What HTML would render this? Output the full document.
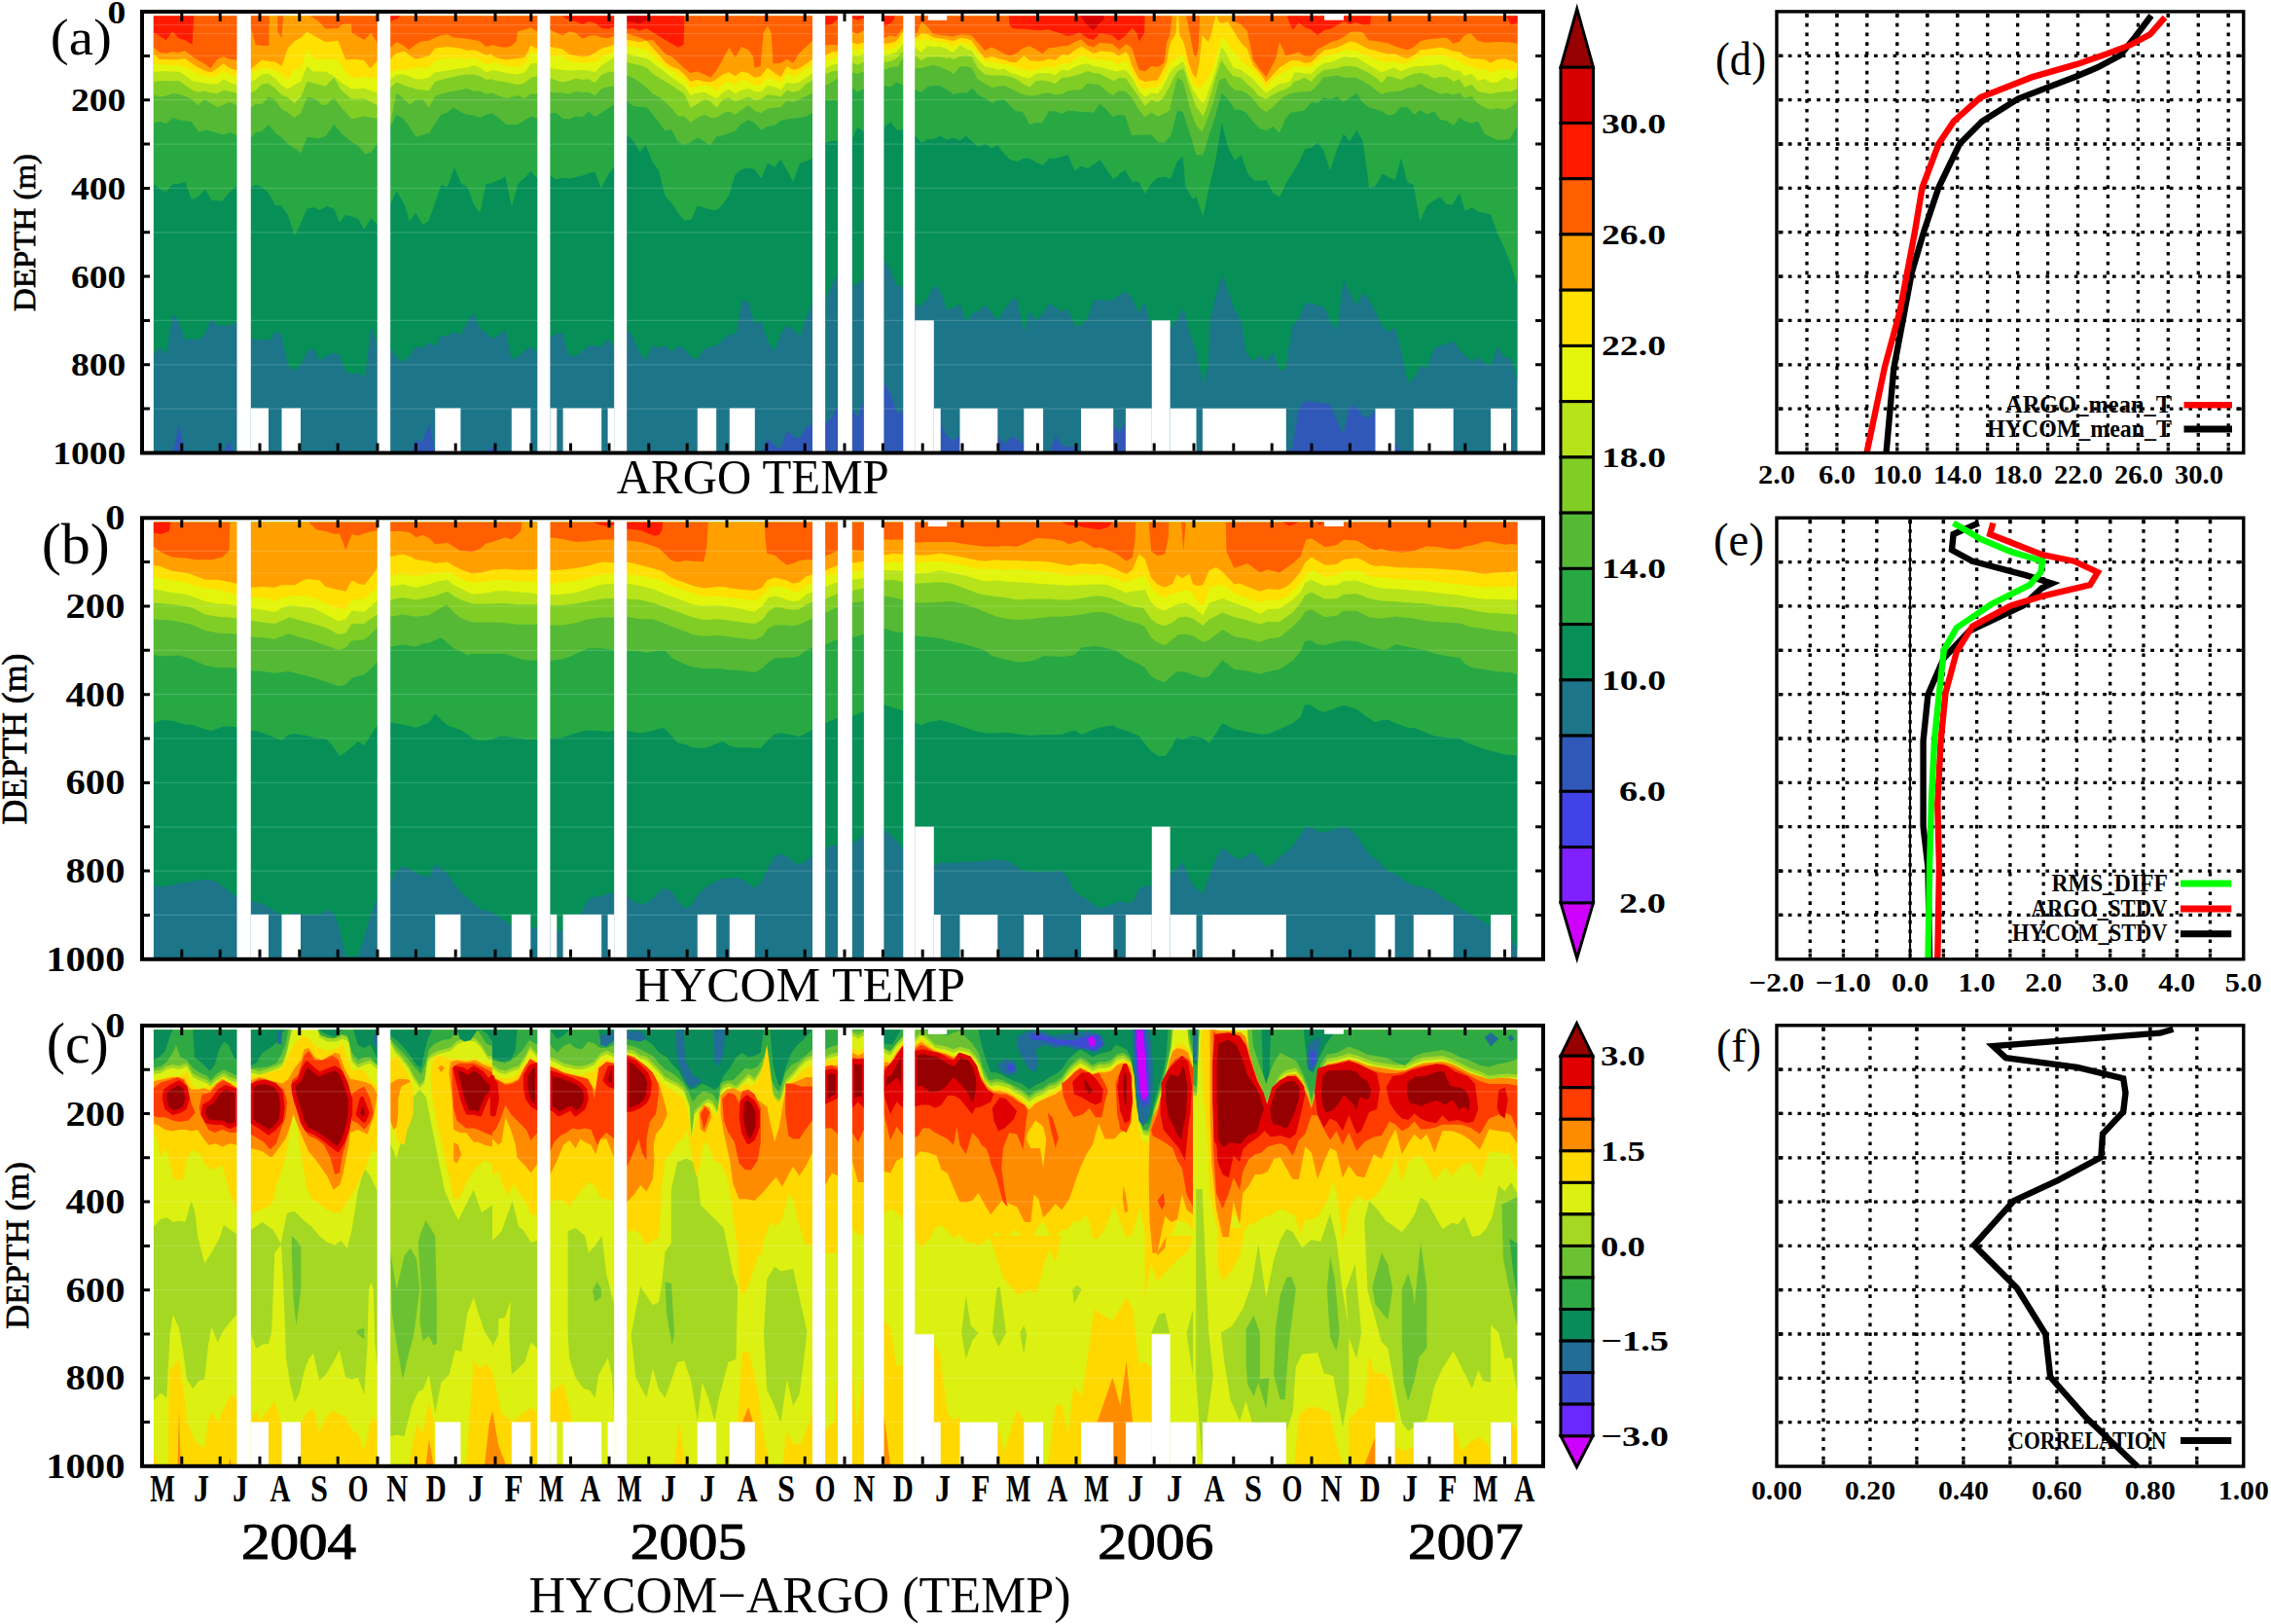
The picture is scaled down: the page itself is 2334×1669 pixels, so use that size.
<!DOCTYPE html>
<html><head><meta charset="utf-8"><style>
html,body{margin:0;padding:0;background:#fff;}
svg{display:block;}
</style></head><body>
<svg xmlns="http://www.w3.org/2000/svg" width="2334" height="1669" viewBox="0 0 2334 1669" font-family='"Liberation Serif", serif'>
<rect width="2334" height="1669" fill="#fff"/>
<clipPath id="clipa"><rect x="157.7" y="16.2" width="1401.8999999999999" height="447.8"/></clipPath><g clip-path="url(#clipa)">
<rect x="157.7" y="16.2" width="1401.8999999999999" height="447.8" fill="#3058B8"/>
<polygon points="157.9,16.2 157.9,466.0 177.7,466.0 184.0,436.9 190.4,466.0 228.4,466.0 236.4,453.5 239.5,466.0 422.6,466.0 427.4,451.9 433.7,455.1 440.9,436.1 447.2,466.0 499.5,466.0 506.0,458.3 506.0,459.9 513.9,466.0 782.6,466.0 789.0,450.4 796.1,458.3 802.4,460.7 808.8,443.2 815.9,448.8 822.3,450.4 828.6,439.3 834.9,436.1 848.1,435.3 854.8,429.7 861.1,417.1 875.8,422.1 881.1,428.4 887.9,411.0 908.5,393.5 915.1,404.6 921.5,424.4 928.3,422.9 934.2,466.0 966.7,466.0 966.7,433.2 973.0,448.2 979.3,452.2 986.5,448.2 1025.3,448.2 1032.5,456.2 1039.6,449.0 1045.9,451.4 1052.3,456.9 1072.1,466.0 1078.4,466.0 1084.8,448.2 1091.1,457.7 1097.5,459.3 1104.6,459.3 1110.9,466.0 1144.2,466.0 1144.2,437.1 1150.6,444.3 1156.9,435.5 1159.3,466.0 1321.8,465.1 1328.6,459.5 1335.0,419.4 1341.4,412.2 1354.2,413.8 1360.6,414.6 1367.0,415.4 1374.3,433.8 1380.7,446.7 1387.1,417.8 1393.5,417.8 1400.7,428.2 1407.1,429.0 1413.5,421.8 1418.3,465.1 1433.6,455.5 1440.8,465.1 1447.2,465.1 1453.6,462.7 1455.2,465.1 1559.4,465.1 1559.4,16.2" fill="#1C7589"/>
<polygon points="157.9,16.2 157.9,364.0 164.2,356.8 170.6,364.7 177.7,321.9 183.3,329.9 190.4,349.7 196.7,348.1 203.9,349.7 210.2,343.3 217.3,328.0 223.7,334.6 230.0,334.6 236.4,334.6 243.5,330.7 257.8,347.3 263.3,349.7 268.9,348.6 276.0,350.0 283.1,341.0 289.5,343.8 295.8,375.1 302.2,381.4 309.3,375.1 315.6,361.6 322.0,358.1 328.3,371.1 335.4,365.5 342.6,362.4 348.9,364.7 355.3,381.4 361.6,384.6 367.9,383.0 375.1,387.7 381.4,334.6 387.8,355.2 401.2,357.6 407.6,367.1 413.9,372.7 421.0,365.5 427.4,356.0 433.7,357.6 440.9,352.1 447.2,356.0 453.5,344.9 459.9,344.9 467.0,341.0 473.4,344.1 479.7,332.3 486.5,321.2 492.4,336.2 499.5,342.6 506.0,348.1 506.0,348.1 513.1,344.1 519.5,338.6 525.8,369.5 532.2,366.3 538.5,361.6 544.8,356.0 552.3,361.6 565.4,346.5 571.8,343.3 578.1,341.8 584.5,364.7 591.6,366.3 597.9,361.6 605.1,355.2 611.4,355.2 617.8,356.8 624.6,348.1 630.9,356.8 644.2,337.8 651.1,347.3 657.4,362.4 663.7,370.3 670.9,355.2 677.2,357.6 683.6,355.2 690.7,361.6 697.0,355.2 703.4,358.4 709.7,366.3 716.8,369.5 724.0,358.4 730.3,356.0 736.7,355.2 743.0,348.9 749.3,344.1 756.5,343.3 762.8,307.7 769.2,310.8 775.5,333.0 782.6,329.9 789.0,350.5 796.1,360.8 802.4,343.3 808.8,333.8 815.9,339.4 822.3,345.7 828.6,326.7 834.9,310.1 848.1,307.7 854.8,292.6 861.1,282.3 875.8,293.6 881.9,291.2 887.9,285.7 908.5,266.6 915.1,276.9 921.5,292.8 928.3,295.2 940.2,313.4 946.8,314.2 953.2,307.1 959.5,293.6 966.7,299.1 973.0,318.2 979.3,316.6 986.5,312.6 992.8,330.8 999.2,322.1 1005.5,319.7 1012.6,313.4 1019.0,321.3 1025.3,329.3 1032.5,318.2 1038.8,308.6 1045.1,307.1 1052.3,340.4 1058.6,319.7 1065.0,329.3 1071.3,322.9 1078.4,311.8 1084.8,315.8 1091.1,320.5 1097.5,317.4 1104.6,334.8 1110.9,334.8 1118.1,326.1 1124.4,307.9 1130.7,308.6 1143.4,308.6 1150.6,303.1 1156.9,299.1 1163.2,306.3 1169.6,321.3 1176.7,311.0 1183.9,338.8 1202.9,336.4 1209.2,329.3 1216.3,316.6 1222.7,341.9 1226.0,351.3 1229.2,360.9 1236.4,394.6 1242.0,373.7 1243.6,328.9 1250.0,302.7 1255.7,281.9 1262.9,301.1 1268.5,317.1 1275.7,330.5 1281.3,364.1 1288.5,371.3 1294.9,364.9 1301.3,371.3 1308.5,361.7 1315.0,380.9 1321.4,378.5 1327.8,336.1 1335.0,327.2 1341.4,311.2 1347.8,312.0 1360.6,315.2 1367.0,330.5 1374.3,339.3 1380.7,288.3 1387.1,301.1 1394.3,313.9 1400.7,300.3 1407.1,308.3 1413.5,320.8 1420.7,335.3 1427.2,341.7 1433.6,335.3 1440.8,364.1 1447.2,393.8 1453.6,387.4 1460.0,376.1 1466.4,378.5 1473.6,358.5 1480.8,354.5 1487.3,353.7 1493.7,350.5 1500.1,359.3 1506.5,366.5 1512.9,371.3 1519.3,366.5 1525.7,372.9 1532.1,376.1 1538.6,356.1 1546.6,367.3 1553.0,368.1 1559.4,391.4 1559.4,16.2" fill="#069058"/>
<polygon points="157.9,16.2 157.9,189.1 165.0,194.7 170.6,197.1 177.7,189.1 184.0,189.1 190.4,186.8 196.7,205.0 203.1,202.6 211.0,194.7 217.3,205.8 228.4,206.6 236.4,197.1 243.5,190.7 257.8,192.3 263.3,189.9 268.9,192.3 276.0,198.6 283.1,211.3 288.7,211.3 295.8,220.8 302.9,242.2 309.3,228.8 315.6,214.5 322.0,212.9 328.3,216.1 336.2,212.1 343.4,214.5 348.9,228.8 355.3,220.8 367.9,224.8 374.3,235.9 381.4,224.0 387.8,230.4 401.2,209.7 407.6,196.3 415.5,209.7 421.0,227.2 427.4,218.5 434.5,231.1 440.9,226.4 447.2,208.2 453.5,189.9 459.9,192.3 467.0,172.5 474.2,189.1 480.5,192.3 486.8,209.7 493.2,219.3 499.5,189.1 506.0,188.3 506.0,187.6 512.3,185.2 519.5,181.2 525.8,212.9 532.2,189.1 539.3,182.8 545.6,175.7 552.3,183.6 565.4,180.4 571.8,184.4 578.1,182.8 585.3,183.6 591.6,182.0 598.7,180.4 605.1,178.0 611.4,176.5 617.8,193.9 624.9,179.6 630.9,171.7 644.2,138.4 651.8,146.3 657.4,156.6 663.7,149.5 670.9,166.9 677.2,175.7 683.6,201.8 690.7,209.0 697.0,219.3 703.4,226.4 710.5,225.6 716.8,211.3 724.0,213.7 729.5,215.3 736.7,216.1 743.0,209.7 749.3,200.2 755.7,179.6 762.0,174.1 769.2,172.5 775.5,174.1 782.6,183.6 789.0,167.7 796.1,171.7 802.4,163.8 808.8,174.9 815.1,186.8 822.3,167.7 828.6,165.4 834.9,163.0 848.1,147.1 854.8,144.7 861.1,144.7 875.9,143.0 881.2,131.0 887.7,135.6 908.2,131.0 915.4,125.5 921.4,133.8 928.5,132.9 940.2,139.0 946.8,146.9 953.2,143.0 959.5,143.0 966.7,139.8 973.0,143.8 979.3,141.4 986.5,144.6 992.8,139.8 999.2,145.4 1005.5,150.9 1012.6,147.7 1019.0,152.5 1025.3,149.3 1032.5,158.8 1038.8,164.4 1045.1,166.0 1052.3,162.8 1057.8,162.8 1065.0,166.8 1071.3,169.9 1078.4,162.8 1084.8,162.8 1091.1,161.2 1097.5,158.8 1104.6,175.5 1110.9,170.7 1118.1,173.1 1124.4,168.4 1130.7,164.4 1137.1,173.9 1144.2,184.2 1149.8,180.2 1150.0,178.7 1156.3,175.1 1163.5,186.6 1170.6,187.0 1176.9,198.9 1183.3,188.6 1190.4,182.2 1196.8,181.8 1203.1,183.8 1209.4,166.4 1215.8,160.8 1218.2,191.0 1226.0,204.9 1229.2,201.7 1236.4,222.6 1242.8,192.1 1249.2,164.9 1255.7,126.4 1262.9,153.7 1269.3,164.9 1275.7,159.3 1282.1,177.7 1289.3,185.7 1294.9,185.7 1301.3,184.9 1308.5,198.5 1315.0,202.5 1322.2,187.3 1328.6,177.7 1335.0,166.5 1341.4,152.9 1347.8,152.1 1354.2,146.4 1360.6,155.3 1367.0,175.3 1373.5,155.3 1380.7,137.6 1387.1,145.6 1394.3,133.6 1400.7,145.6 1403.9,168.1 1407.1,192.9 1413.5,191.3 1420.7,178.5 1426.4,181.7 1433.6,184.9 1440.0,162.5 1446.4,187.3 1452.8,189.7 1459.2,227.4 1466.4,211.4 1472.8,206.6 1480.0,202.5 1486.5,209.8 1492.9,210.6 1500.1,197.7 1505.7,217.0 1512.9,213.0 1519.3,217.8 1532.1,220.2 1538.6,238.6 1546.6,256.2 1553.0,272.3 1559.4,293.1 1559.4,16.2" fill="#27A843"/>
<polygon points="157.9,16.2 157.9,126.5 165.0,124.9 170.6,127.3 177.7,121.0 184.0,123.3 196.7,124.9 203.9,135.2 212.6,133.7 230.0,138.4 236.4,136.0 243.5,139.2 257.8,141.6 263.3,136.0 268.9,135.2 276.0,128.1 283.1,136.8 289.5,141.6 295.8,147.9 302.9,152.7 309.3,157.4 315.6,140.8 328.3,142.4 334.6,140.0 343.4,128.1 350.5,136.8 361.6,146.3 367.9,149.5 375.1,158.2 381.4,156.6 387.8,147.9 401.2,130.5 407.6,117.8 415.5,123.3 421.0,130.5 427.4,140.8 434.5,138.4 440.9,136.8 447.2,127.3 453.5,117.8 459.9,115.4 466.2,110.7 474.2,115.4 480.5,117.8 486.8,118.6 493.2,121.0 499.5,117.8 506.0,116.2 506.0,116.2 512.3,121.0 520.3,128.1 532.2,128.1 539.3,123.3 545.6,119.4 552.3,121.8 565.4,116.2 571.8,116.2 578.1,121.8 585.3,122.6 591.6,119.4 598.7,120.2 605.1,114.6 611.4,120.2 618.6,115.4 624.9,111.5 630.9,107.5 644.2,103.5 650.3,109.1 657.4,109.9 664.5,109.9 670.9,117.8 677.2,125.7 683.6,134.4 689.9,132.9 697.0,146.3 703.4,148.7 709.7,146.3 716.8,141.6 724.0,145.5 729.5,149.5 736.7,140.0 743.0,139.2 749.3,136.8 755.7,134.4 762.0,127.3 769.2,123.3 775.5,126.5 782.6,133.7 789.0,129.7 796.1,128.9 802.4,124.1 808.8,122.6 815.1,121.8 821.5,121.0 828.6,119.4 834.9,116.2 848.1,102.7 861.1,102.7 875.9,90.4 881.2,94.5 887.7,91.3 908.2,88.1 915.4,89.4 921.4,84.4 928.5,88.1 940.2,92.2 946.8,95.0 953.3,89.0 959.8,88.1 966.2,88.1 975.0,93.6 975.0,93.2 979.8,96.8 986.9,95.6 993.2,95.6 999.6,90.8 1005.1,97.6 1012.3,101.1 1019.4,105.9 1025.7,102.7 1032.1,102.3 1038.4,109.1 1044.7,114.6 1051.1,115.0 1058.2,128.1 1064.6,126.1 1071.3,126.5 1078.0,114.2 1084.4,114.2 1091.5,117.0 1097.9,113.8 1104.2,114.2 1111.3,115.0 1117.7,115.0 1124.0,115.8 1130.3,106.7 1137.5,113.0 1143.8,120.2 1149.8,117.8 1150.0,118.0 1156.3,118.8 1163.1,139.4 1170.6,138.7 1183.3,138.3 1190.4,146.6 1196.8,146.6 1203.1,139.4 1210.2,113.7 1215.8,114.9 1219.7,127.6 1224.5,141.8 1229.3,159.3 1236.4,159.3 1241.9,141.8 1249.1,119.6 1255.4,95.9 1262.5,102.2 1268.9,112.5 1275.2,112.9 1280.8,115.7 1287.1,124.4 1295.0,132.3 1301.4,133.9 1308.5,129.9 1314.9,136.7 1321.2,122.0 1326.7,115.7 1330.0,115.4 1334.5,114.6 1340.9,113.4 1348.0,104.7 1354.3,105.9 1359.9,100.4 1367.8,101.9 1374.1,99.2 1380.5,105.1 1387.6,100.4 1394.0,96.0 1400.3,105.1 1407.0,110.7 1413.8,112.2 1420.1,114.6 1426.5,118.2 1432.8,117.4 1439.9,110.3 1446.3,109.9 1453.4,117.8 1459.7,113.0 1466.9,117.8 1474.0,114.2 1480.3,122.9 1486.7,124.1 1493.8,128.9 1500.2,121.0 1505.0,124.1 1506.5,124.8 1512.9,126.4 1519.3,124.8 1525.7,137.6 1538.6,144.0 1551.4,143.2 1559.4,129.6 1559.4,16.2" fill="#55B935"/>
<polygon points="157.9,16.2 157.9,97.2 164.2,99.6 170.6,98.4 177.3,96.0 184.0,96.8 190.0,98.8 197.5,102.3 203.1,108.3 210.2,101.9 216.5,106.3 223.3,109.9 229.6,107.5 236.4,105.1 243.1,107.9 257.4,111.1 262.5,107.1 269.2,106.7 276.0,99.6 282.3,102.3 289.5,112.2 295.8,115.4 302.5,121.0 309.3,116.2 315.6,100.0 322.0,101.1 326.0,103.1 329.9,107.5 334.6,108.3 343.4,100.4 350.5,109.9 361.6,122.6 374.3,119.4 387.8,121.8 401.2,126.5 407.6,95.6 415.5,101.9 421.0,107.5 427.4,102.7 434.5,101.9 440.9,110.7 447.2,98.8 453.5,96.4 459.9,94.8 472.6,92.4 480.5,90.8 486.8,94.0 493.2,93.2 499.5,96.4 506.0,95.6 506.0,95.6 520.3,101.2 532.2,98.0 539.3,101.2 545.6,96.4 552.3,96.4 565.4,94.8 578.1,95.6 585.3,96.4 591.6,94.0 598.7,94.8 605.1,94.8 611.4,98.0 618.6,90.8 624.9,89.3 630.9,88.5 644.2,77.4 650.3,79.8 657.4,84.5 664.5,90.1 670.9,96.4 677.2,99.6 683.6,105.1 690.7,111.5 697.0,119.4 703.4,119.4 709.7,125.7 716.8,121.0 724.0,117.8 730.3,121.0 736.7,121.0 743.0,116.2 749.3,114.6 755.7,117.8 762.0,113.0 769.2,108.3 775.5,113.8 781.8,116.2 789.0,111.5 796.1,110.7 802.4,109.9 808.8,103.5 815.1,105.1 821.5,101.9 828.6,98.8 834.9,95.6 848.1,87.7 854.8,84.5 861.1,80.5 875.9,74.2 881.2,76.1 887.7,73.7 908.2,71.9 915.4,69.1 922.8,68.2 928.5,59.0 940.2,70.5 946.8,70.0 953.3,68.2 958.8,66.8 966.2,68.7 975.0,72.8 975.0,72.2 979.8,76.2 986.9,68.3 993.2,68.3 998.8,69.8 1005.1,81.7 1012.3,86.1 1019.4,90.1 1025.7,88.5 1032.1,88.1 1038.4,90.8 1044.7,94.0 1051.1,96.8 1058.2,98.4 1064.6,98.0 1071.3,96.0 1078.0,95.6 1084.4,97.6 1091.5,96.8 1097.9,93.2 1104.2,92.4 1111.3,92.0 1117.7,85.7 1124.0,86.5 1130.3,87.3 1137.5,94.0 1143.8,98.0 1149.8,93.2 1150.0,93.2 1157.1,94.0 1163.5,101.1 1170.6,113.0 1176.6,120.2 1183.3,115.4 1190.4,119.8 1197.6,116.2 1202.3,113.0 1205.5,97.2 1210.2,79.7 1215.8,83.7 1218.2,91.9 1222.9,111.7 1229.3,129.1 1235.6,135.5 1237.2,131.5 1241.9,119.6 1247.5,103.8 1253.0,82.4 1259.4,80.0 1262.5,86.3 1268.9,92.7 1275.2,93.1 1281.6,95.9 1287.9,101.4 1295.0,110.9 1301.4,114.9 1308.5,110.1 1314.9,103.0 1321.2,98.2 1326.7,95.9 1330.0,95.0 1334.5,94.4 1340.9,94.0 1347.6,93.6 1354.3,87.3 1359.9,79.4 1367.8,78.6 1374.1,77.4 1380.9,79.4 1387.6,79.7 1394.0,79.7 1400.3,83.3 1407.0,86.9 1413.8,92.4 1420.1,96.8 1426.5,94.4 1432.8,94.0 1439.9,93.2 1446.3,90.4 1453.4,89.7 1459.7,86.1 1466.9,90.8 1474.0,93.2 1480.3,96.8 1486.7,95.6 1493.8,97.6 1500.2,95.2 1505.0,100.9 1512.4,98.7 1518.3,106.1 1525.7,110.5 1532.0,112.7 1539.0,110.9 1546.4,112.7 1553.1,110.1 1559.7,103.8 1559.7,16.2" fill="#80CE25"/>
<polygon points="157.9,16.2 157.9,84.1 164.2,83.3 170.6,82.9 177.3,83.3 184.0,82.9 190.0,87.3 197.5,92.4 203.1,94.8 210.2,93.6 216.5,95.2 223.3,96.0 229.6,92.8 236.4,94.0 243.1,95.6 257.4,95.2 262.5,93.2 269.2,86.5 276.0,85.7 282.3,90.4 289.5,97.6 295.8,100.0 302.5,106.3 309.3,99.6 315.6,84.1 322.0,85.3 326.0,86.5 334.6,88.5 343.4,79.8 350.5,92.4 361.6,101.9 374.3,101.2 387.8,108.3 401.2,90.1 407.6,84.5 415.5,87.7 427.4,91.6 434.5,92.4 440.9,93.2 447.2,83.7 453.5,82.1 459.9,80.5 472.6,77.4 480.5,76.6 486.8,76.6 493.2,78.2 499.5,82.1 506.0,81.3 506.0,82.1 520.3,84.5 532.2,86.9 539.3,85.3 545.6,79.8 552.3,78.2 565.4,80.5 578.1,84.5 585.3,82.9 591.6,80.5 598.7,82.1 605.1,81.3 611.4,85.3 618.6,76.6 624.9,74.2 630.9,73.4 644.2,63.9 650.3,65.5 657.4,67.1 664.5,69.4 670.9,75.8 677.2,79.8 683.6,83.7 690.7,87.7 697.0,92.4 703.4,96.4 709.7,110.7 716.8,106.7 724.0,101.9 730.3,104.3 736.7,110.7 743.0,101.9 749.3,100.4 755.7,104.3 762.0,101.9 769.2,99.6 775.5,102.7 781.8,101.9 789.0,97.2 796.1,98.0 802.4,99.6 808.8,92.4 815.1,94.8 821.5,93.2 828.6,86.1 834.9,82.9 848.1,76.6 854.8,73.4 861.1,72.6 875.9,64.5 881.2,66.8 887.7,64.0 908.2,64.0 915.4,62.7 921.0,60.3 928.5,52.5 940.2,56.7 946.8,62.2 953.3,58.5 959.8,58.5 966.2,58.5 975.0,60.3 975.0,58.3 979.8,61.1 986.9,57.6 993.2,57.6 998.8,58.3 1005.1,70.2 1012.3,76.6 1019.4,77.4 1025.7,77.4 1032.1,77.4 1038.4,79.0 1044.7,81.3 1051.1,86.1 1058.2,89.7 1064.6,83.3 1071.3,82.5 1078.0,83.7 1084.4,86.1 1091.5,79.7 1097.9,79.4 1104.2,77.8 1111.3,75.8 1117.7,73.0 1124.0,75.0 1130.3,75.8 1137.5,79.4 1143.8,82.9 1149.8,80.5 1150.0,79.7 1157.1,80.5 1163.5,90.1 1170.6,99.6 1176.6,109.1 1183.3,102.7 1189.6,105.1 1194.4,101.9 1199.1,94.0 1202.3,88.5 1206.3,79.7 1210.2,73.4 1215.8,70.2 1218.2,75.8 1221.3,86.9 1226.1,101.1 1229.3,109.9 1232.4,113.8 1236.4,119.8 1239.6,112.2 1241.9,104.3 1245.1,94.8 1249.1,79.7 1255.4,61.5 1261.0,70.2 1267.3,78.2 1275.2,79.7 1281.6,86.1 1287.9,91.6 1292.7,98.0 1301.4,101.9 1307.7,97.2 1314.9,94.0 1321.2,91.6 1326.7,88.5 1330.0,83.7 1334.5,82.5 1340.9,79.7 1347.6,84.1 1354.3,76.6 1361.1,71.8 1367.8,71.0 1374.1,70.2 1380.9,67.9 1387.6,67.9 1394.0,68.7 1400.3,71.8 1407.0,75.0 1413.8,79.7 1420.1,85.3 1425.7,78.2 1432.8,79.4 1439.9,82.1 1446.3,78.2 1453.4,75.8 1459.7,75.0 1466.9,76.6 1474.0,80.5 1480.3,79.0 1486.7,79.0 1493.8,83.7 1500.2,81.3 1505.0,89.8 1512.4,86.8 1519.1,93.9 1525.7,95.0 1532.0,96.5 1539.0,95.0 1546.4,94.2 1553.1,93.9 1559.7,90.9 1559.7,16.2" fill="#B7E31B"/>
<polygon points="157.9,16.2 157.9,73.8 164.2,73.4 170.6,73.0 177.3,73.8 184.0,73.4 190.0,77.4 197.5,82.9 203.1,84.5 210.2,85.3 216.5,86.5 223.3,86.5 229.6,81.3 236.4,84.9 243.1,86.9 257.4,83.7 262.5,81.7 269.2,76.2 276.0,75.8 282.3,80.1 289.5,87.7 295.8,91.6 302.5,87.3 309.3,83.7 315.6,67.9 322.0,73.4 326.0,73.4 334.6,73.4 344.2,79.0 350.5,84.5 361.6,91.6 374.3,90.8 387.8,95.6 401.2,82.1 407.6,76.6 415.5,76.6 427.4,81.3 434.5,81.3 440.9,79.8 447.2,74.2 453.5,73.4 459.9,72.6 472.6,70.2 480.5,69.4 486.8,67.1 493.2,69.4 499.5,74.2 506.0,72.6 506.0,71.8 520.3,75.0 532.2,76.6 539.3,74.2 545.6,65.5 552.3,64.7 565.4,70.2 578.1,71.8 585.3,72.6 598.7,71.8 605.1,72.6 611.4,74.2 618.6,67.1 624.9,63.1 630.9,59.1 644.2,55.2 650.3,56.8 657.4,58.4 664.5,59.9 670.9,64.7 677.2,69.4 683.6,74.2 690.7,79.8 697.0,84.5 703.4,88.5 709.7,98.0 716.8,95.6 724.0,94.8 730.3,98.0 736.7,101.2 743.0,94.8 749.3,91.6 755.7,96.4 762.0,92.4 769.2,90.8 775.5,94.0 781.8,94.8 789.0,87.7 796.1,89.3 802.4,92.4 808.8,84.5 815.1,86.1 821.5,84.5 828.6,79.8 834.9,75.0 848.1,70.2 854.8,67.1 861.1,65.5 875.9,56.2 881.2,57.6 887.7,55.7 908.2,57.1 915.4,55.7 921.0,53.4 928.5,45.1 940.2,48.3 946.8,53.9 953.3,47.0 959.8,48.3 966.2,47.9 975.0,51.1 975.0,52.8 979.8,53.6 986.9,46.1 993.2,50.4 998.8,52.0 1005.1,61.5 1012.3,68.7 1019.4,69.4 1025.7,71.8 1032.1,70.6 1038.4,75.0 1044.7,76.6 1051.1,79.0 1058.2,80.5 1064.6,75.8 1071.3,75.0 1078.0,75.0 1084.4,77.0 1091.5,71.4 1097.9,72.6 1104.2,69.0 1111.3,66.3 1117.7,65.5 1124.0,68.3 1130.3,68.7 1143.0,72.6 1149.8,73.4 1150.0,72.6 1157.1,71.8 1163.5,79.7 1170.6,93.2 1176.6,99.6 1183.3,95.6 1189.6,96.4 1194.4,90.8 1199.1,81.3 1202.3,75.0 1205.5,70.2 1210.2,67.1 1215.8,63.1 1218.2,68.7 1221.3,79.7 1226.1,92.4 1229.3,97.2 1232.4,101.9 1236.4,106.3 1239.6,101.1 1241.9,94.0 1245.1,85.3 1249.1,73.4 1255.4,48.0 1261.0,56.0 1267.3,69.4 1275.2,71.8 1281.6,76.6 1287.9,81.3 1292.7,86.9 1301.4,95.6 1307.7,90.8 1314.9,86.1 1321.2,85.3 1326.7,82.9 1330.0,74.4 1334.5,74.6 1340.9,75.4 1347.6,75.8 1354.3,69.0 1361.1,64.7 1367.8,63.9 1374.1,61.5 1380.9,58.3 1387.6,59.1 1394.0,59.1 1400.3,63.1 1407.0,67.1 1413.8,71.0 1420.1,74.6 1426.5,71.4 1432.8,69.4 1439.9,73.4 1446.3,70.2 1453.4,68.3 1459.7,67.9 1466.9,67.5 1474.0,67.1 1480.3,65.9 1486.7,67.9 1493.8,72.6 1500.2,72.6 1505.0,78.0 1512.4,75.8 1519.1,82.8 1525.7,81.3 1532.0,85.0 1539.0,84.6 1546.4,79.1 1553.1,82.0 1559.7,79.1 1559.7,16.2" fill="#E3F50A"/>
<polygon points="157.9,16.2 157.9,64.7 164.2,66.3 170.6,66.3 177.3,67.1 184.0,66.7 190.0,68.7 197.5,72.6 203.1,75.4 210.2,77.4 216.5,79.0 223.3,77.4 229.6,73.0 236.4,76.6 243.1,78.2 257.4,75.8 262.5,72.6 269.2,69.8 276.0,70.2 282.3,71.8 289.5,76.6 295.8,82.5 302.5,71.0 309.3,70.2 315.6,51.2 322.0,59.9 326.0,60.7 334.6,60.7 347.3,60.7 355.3,75.0 364.8,80.5 374.3,78.2 380.6,79.8 387.8,81.3 401.2,73.4 407.6,71.8 415.5,71.8 421.8,71.0 427.4,68.7 434.5,70.2 440.9,68.7 447.2,62.3 453.5,60.7 459.9,59.9 466.2,59.1 472.6,59.9 480.5,60.7 486.8,59.1 493.2,62.3 499.5,66.3 506.0,65.5 506.0,63.1 520.3,67.9 532.2,68.7 539.3,65.5 545.6,54.4 552.3,55.2 565.4,57.6 578.1,57.6 585.3,62.3 591.6,63.9 598.7,64.7 605.1,63.9 611.4,64.7 618.6,57.6 624.9,56.0 630.9,52.8 644.2,47.3 650.3,48.0 657.4,49.6 664.5,50.4 670.9,56.8 677.2,63.1 683.6,68.7 690.7,72.6 697.0,76.6 703.4,81.3 709.7,90.8 716.8,88.5 724.0,87.7 730.3,88.5 736.7,93.2 743.0,86.1 749.3,82.9 755.7,86.9 762.0,82.1 769.2,83.7 775.5,87.7 781.8,86.9 789.0,79.8 796.1,82.1 802.4,84.5 808.8,75.0 815.1,78.2 821.5,75.8 828.6,71.0 834.9,66.3 848.1,62.3 854.8,59.9 861.1,58.4 875.9,49.7 881.2,51.6 887.7,49.7 908.2,51.1 915.4,50.6 921.0,48.3 928.5,37.7 940.2,42.3 946.8,40.9 953.3,40.0 959.8,42.3 966.2,43.3 975.0,45.1 975.0,47.3 979.8,48.0 986.9,43.3 993.2,45.3 998.8,47.3 1005.1,55.2 1012.3,63.1 1019.4,63.9 1025.7,64.7 1032.1,66.3 1038.4,67.1 1044.7,69.4 1051.1,71.0 1058.2,73.0 1064.6,71.4 1071.3,69.4 1078.0,68.3 1084.4,69.4 1091.5,64.7 1097.9,65.5 1104.2,61.5 1111.3,57.2 1117.7,58.7 1124.0,61.5 1130.3,60.7 1143.0,62.3 1149.8,67.1 1150.0,65.5 1157.1,62.3 1160.3,67.1 1163.5,75.0 1170.6,89.3 1176.6,91.6 1183.3,90.1 1189.6,89.3 1194.4,83.7 1199.1,73.4 1202.3,65.5 1205.5,62.3 1210.2,59.1 1215.8,57.6 1218.2,62.3 1221.3,75.0 1226.1,86.1 1229.3,89.3 1235.6,89.3 1238.8,84.5 1241.9,79.0 1245.1,73.4 1249.1,61.5 1255.4,36.9 1262.5,44.9 1268.9,54.4 1275.2,61.5 1281.6,67.9 1286.3,70.2 1292.7,77.4 1301.4,90.1 1307.7,81.3 1314.9,76.6 1321.2,73.4 1326.7,70.2 1330.0,67.6 1334.5,68.3 1340.9,69.0 1347.6,68.7 1354.3,62.7 1361.1,57.2 1367.8,56.8 1374.1,54.4 1380.9,51.2 1387.6,51.2 1394.0,52.0 1400.3,56.0 1407.0,58.3 1413.8,60.7 1420.1,63.1 1426.5,63.9 1433.6,62.3 1439.9,65.5 1446.3,64.7 1453.4,60.7 1459.7,58.3 1466.9,58.0 1474.0,57.2 1480.3,56.0 1486.7,58.0 1493.8,60.7 1500.2,62.3 1505.0,66.5 1512.4,68.4 1518.7,71.7 1525.7,69.9 1532.0,75.0 1539.0,71.7 1546.4,70.2 1553.1,72.4 1559.7,72.8 1559.7,16.2" fill="#FFE000"/>
<polygon points="157.9,16.2 157.9,55.6 164.2,61.1 170.6,61.1 177.3,61.5 184.0,61.1 190.0,59.9 197.5,65.5 203.1,69.0 210.2,72.6 216.5,74.6 223.3,70.2 229.6,65.5 236.4,70.2 243.1,72.2 257.4,71.4 262.5,67.1 269.2,61.5 276.0,63.1 282.3,63.5 289.5,67.9 295.8,49.6 302.5,42.5 309.3,38.5 315.6,32.6 326.0,38.5 334.6,43.3 347.3,41.7 355.3,61.5 364.8,60.7 374.3,62.3 380.6,70.2 387.8,62.3 401.2,60.7 407.6,54.4 415.5,52.8 421.8,57.6 427.4,60.7 434.5,59.1 440.9,57.6 447.2,49.6 453.5,48.8 459.9,48.0 466.2,48.8 472.6,49.6 480.5,52.0 486.8,51.2 493.2,53.6 499.5,56.8 506.0,55.2 506.0,57.6 512.3,59.9 520.3,61.5 532.2,59.9 539.3,59.1 545.6,46.5 552.3,50.4 565.4,48.0 578.1,50.4 585.3,56.0 598.7,58.4 605.1,57.6 611.4,54.4 618.6,49.6 624.9,48.0 630.9,45.7 644.2,40.9 650.3,41.7 657.4,43.3 664.5,41.7 670.9,49.6 677.2,56.0 683.6,63.9 690.7,68.7 697.0,71.0 703.4,76.6 709.7,83.7 716.8,82.1 724.0,83.7 730.3,84.5 736.7,81.3 743.0,76.6 749.3,74.2 755.7,78.2 762.0,73.4 769.2,75.0 775.5,79.8 781.8,78.2 789.0,69.4 796.1,75.0 802.4,79.0 808.8,67.9 815.1,71.8 821.5,70.2 828.6,65.5 834.9,60.7 848.1,56.8 854.8,53.6 861.1,52.8 875.9,43.7 881.2,45.6 887.7,43.7 908.2,45.1 915.4,44.2 921.0,42.3 928.5,32.6 940.2,39.6 946.8,34.5 953.3,34.9 959.8,38.6 966.2,39.6 975.0,40.9 975.0,41.3 979.8,42.1 986.9,38.9 993.2,39.7 998.8,41.7 1005.1,51.2 1012.3,59.9 1019.4,58.0 1025.7,59.9 1032.1,61.5 1038.4,63.9 1044.7,63.9 1052.3,57.2 1058.2,61.9 1064.6,62.7 1071.3,62.7 1078.0,60.3 1084.4,61.9 1091.5,56.0 1097.9,56.8 1104.2,52.0 1111.3,47.6 1117.7,51.2 1124.0,55.2 1130.3,52.4 1143.0,53.6 1149.8,57.6 1150.0,57.6 1157.1,53.2 1160.3,57.6 1163.5,67.9 1170.6,81.3 1176.6,84.1 1183.3,82.9 1189.6,82.5 1194.4,73.4 1199.1,63.9 1201.5,49.6 1203.1,43.3 1205.5,39.3 1208.7,34.6 1209.6,16.2 1211.2,16.2 1212.2,36.2 1215.8,41.7 1218.2,49.6 1221.3,63.9 1225.3,75.0 1229.3,80.5 1232.4,65.5 1235.6,36.2 1241.9,43.3 1245.1,33.8 1249.1,16.2 1250.3,16.2 1253.0,22.7 1256.2,23.9 1261.8,22.3 1266.5,29.8 1271.3,37.7 1276.8,45.7 1281.6,49.6 1284.7,59.1 1288.7,67.9 1295.0,75.0 1301.4,84.5 1307.7,77.4 1314.9,69.4 1321.2,65.5 1326.7,62.3 1330.0,62.1 1334.5,62.3 1340.9,64.7 1347.6,63.9 1354.3,57.6 1361.1,51.6 1367.8,50.4 1374.1,48.8 1380.9,45.7 1387.6,42.5 1394.0,43.7 1400.3,47.3 1407.0,50.4 1413.8,52.0 1420.1,54.0 1426.5,55.6 1433.6,55.2 1439.9,58.3 1446.3,59.9 1453.4,56.8 1459.7,51.2 1466.9,50.4 1474.0,49.6 1480.3,48.8 1486.7,50.0 1493.8,52.8 1500.2,53.6 1505.0,57.3 1512.4,60.2 1518.3,60.2 1525.7,61.0 1532.0,64.7 1539.0,61.0 1546.4,60.2 1553.1,62.5 1559.7,65.1 1559.7,16.2" fill="#FFA000"/>
<polygon points="157.9,16.2 157.9,48.4 164.2,54.0 170.6,54.8 177.3,53.2 184.0,54.0 190.0,52.0 197.5,58.0 203.1,61.5 210.2,65.5 216.5,70.2 223.3,61.1 229.6,58.3 236.4,60.7 243.1,61.9 257.4,25.9 262.5,45.7 269.2,46.9 276.4,46.9 276.8,16.2 285.1,16.2 285.5,33.0 289.5,39.3 291.0,16.2 318.8,16.2 326.0,21.1 328.3,22.7 334.6,29.8 347.3,29.0 352.1,25.1 360.8,24.3 361.6,33.8 374.3,40.9 381.4,33.8 387.8,44.1 401.2,48.8 407.6,43.3 415.5,47.3 420.3,51.2 427.4,45.7 432.9,42.5 440.9,41.7 447.2,38.5 453.5,36.2 459.9,35.4 466.2,38.5 474.2,39.3 480.5,40.1 486.8,40.9 493.2,42.5 499.5,48.0 506.0,46.5 506.0,45.7 512.3,48.0 520.3,48.8 525.8,47.3 530.6,42.5 532.2,32.2 539.3,30.6 545.6,28.2 552.3,32.2 565.4,30.6 571.8,33.8 578.1,36.2 585.3,32.2 591.6,33.8 598.7,40.1 605.1,36.9 611.4,36.2 618.6,38.5 624.9,39.3 630.9,36.9 644.2,34.6 650.3,36.2 657.4,38.5 664.5,41.7 670.9,40.9 677.2,48.0 683.6,55.2 690.7,58.4 697.0,63.9 703.4,70.2 709.7,75.0 716.8,73.4 724.0,76.6 730.3,79.8 736.7,71.8 743.0,60.7 749.3,48.8 755.7,59.1 762.0,48.0 769.2,51.2 773.9,57.6 775.5,69.4 781.8,67.9 784.5,33.8 789.0,26.6 792.6,33.8 794.5,65.5 802.4,64.7 808.8,60.7 815.1,64.7 821.5,54.4 828.6,48.0 834.9,41.7 848.1,46.5 854.8,45.7 861.1,46.5 875.9,32.2 881.2,34.9 887.7,31.2 908.2,39.1 915.4,36.3 921.0,37.7 928.5,28.5 940.2,35.9 943.1,33.1 946.8,22.5 953.3,27.6 958.8,34.9 966.2,35.9 975.0,36.8 975.0,36.9 979.8,37.3 986.9,35.4 993.2,35.8 998.8,36.6 1005.1,44.1 1012.3,52.0 1019.4,48.4 1025.7,51.6 1032.1,55.2 1038.4,57.6 1044.7,54.4 1051.1,49.6 1058.2,47.3 1064.6,50.8 1071.3,55.2 1078.0,49.2 1084.4,48.8 1090.7,47.6 1097.1,47.3 1104.2,43.3 1111.3,40.5 1117.7,46.5 1124.0,48.8 1130.3,43.7 1143.0,44.9 1149.8,50.8 1150.0,51.2 1157.5,45.3 1163.5,49.6 1165.9,57.6 1170.6,71.8 1176.6,73.4 1183.3,67.9 1190.4,68.7 1196.0,64.7 1197.6,57.6 1199.1,43.3 1202.3,36.2 1204.7,16.2 1219.0,16.2 1221.3,25.9 1224.5,43.3 1226.9,56.0 1229.3,59.1 1231.6,49.6 1233.2,16.2 1267.3,16.2 1268.1,21.9 1275.2,25.1 1281.6,31.4 1284.7,45.7 1287.9,61.5 1295.0,71.8 1301.4,79.0 1307.7,67.1 1311.7,59.1 1314.9,43.3 1318.8,51.2 1321.2,57.6 1326.0,56.0 1330.0,54.8 1334.5,53.6 1340.9,57.6 1347.6,58.0 1354.3,50.4 1361.1,46.9 1367.8,43.3 1374.1,41.7 1380.9,38.1 1387.6,33.0 1394.0,32.6 1400.3,33.0 1407.0,41.7 1413.8,42.1 1420.1,43.3 1426.5,44.5 1433.6,47.6 1439.9,49.6 1446.3,51.6 1453.4,48.0 1459.7,42.5 1466.9,40.5 1474.0,39.7 1480.3,39.3 1486.7,38.5 1493.8,44.9 1500.2,42.5 1505.0,36.6 1511.3,34.0 1518.3,41.8 1525.7,43.6 1532.4,43.6 1539.0,42.9 1546.4,43.3 1553.1,43.6 1559.7,44.7 1559.7,16.2" fill="#FF5F00"/>
<polygon points="157.9,16.2 157.9,33.8 164.2,36.9 170.6,41.3 177.3,32.2 184.0,39.7 190.0,40.9 197.5,45.7 199.3,16.2 243.1,16.2 325.9,16.2 401.2,16.2 401.2,21.9 409.2,18.7 411.1,16.2 506.0,16.2 506.0,16.2 565.4,16.2 577.3,16.3 583.7,20.3 591.6,21.9 598.7,25.1 605.1,21.9 611.4,23.5 618.6,29.0 624.9,29.8 630.9,27.4 644.2,29.8 650.3,29.0 657.4,31.4 664.5,29.0 670.9,33.0 677.2,36.9 683.6,40.9 690.7,44.9 697.0,48.8 702.6,45.7 703.4,16.2 848.1,16.2 848.1,26.6 854.8,25.1 861.1,19.5 875.9,18.8 881.2,20.6 887.7,18.8 908.2,27.1 911.7,25.7 915.4,23.9 919.1,19.2 919.6,16.2 975.0,16.2 1036.8,16.2 1037.6,25.9 1040.8,29.0 1046.3,29.8 1051.1,29.4 1058.2,30.2 1064.6,31.0 1070.9,31.0 1077.2,30.2 1083.6,32.2 1090.7,34.6 1097.1,36.9 1104.2,35.4 1109.7,33.4 1117.7,39.3 1124.0,40.9 1130.3,34.2 1143.0,36.2 1149.4,41.7 1150.0,41.7 1157.9,35.4 1163.5,28.2 1168.6,34.6 1170.6,42.5 1176.2,33.8 1176.6,16.2 1322.8,16.2 1324.4,21.1 1328.3,30.6 1330.0,29.0 1334.9,23.5 1341.6,28.2 1347.2,30.2 1354.3,36.2 1361.1,31.0 1367.8,29.4 1374.1,25.9 1380.9,21.9 1387.6,25.1 1394.0,23.1 1400.3,25.5 1408.2,25.5 1409.0,16.2 1505.0,16.2 1505.0,16.2 1547.5,16.2 1553.1,25.5 1559.7,23.7 1559.7,16.2" fill="#FF1A00"/>
<polygon points="644.2,16.2 644.2,16.2 644.2,21.9 651.8,22.7 657.4,24.3 664.5,21.1 666.1,16.2 1109.7,16.2 1109.7,16.3 1114.5,21.9 1119.2,27.4 1124.0,31.4 1128.8,25.1 1134.3,20.3 1134.7,16.2 1134.7,16.2" fill="#D60000"/>
<path d="M157.7,25.6 H1559.6 M157.7,34.7 H1559.6 M157.7,57.4 H1559.6 M157.7,102.7 H1559.6 M157.7,148.1 H1559.6 M157.7,193.4 H1559.6 M157.7,238.8 H1559.6 M157.7,329.4 H1559.6 M157.7,374.8 H1559.6 M157.7,420.1 H1559.6" stroke="#fff" stroke-opacity="0.16" stroke-width="1.2" fill="none"/>
</g>
<rect x="243.5" y="15.2" width="14.300000000000011" height="449.3" fill="#fff"/>
<rect x="387.8" y="15.2" width="13.399999999999977" height="449.3" fill="#fff"/>
<rect x="257.8" y="419.5" width="18.19999999999999" height="45.0" fill="#fff"/>
<rect x="289.5" y="419.5" width="19.5" height="45.0" fill="#fff"/>
<rect x="447.2" y="419.5" width="26.19999999999999" height="45.0" fill="#fff"/>
<rect x="525.8" y="419.5" width="19.5" height="45.0" fill="#fff"/>
<rect x="552.3" y="15.2" width="13.100000000000023" height="449.3" fill="#fff"/>
<rect x="565.4" y="419.5" width="6.899999999999977" height="45.0" fill="#fff"/>
<rect x="578.6" y="419.5" width="39.60000000000002" height="45.0" fill="#fff"/>
<rect x="624.6" y="419.5" width="6.600000000000023" height="45.0" fill="#fff"/>
<rect x="631.2" y="15.2" width="13.0" height="449.3" fill="#fff"/>
<rect x="716.8" y="419.5" width="19.40000000000009" height="45.0" fill="#fff"/>
<rect x="749.8" y="419.5" width="26.0" height="45.0" fill="#fff"/>
<rect x="835" y="15.2" width="13.100000000000023" height="449.3" fill="#fff"/>
<rect x="861.1" y="15.2" width="14.699999999999932" height="449.3" fill="#fff"/>
<rect x="887.9" y="15.2" width="20.5" height="449.3" fill="#fff"/>
<rect x="928.3" y="15.2" width="11.900000000000091" height="449.3" fill="#fff"/>
<rect x="953.8" y="15.2" width="19.40000000000009" height="5.600000000000001" fill="#fff"/>
<rect x="1361.1" y="15.2" width="19.800000000000182" height="5.5" fill="#fff"/>
<rect x="940.2" y="329.3" width="19.59999999999991" height="135.2" fill="#fff"/>
<rect x="959.8" y="419.7" width="6.900000000000091" height="44.80000000000001" fill="#fff"/>
<rect x="986.5" y="419.7" width="38.799999999999955" height="44.80000000000001" fill="#fff"/>
<rect x="1052.3" y="419.7" width="19.799999999999955" height="44.80000000000001" fill="#fff"/>
<rect x="1111" y="419.7" width="33.200000000000045" height="44.80000000000001" fill="#fff"/>
<rect x="1156.9" y="419.7" width="26.899999999999864" height="44.80000000000001" fill="#fff"/>
<rect x="1183.8" y="329.3" width="18.799999999999955" height="135.2" fill="#fff"/>
<rect x="1202.6" y="419.7" width="26.90000000000009" height="44.80000000000001" fill="#fff"/>
<rect x="1235.9" y="419.8" width="85.89999999999986" height="44.69999999999999" fill="#fff"/>
<rect x="1413.5" y="419.8" width="20.09999999999991" height="44.69999999999999" fill="#fff"/>
<rect x="1452.8" y="419.8" width="40.90000000000009" height="44.69999999999999" fill="#fff"/>
<rect x="1532.1" y="419.8" width="20.90000000000009" height="44.69999999999999" fill="#fff"/>
<clipPath id="clipb"><rect x="157.7" y="536.5" width="1401.8999999999999" height="447.79999999999995"/></clipPath><g clip-path="url(#clipb)">
<rect x="157.7" y="536.5" width="1401.8999999999999" height="447.79999999999995" fill="#1C7589"/>
<polygon points="157.9,536.5 157.9,910.1 165.0,910.9 171.4,910.9 184.0,907.7 196.7,906.2 204.7,904.6 211.0,903.8 217.3,904.6 223.7,906.9 236.4,916.5 243.5,922.0 257.8,926.0 263.3,927.6 269.7,929.1 276.0,932.3 282.3,937.1 289.5,941.0 295.8,940.2 302.9,937.9 309.3,939.4 315.6,940.2 322.0,940.2 328.3,940.2 335.4,935.5 342.6,937.1 348.9,954.5 355.3,983.0 367.9,983.0 374.3,964.0 380.6,940.2 387.8,923.6 401.2,906.9 407.6,894.3 414.7,890.3 421.0,892.7 427.4,897.4 434.5,899.8 440.9,901.4 447.2,887.9 453.5,892.7 459.9,898.2 467.8,910.1 474.2,917.2 480.5,922.8 486.8,928.3 493.2,933.9 499.5,936.3 506.0,937.1 506.0,937.9 513.1,942.6 519.5,946.6 525.8,952.1 545.6,952.9 552.3,953.7 565.4,956.1 572.3,956.9 578.9,956.1 596.4,940.2 604.3,925.2 611.4,921.2 617.8,921.2 624.9,918.8 631.2,916.5 644.2,920.4 651.1,926.0 658.2,929.1 664.5,928.3 670.9,923.6 677.2,916.5 683.6,912.5 690.7,916.5 697.0,926.0 704.2,933.9 710.5,929.9 717.6,918.8 724.0,913.3 730.3,908.5 737.5,905.4 743.8,902.2 750.1,903.0 756.5,902.2 762.8,903.8 769.2,908.5 775.5,912.5 782.6,906.9 789.8,891.1 796.1,880.0 802.4,877.6 808.8,880.0 815.9,886.3 822.3,888.7 828.6,884.0 834.9,880.0 848.1,872.1 854.8,868.9 861.1,868.1 875.8,867.3 887.9,857.8 908.5,851.5 915.1,857.8 921.5,864.1 928.3,872.1 940.5,889.5 959.8,889.5 966.7,886.3 978.6,887.1 992.8,885.5 1005.5,885.5 1018.2,884.0 1025.3,883.2 1032.5,884.0 1038.8,886.3 1045.1,891.1 1051.5,895.1 1058.6,895.8 1065.0,896.6 1072.1,895.8 1078.4,896.6 1084.8,895.1 1091.1,895.1 1097.5,902.2 1103.8,915.7 1110.9,920.4 1118.1,925.2 1124.4,929.9 1130.7,933.9 1137.1,931.5 1144.2,929.1 1150.6,926.0 1157.7,927.6 1164.0,927.6 1170.4,914.1 1176.7,910.1 1183.9,910.9 1202.9,899.0 1209.2,892.7 1215.6,886.3 1222.7,903.8 1226.0,909.5 1236.4,919.1 1242.8,900.7 1250.0,881.4 1256.5,871.0 1262.9,876.6 1269.3,881.4 1275.7,883.0 1282.1,878.2 1288.5,875.8 1294.9,883.8 1302.1,891.0 1308.5,887.8 1315.8,879.8 1322.2,875.8 1328.6,869.4 1335.0,860.6 1341.4,850.2 1347.8,850.2 1354.2,854.2 1361.4,855.8 1367.8,853.4 1374.3,851.8 1380.7,849.4 1387.1,851.8 1394.3,859.0 1400.7,868.6 1407.1,877.4 1413.5,882.2 1419.9,888.6 1426.4,895.9 1432.8,897.5 1439.2,901.5 1446.4,907.1 1453.6,910.3 1460.0,911.1 1466.4,912.7 1473.6,915.1 1480.8,920.7 1487.3,926.3 1493.7,927.9 1500.1,932.7 1506.5,937.5 1512.9,939.9 1519.3,943.9 1525.7,947.9 1532.1,952.0 1553.0,963.2 1559.4,976.0 1559.4,536.5" fill="#069058"/>
<polygon points="157.9,536.5 157.9,744.0 165.0,740.1 177.7,740.8 190.4,744.8 196.7,744.8 211.0,749.6 217.3,751.1 230.0,746.4 243.5,747.2 257.8,750.8 264.1,751.6 276.0,755.5 289.5,761.1 295.8,755.5 302.9,754.0 315.6,756.3 322.0,757.9 335.4,759.5 342.6,767.4 348.9,776.9 355.3,773.0 361.6,767.4 367.9,761.9 374.3,765.9 380.6,756.3 387.8,745.2 401.2,742.4 413.9,744.8 427.4,748.0 440.9,742.4 447.2,733.7 459.9,745.6 469.4,748.8 473.4,750.0 486.8,759.5 493.2,761.1 506.0,760.3 506.0,759.5 513.1,757.1 519.5,757.1 532.2,758.7 542.5,760.3 552.3,759.5 565.4,759.1 577.3,758.3 591.6,753.5 602.7,750.4 613.8,751.1 624.9,751.9 631.2,751.1 644.2,751.1 658.2,753.5 670.9,751.1 677.2,748.8 682.0,748.0 690.7,756.7 696.2,763.5 704.2,765.1 712.1,768.2 723.2,769.0 731.1,766.6 742.2,761.9 750.1,766.6 756.5,768.2 769.2,768.2 781.8,769.0 789.8,760.3 796.1,754.8 802.4,753.2 815.1,755.5 821.5,757.1 828.6,753.2 834.9,750.0 848.1,743.2 861.1,737.7 875.8,736.1 887.9,731.3 908.5,724.2 918.3,727.4 928.3,730.5 940.2,742.4 946.8,745.6 953.2,742.4 965.9,740.1 978.6,743.2 992.8,748.0 1005.5,751.9 1012.6,753.5 1024.5,753.5 1032.5,752.7 1045.1,754.3 1058.6,755.9 1072.1,755.1 1091.1,755.1 1099.0,751.9 1103.8,750.4 1111.7,755.1 1124.4,749.6 1135.5,746.4 1143.4,745.6 1149.8,748.8 1157.7,751.1 1170.4,756.3 1176.7,764.3 1183.1,772.2 1191.0,776.9 1197.3,776.9 1203.7,769.0 1209.2,757.9 1216.3,759.5 1226.0,756.3 1236.4,758.4 1242.8,764.0 1256.5,743.2 1268.5,749.6 1282.1,752.0 1294.9,754.4 1302.9,754.4 1315.0,749.6 1328.6,743.2 1336.6,736.8 1341.4,723.9 1347.8,724.7 1354.2,729.6 1361.4,732.0 1374.3,727.1 1380.7,724.7 1394.3,728.7 1407.1,738.4 1413.5,742.4 1419.9,740.0 1427.2,740.0 1434.4,743.2 1447.2,748.0 1453.6,748.0 1466.4,753.2 1474.4,756.4 1487.3,758.0 1500.1,758.8 1506.5,762.8 1519.3,767.6 1525.7,770.0 1538.6,773.2 1546.6,775.6 1559.4,776.4 1559.4,536.5" fill="#27A843"/>
<polygon points="157.9,536.5 157.9,672.7 165.0,674.3 177.7,674.3 184.0,673.5 196.7,677.4 211.0,683.8 223.7,686.2 236.4,686.2 243.5,686.9 257.8,689.3 269.7,690.1 282.3,691.7 296.6,690.1 309.3,693.3 322.0,696.5 334.6,700.4 348.1,705.2 355.3,703.6 361.6,696.5 374.3,693.3 380.6,687.7 387.8,680.6 401.2,664.7 413.9,662.4 427.4,664.7 434.5,661.6 440.9,660.8 453.5,655.2 466.2,666.3 474.2,669.5 480.5,673.5 485.3,671.9 493.2,671.9 506.0,671.9 506.0,671.9 519.5,671.9 532.2,676.6 539.3,678.2 552.3,679.0 565.4,679.0 577.3,677.4 585.3,675.1 591.6,671.9 604.3,666.3 617.0,666.3 631.2,667.9 644.2,668.7 658.2,669.5 664.5,671.1 670.9,669.5 677.2,668.7 683.6,668.7 690.7,676.6 704.2,683.0 712.1,685.4 723.2,686.9 737.5,686.9 750.1,688.5 762.8,689.3 775.5,690.9 783.4,686.9 789.8,680.6 796.1,676.6 808.8,675.8 815.1,675.8 821.5,674.3 828.6,667.9 834.9,665.5 848.1,662.4 861.1,656.8 875.8,655.2 887.9,652.1 908.5,645.7 918.3,648.9 928.3,650.5 940.2,653.7 953.2,654.4 965.9,656.0 978.6,659.2 992.8,662.4 1005.5,666.3 1012.6,668.7 1019.8,674.3 1032.5,677.4 1045.1,680.6 1058.6,679.8 1065.7,677.4 1072.1,674.3 1078.4,674.3 1091.1,675.1 1103.8,673.5 1111.7,665.5 1124.4,664.0 1135.5,665.5 1146.6,668.7 1157.7,676.6 1170.4,682.2 1176.7,686.2 1183.1,694.9 1189.4,698.8 1196.5,701.2 1203.7,694.9 1210.0,690.1 1219.5,690.9 1226.0,693.5 1236.4,696.7 1242.8,695.1 1256.5,678.3 1268.5,687.9 1282.1,689.5 1294.9,692.7 1302.9,690.3 1315.0,687.9 1328.6,679.1 1336.6,669.4 1341.4,659.0 1347.8,658.2 1354.2,662.2 1361.4,663.0 1374.3,659.8 1380.7,658.2 1394.3,659.0 1407.1,663.8 1419.9,667.8 1426.4,667.0 1434.4,662.2 1453.6,666.2 1466.4,668.6 1474.4,671.8 1487.3,674.3 1500.1,675.9 1506.5,683.1 1512.9,686.3 1525.7,687.9 1538.6,690.3 1553.0,691.1 1559.4,693.5 1559.4,536.5" fill="#55B935"/>
<polygon points="157.9,536.5 157.9,636.2 177.7,637.8 190.4,640.2 196.7,641.8 211.0,648.1 223.7,650.5 236.4,651.3 243.5,652.1 257.8,654.4 269.7,655.2 282.3,656.8 296.6,651.3 309.3,655.2 322.0,658.4 334.6,663.2 348.1,667.9 355.3,665.5 361.6,658.4 374.3,657.6 380.6,652.1 387.8,644.9 401.2,633.8 413.9,631.5 427.4,633.8 440.9,632.3 447.2,628.3 459.1,621.2 467.0,629.9 474.2,635.4 485.3,639.4 493.2,639.4 506.0,639.4 506.0,639.4 519.5,640.2 532.2,641.8 545.6,641.8 552.3,641.8 565.4,642.6 577.3,642.6 591.6,640.2 604.3,636.2 618.6,634.6 631.2,634.6 644.2,633.8 658.2,636.2 670.9,636.2 680.4,639.4 690.7,644.1 704.2,648.9 712.1,652.1 723.2,653.7 737.5,652.9 750.1,654.4 762.8,656.0 775.5,657.6 783.4,653.7 789.8,645.7 796.1,642.6 808.8,642.6 815.1,643.3 821.5,641.8 828.6,638.6 834.9,635.4 848.1,629.9 861.1,623.5 875.8,619.6 887.9,618.0 908.5,612.4 918.3,614.0 928.3,616.4 940.2,619.6 953.2,619.6 965.9,618.8 978.6,618.0 992.8,621.2 1005.5,625.9 1012.6,629.1 1024.5,633.8 1032.5,635.4 1045.1,637.0 1058.6,636.2 1065.7,635.4 1078.4,633.8 1091.1,633.8 1099.0,633.0 1111.7,631.5 1124.4,629.1 1130.7,629.1 1138.7,629.9 1146.6,633.0 1157.7,637.8 1170.4,641.0 1176.7,644.1 1183.1,655.2 1189.4,660.0 1197.3,663.2 1205.3,656.8 1211.6,652.1 1219.5,652.1 1226.0,653.4 1236.4,659.8 1242.8,657.4 1256.5,647.0 1268.5,654.2 1282.1,656.6 1294.9,659.8 1302.9,656.6 1315.0,655.0 1328.6,643.8 1336.6,635.8 1341.4,628.6 1347.8,626.2 1354.2,630.2 1361.4,634.2 1374.3,632.6 1380.7,627.8 1394.3,627.8 1407.1,634.2 1419.9,635.8 1434.4,633.4 1453.6,635.8 1466.4,638.2 1476.0,639.0 1500.1,640.6 1512.9,644.6 1525.7,646.2 1538.6,648.6 1553.0,649.4 1559.4,652.6 1559.4,536.5" fill="#80CE25"/>
<polygon points="157.9,536.5 157.9,619.6 177.7,621.2 190.4,622.7 196.7,624.3 211.0,631.5 223.7,633.8 236.4,634.6 243.5,635.4 257.8,637.8 269.7,639.4 282.3,641.0 297.4,634.6 309.3,637.8 322.0,641.0 334.6,644.9 348.1,652.1 355.3,650.5 361.6,641.0 374.3,641.0 380.6,636.2 387.8,631.5 401.2,616.4 413.9,614.0 427.4,616.4 440.9,614.0 447.2,612.4 459.9,607.7 466.2,612.4 474.2,616.4 485.3,620.4 493.2,620.4 506.0,620.4 506.0,620.4 519.5,620.0 532.2,621.2 545.6,621.2 552.3,621.2 565.4,621.9 577.3,621.9 591.6,620.4 604.3,618.0 618.6,615.6 631.2,614.8 644.2,615.6 658.2,616.4 670.9,619.6 680.4,622.7 690.7,626.7 704.2,631.5 712.1,634.6 723.2,637.0 737.5,636.2 750.1,637.8 762.8,639.4 775.5,641.0 783.4,637.0 789.8,628.3 796.1,624.3 802.4,624.3 808.8,625.9 815.1,626.7 821.5,625.9 828.6,621.2 834.9,618.8 848.1,615.6 861.1,610.1 875.8,606.9 887.9,604.5 908.5,596.6 918.3,595.8 928.3,598.2 940.2,599.8 953.2,599.0 965.9,598.2 978.6,599.8 992.8,605.3 1005.5,610.1 1012.6,611.6 1024.5,613.2 1032.5,614.0 1045.1,616.4 1058.6,615.6 1065.7,615.6 1078.4,615.6 1091.1,616.4 1099.0,616.4 1111.7,614.8 1124.4,612.4 1130.7,612.4 1138.7,614.0 1146.6,616.4 1157.7,621.2 1164.0,623.5 1175.1,625.1 1183.1,636.2 1189.4,641.0 1197.3,643.3 1205.3,639.4 1211.6,634.6 1219.5,633.8 1226.0,635.8 1236.4,643.0 1242.8,636.6 1256.5,629.4 1268.5,634.2 1282.1,637.4 1294.9,641.4 1302.9,639.0 1315.0,639.0 1328.6,629.4 1336.6,619.8 1341.4,611.7 1347.8,608.5 1354.2,611.7 1361.4,615.8 1374.3,614.9 1380.7,610.9 1394.3,610.1 1407.1,614.9 1419.9,617.4 1434.4,618.2 1453.6,619.8 1466.4,620.6 1476.0,622.2 1500.1,624.6 1512.9,627.0 1525.7,629.4 1538.6,630.2 1559.4,631.8 1559.4,536.5" fill="#B7E31B"/>
<polygon points="157.9,536.5 157.9,605.3 177.7,609.3 190.4,610.8 196.7,612.4 211.0,618.0 223.7,620.4 236.4,621.2 243.5,622.7 257.8,625.1 269.7,626.7 282.3,629.1 289.5,625.1 297.4,621.9 309.3,623.5 322.0,625.1 334.6,631.5 348.1,638.6 355.3,636.2 361.6,627.5 374.3,629.1 380.6,623.5 387.8,617.2 401.2,602.9 413.9,600.5 427.4,603.7 440.9,600.5 447.2,598.2 459.9,595.8 466.2,601.3 474.2,605.3 485.3,610.8 493.2,610.1 506.0,608.5 506.0,607.7 519.5,606.9 532.2,608.5 545.6,609.3 552.3,610.8 565.4,611.6 577.3,610.8 591.6,609.3 604.3,605.3 618.6,600.5 631.2,599.8 644.2,599.8 658.2,602.1 670.9,605.3 680.4,609.3 690.7,613.2 704.2,618.0 712.1,621.2 723.2,622.7 737.5,621.9 750.1,623.5 762.8,625.9 775.5,629.1 783.4,622.7 789.8,614.0 796.1,612.4 802.4,614.0 808.8,616.4 815.1,618.0 821.5,617.2 828.6,610.8 834.9,608.5 848.1,602.9 861.1,598.2 875.8,595.8 887.9,594.2 908.5,586.3 918.3,586.3 928.3,587.1 940.2,589.4 953.2,588.7 965.9,586.3 978.6,588.7 992.8,591.8 1005.5,595.8 1012.6,597.4 1024.5,596.6 1032.5,597.4 1045.1,598.2 1058.6,599.0 1065.7,599.8 1078.4,600.5 1091.1,601.3 1099.0,602.1 1111.7,601.3 1124.4,600.5 1130.7,600.5 1138.7,601.3 1146.6,604.5 1157.7,609.3 1164.0,607.7 1176.7,606.1 1183.1,618.8 1189.4,625.1 1197.3,627.5 1205.3,623.5 1211.6,620.4 1219.5,619.6 1226.0,623.8 1236.4,632.6 1242.8,619.8 1256.5,614.9 1268.5,619.8 1282.1,624.6 1294.9,631.0 1302.9,626.2 1315.0,625.4 1328.6,616.6 1336.6,608.5 1341.4,598.9 1347.8,595.7 1354.2,598.9 1361.4,602.1 1374.3,601.3 1380.7,597.3 1394.3,596.5 1407.1,601.3 1419.9,604.5 1434.4,605.3 1453.6,606.9 1466.4,607.7 1476.0,609.3 1500.1,611.7 1512.9,614.1 1525.7,615.8 1538.6,615.8 1559.4,616.6 1559.4,536.5" fill="#E3F50A"/>
<polygon points="157.9,536.5 157.9,592.6 177.7,596.6 190.4,598.2 196.7,600.5 211.0,604.5 223.7,605.3 236.4,609.3 243.5,610.8 257.8,614.0 269.7,614.0 282.3,617.2 289.5,614.0 302.9,612.4 315.6,612.4 328.3,616.4 334.6,620.4 347.3,625.1 355.3,625.9 361.6,616.4 367.9,615.6 374.3,615.6 380.6,609.3 387.8,605.3 401.2,591.0 413.9,590.2 427.4,591.8 440.9,590.2 447.2,589.4 459.9,587.1 466.2,591.0 474.2,595.0 485.3,599.0 493.2,598.2 506.0,596.6 506.0,596.6 519.5,595.8 532.2,597.4 545.6,597.4 552.3,598.2 565.4,599.8 577.3,599.0 591.6,596.6 604.3,593.4 618.6,590.2 631.2,590.2 644.2,590.2 658.2,591.8 670.9,594.2 680.4,596.6 690.7,602.1 704.2,606.9 712.1,609.3 723.2,613.2 737.5,612.4 750.1,614.0 762.8,615.6 775.5,617.2 783.4,612.4 789.8,604.5 796.1,602.1 802.4,602.9 808.8,604.5 815.1,607.7 821.5,607.7 828.6,601.3 834.9,599.0 848.1,591.0 861.1,590.2 875.8,587.1 887.9,585.5 908.5,578.4 918.3,577.6 928.3,578.4 940.2,578.4 953.2,577.6 965.9,576.8 978.6,578.4 992.8,581.5 1005.5,584.7 1012.6,584.7 1024.5,584.7 1032.5,585.5 1045.1,584.7 1058.6,585.5 1065.7,586.3 1078.4,587.9 1091.1,590.2 1099.0,591.8 1111.7,590.2 1124.4,591.0 1130.7,591.0 1138.7,592.6 1146.6,594.2 1157.7,599.0 1164.0,595.0 1176.7,591.8 1183.1,603.7 1189.4,610.8 1197.3,614.0 1205.3,610.1 1211.6,608.5 1219.5,606.1 1226.0,610.1 1230.8,618.2 1236.4,623.0 1242.8,603.7 1250.0,602.1 1256.5,600.5 1268.5,610.1 1274.1,611.7 1282.1,614.9 1294.9,619.0 1302.9,616.6 1315.0,616.6 1322.2,613.3 1328.6,606.9 1336.6,598.9 1341.4,591.7 1347.8,585.3 1354.2,589.3 1361.4,592.5 1368.7,591.7 1374.3,590.9 1380.7,586.9 1394.3,586.1 1400.7,588.5 1407.1,592.5 1419.9,593.3 1434.4,594.9 1453.6,595.7 1466.4,596.5 1476.0,598.1 1500.1,600.5 1512.9,602.1 1525.7,603.7 1538.6,602.9 1559.4,602.9 1559.4,536.5" fill="#FFE000"/>
<polygon points="157.9,536.5 157.9,580.7 165.0,582.3 177.7,587.1 190.4,588.7 196.7,590.2 211.0,595.8 223.7,595.8 236.4,598.2 243.5,599.8 257.8,603.7 269.7,602.9 282.3,603.7 289.5,601.3 302.9,601.3 309.3,597.4 315.6,595.0 328.3,596.6 334.6,602.9 347.3,606.1 355.3,607.7 361.6,596.6 367.9,599.8 374.3,601.3 380.6,593.4 387.8,583.9 401.2,572.0 413.9,569.6 421.8,572.0 427.4,575.2 440.9,576.8 447.2,579.1 459.9,577.6 466.2,581.5 474.2,585.5 485.3,589.4 493.2,588.7 506.0,585.5 506.0,585.5 519.5,584.7 532.2,585.8 545.6,585.5 552.3,584.7 565.4,586.3 577.3,585.5 591.6,583.9 604.3,581.5 618.6,577.6 631.2,578.4 644.2,577.6 658.2,580.7 670.9,583.9 680.4,587.1 690.7,594.2 704.2,599.0 712.1,602.1 723.2,604.5 737.5,602.9 743.8,602.9 750.1,604.5 762.8,606.1 775.5,606.9 783.4,603.7 788.2,596.6 796.1,593.4 802.4,595.0 808.8,596.6 815.1,599.8 821.5,598.2 828.6,592.6 834.9,590.2 848.1,586.3 861.1,580.7 875.8,578.4 887.9,576.8 908.5,570.4 918.3,568.8 928.3,569.6 940.2,570.4 953.2,570.4 965.9,568.8 978.6,570.4 992.8,573.6 1005.5,576.0 1012.6,576.8 1024.5,575.2 1032.5,576.0 1045.1,576.0 1058.6,576.8 1065.7,576.8 1078.4,577.6 1091.1,579.9 1099.0,581.5 1111.7,579.1 1124.4,579.9 1130.7,579.1 1138.7,581.5 1146.6,584.7 1157.7,590.2 1164.0,585.5 1170.4,569.6 1176.7,574.4 1183.1,593.4 1189.4,600.5 1197.3,603.7 1205.3,599.8 1209.2,590.2 1214.8,594.2 1222.7,589.4 1226.0,600.5 1230.8,602.1 1236.4,601.3 1242.8,586.1 1250.0,582.9 1256.5,587.7 1268.5,600.5 1274.1,599.7 1282.1,602.9 1294.9,607.7 1302.9,605.3 1315.0,606.1 1322.2,602.9 1328.6,597.3 1336.6,587.7 1341.4,578.1 1347.8,572.5 1354.2,576.5 1361.4,580.5 1368.7,580.5 1374.3,579.7 1380.7,574.9 1394.3,573.3 1400.7,575.7 1407.1,579.7 1413.5,582.1 1419.9,581.3 1434.4,582.9 1453.6,583.7 1466.4,583.7 1476.0,584.5 1500.1,586.1 1512.9,587.7 1525.7,590.1 1538.6,588.5 1553.0,587.7 1559.4,586.9 1559.4,536.5" fill="#FFA000"/>
<polygon points="157.9,536.5 157.9,561.7 165.0,567.3 177.7,572.8 190.4,573.6 203.1,575.2 217.3,575.2 228.4,572.8 235.6,565.7 236.4,536.5 317.2,536.5 325.1,544.3 334.6,545.9 344.2,549.0 348.9,548.2 355.3,564.9 361.6,549.0 367.9,550.6 374.3,548.2 380.6,546.6 387.8,545.1 401.2,545.9 413.9,545.9 421.8,547.4 427.4,552.2 434.5,549.8 440.9,553.0 447.2,559.3 459.9,557.7 466.2,561.7 472.6,565.7 485.3,567.3 493.2,564.1 499.5,558.5 506.0,556.9 506.0,556.9 519.5,552.2 525.8,554.6 535.3,545.9 536.4,536.5 565.4,536.5 565.4,552.2 577.3,553.8 591.6,556.9 604.3,556.2 617.0,554.6 631.2,554.6 644.2,555.4 658.2,556.9 670.9,560.9 677.2,563.3 682.0,568.0 689.9,576.0 696.2,577.6 704.2,576.0 712.1,576.8 718.4,576.8 723.2,577.6 726.4,561.7 727.9,536.5 785.8,536.5 786.6,553.8 788.2,568.8 796.1,570.4 802.4,576.0 808.8,580.7 815.1,579.1 821.5,576.0 828.6,575.2 834.9,575.2 848.1,571.2 854.8,568.8 861.1,565.7 875.8,564.9 887.9,565.7 908.5,554.6 928.3,554.6 940.2,557.7 953.2,556.9 965.9,556.9 978.6,556.9 992.8,559.3 1005.5,560.9 1012.6,561.7 1024.5,561.7 1032.5,560.9 1045.1,561.7 1051.5,559.3 1058.6,556.2 1065.7,553.0 1078.4,553.8 1091.1,555.4 1099.0,559.3 1103.8,557.7 1111.7,555.4 1118.1,559.3 1124.4,563.3 1130.7,562.5 1138.7,565.7 1146.6,568.8 1157.7,576.8 1164.0,572.8 1166.4,556.9 1167.2,536.5 1180.7,536.5 1183.1,566.5 1189.4,571.2 1197.3,569.6 1200.5,553.8 1201.3,536.5 1214.0,536.5 1216.3,566.5 1218.7,536.5 1226.0,536.5 1226.0,536.5 1259.7,536.5 1260.5,566.9 1268.5,583.7 1282.1,578.9 1294.9,588.5 1302.9,585.3 1315.0,588.5 1328.6,578.9 1336.6,571.7 1342.2,554.8 1347.8,553.2 1354.2,557.2 1361.4,562.1 1368.7,561.3 1374.3,559.7 1380.7,554.8 1394.3,555.6 1400.7,558.9 1407.1,562.9 1413.5,565.3 1419.9,563.7 1426.4,566.1 1434.4,566.9 1440.8,567.7 1453.6,566.1 1466.4,561.3 1476.0,562.1 1487.3,563.7 1493.7,564.5 1500.1,563.7 1506.5,561.3 1512.9,560.5 1525.7,556.4 1530.5,556.4 1538.6,558.0 1546.6,559.7 1553.0,558.9 1559.4,559.7 1559.4,536.5" fill="#FF5F00"/>
<polygon points="157.9,536.5 157.9,547.4 165.0,549.0 173.7,545.9 175.3,536.5 506.0,536.5 506.0,536.5 609.0,536.5 617.0,539.5 624.9,541.1 631.2,539.5 644.2,543.5 658.2,545.1 666.1,548.2 672.5,550.6 677.2,549.8 680.4,545.1 681.2,536.5 866.0,536.5 866.0,536.5 1091.1,536.5 1097.5,539.5 1107.0,540.3 1119.6,542.7 1129.2,544.3 1138.7,541.9 1143.4,536.5 1226.0,536.5 1226.0,536.5 1318.2,536.5 1325.4,540.4 1335.0,536.5 1352.6,536.5 1356.6,539.6 1360.6,536.5 1559.4,536.5 1559.4,536.5" fill="#FF1A00"/>
<path d="M157.7,566.3 H1559.6 M157.7,589.0 H1559.6 M157.7,623.0 H1559.6 M157.7,668.3 H1559.6 M157.7,713.7 H1559.6 M157.7,759.0 H1559.6 M157.7,804.4 H1559.6 M157.7,849.8 H1559.6 M157.7,895.1 H1559.6 M157.7,940.4 H1559.6" stroke="#fff" stroke-opacity="0.16" stroke-width="1.2" fill="none"/>
</g>
<rect x="243.5" y="535.5" width="14.300000000000011" height="449.29999999999995" fill="#fff"/>
<rect x="387.8" y="535.5" width="13.399999999999977" height="449.29999999999995" fill="#fff"/>
<rect x="257.8" y="939.8" width="18.19999999999999" height="45.0" fill="#fff"/>
<rect x="289.5" y="939.8" width="19.5" height="45.0" fill="#fff"/>
<rect x="447.2" y="939.8" width="26.19999999999999" height="45.0" fill="#fff"/>
<rect x="525.8" y="939.8" width="19.5" height="45.0" fill="#fff"/>
<rect x="552.3" y="535.5" width="13.100000000000023" height="449.29999999999995" fill="#fff"/>
<rect x="565.4" y="939.8" width="6.899999999999977" height="45.0" fill="#fff"/>
<rect x="578.6" y="939.8" width="39.60000000000002" height="45.0" fill="#fff"/>
<rect x="624.6" y="939.8" width="6.600000000000023" height="45.0" fill="#fff"/>
<rect x="631.2" y="535.5" width="13.0" height="449.29999999999995" fill="#fff"/>
<rect x="716.8" y="939.8" width="19.40000000000009" height="45.0" fill="#fff"/>
<rect x="749.8" y="939.8" width="26.0" height="45.0" fill="#fff"/>
<rect x="835" y="535.5" width="13.100000000000023" height="449.29999999999995" fill="#fff"/>
<rect x="861.1" y="535.5" width="14.699999999999932" height="449.29999999999995" fill="#fff"/>
<rect x="887.9" y="535.5" width="20.5" height="449.29999999999995" fill="#fff"/>
<rect x="928.3" y="535.5" width="11.900000000000091" height="449.29999999999995" fill="#fff"/>
<rect x="953.8" y="535.5" width="19.40000000000009" height="5.599999999999909" fill="#fff"/>
<rect x="1361.1" y="535.5" width="19.800000000000182" height="5.5" fill="#fff"/>
<rect x="940.2" y="849.5999999999999" width="19.59999999999991" height="135.20000000000005" fill="#fff"/>
<rect x="959.8" y="940.0" width="6.900000000000091" height="44.799999999999955" fill="#fff"/>
<rect x="986.5" y="940.0" width="38.799999999999955" height="44.799999999999955" fill="#fff"/>
<rect x="1052.3" y="940.0" width="19.799999999999955" height="44.799999999999955" fill="#fff"/>
<rect x="1111" y="940.0" width="33.200000000000045" height="44.799999999999955" fill="#fff"/>
<rect x="1156.9" y="940.0" width="26.899999999999864" height="44.799999999999955" fill="#fff"/>
<rect x="1183.8" y="849.5999999999999" width="18.799999999999955" height="135.20000000000005" fill="#fff"/>
<rect x="1202.6" y="940.0" width="26.90000000000009" height="44.799999999999955" fill="#fff"/>
<rect x="1235.9" y="940.0999999999999" width="85.89999999999986" height="44.700000000000045" fill="#fff"/>
<rect x="1413.5" y="940.0999999999999" width="20.09999999999991" height="44.700000000000045" fill="#fff"/>
<rect x="1452.8" y="940.0999999999999" width="40.90000000000009" height="44.700000000000045" fill="#fff"/>
<rect x="1532.1" y="940.0999999999999" width="20.90000000000009" height="44.700000000000045" fill="#fff"/>
<clipPath id="clipc"><rect x="157.7" y="1058.2" width="1401.8999999999999" height="447.0999999999999"/></clipPath><g clip-path="url(#clipc)">
<rect x="157.7" y="1058.2" width="1401.8999999999999" height="447.0999999999999" fill="#DCF011"/>
<polygon points="157.9,1260.8 165.0,1252.9 171.4,1251.3 177.7,1256.0 184.0,1254.5 190.4,1256.0 196.7,1233.9 200.7,1247.8 203.1,1270.0 210.2,1298.5 217.3,1287.4 225.3,1273.2 230.0,1258.9 234.8,1262.4 243.5,1268.4 243.5,1350.8 236.4,1358.8 230.0,1366.7 223.7,1379.4 217.3,1363.5 214.2,1381.0 210.2,1417.4 204.7,1419.0 198.3,1426.9 192.0,1417.4 188.0,1387.3 184.0,1365.1 177.7,1350.8 174.5,1371.5 171.4,1436.5 165.0,1431.7 157.9,1439.6" fill="#A4D822"/>
<polygon points="257.8,1264.0 269.7,1256.0 280.7,1264.0 288.7,1278.2 295.0,1246.5 302.9,1245.0 312.5,1254.5 320.4,1260.8 328.3,1270.3 336.2,1276.7 344.2,1279.8 350.5,1275.1 356.8,1283.0 361.6,1264.0 367.9,1224.3 374.3,1200.6 380.6,1208.5 387.8,1224.3 387.8,1404.7 385.4,1381.0 383.8,1325.5 381.4,1317.6 379.0,1325.5 377.5,1384.1 374.3,1433.3 367.9,1415.8 361.6,1417.4 355.3,1415.8 348.9,1387.3 342.6,1400.0 334.6,1412.7 328.3,1419.0 322.0,1390.5 317.2,1396.8 312.5,1409.5 307.7,1431.7 302.9,1441.2 298.2,1422.2 294.2,1396.8 291.8,1333.4 289.5,1285.9 288.7,1279.5 282.3,1287.4 279.2,1368.3 276.0,1381.0 269.7,1381.8 263.3,1385.7 257.8,1369.9" fill="#A4D822"/>
<polygon points="401.2,1174.9 407.6,1190.7 415.5,1159.0 425.0,1127.3 431.4,1119.4 437.7,1127.3 444.0,1159.0 447.2,1174.9 456.7,1222.4 463.1,1238.3 471.0,1254.1 478.9,1238.3 486.8,1222.4 494.8,1246.2 506.0,1238.3 506.0,1381.0 497.9,1368.3 491.6,1349.3 486.8,1333.4 480.5,1349.3 474.2,1388.9 467.8,1387.3 461.5,1412.7 453.5,1420.6 447.2,1452.3 440.9,1412.7 434.5,1428.5 429.8,1430.1 423.4,1444.4 415.5,1476.1 407.6,1474.5 401.2,1476.1" fill="#A4D822"/>
<polygon points="506.0,1275.1 515.5,1265.6 526.6,1233.9 532.9,1260.8 537.7,1264.0 545.6,1276.7 552.3,1275.1 552.3,1385.7 545.6,1379.4 539.3,1400.0 525.8,1412.7 523.4,1371.5 525.0,1336.6 518.7,1354.0 512.3,1355.6 512.3,1371.5 506.0,1384.1" fill="#A4D822"/>
<polygon points="583.7,1265.2 591.6,1262.1 601.1,1270.0 605.1,1287.4 612.2,1279.5 618.6,1270.0 623.3,1309.6 631.2,1341.3 631.2,1452.3 628.9,1412.7 624.9,1395.2 615.4,1412.7 611.4,1436.5 605.9,1428.5 599.5,1426.9 591.6,1415.8 585.3,1396.8 583.7,1371.5" fill="#A4D822"/>
<polygon points="648.7,1371.5 658.2,1322.3 670.9,1341.3 677.2,1338.2 680.4,1317.6 683.6,1285.9 689.9,1277.9 689.9,1222.4 696.2,1193.9 705.7,1190.7 712.1,1193.9 716.8,1209.8 720.0,1238.3 727.9,1246.2 735.9,1254.1 743.8,1262.1 747.0,1277.9 753.3,1309.6 758.1,1322.3 756.5,1396.8 748.5,1400.0 739.0,1436.5 734.3,1460.2 727.9,1436.5 721.6,1420.6 716.8,1460.2 710.5,1420.6 703.4,1398.4 696.2,1400.0 689.9,1419.0 683.6,1436.5 677.2,1428.5 670.9,1406.3 664.5,1436.5 653.4,1415.8" fill="#A4D822"/>
<polygon points="785.0,1369.9 788.2,1314.4 796.1,1301.7 802.4,1306.5 815.1,1304.1 821.5,1333.4 829.4,1368.3 826.2,1396.8 821.5,1433.3 815.1,1444.4 808.8,1417.4 802.4,1461.8 794.5,1441.2 788.2,1428.5" fill="#A4D822"/>
<polygon points="988.1,1369.9 992.8,1331.8 997.6,1361.9 1005.5,1369.9 999.2,1377.8 992.8,1396.8" fill="#A4D822"/>
<polygon points="1019.8,1369.9 1024.5,1323.9 1027.7,1322.3 1034.0,1369.9 1026.1,1384.1" fill="#A4D822"/>
<polygon points="1048.3,1369.9 1052.3,1361.9 1055.4,1371.5 1052.3,1392.1" fill="#A4D822"/>
<polygon points="1102.2,1325.5 1107.0,1320.7 1111.7,1325.5 1103.8,1339.8" fill="#A4D822"/>
<polygon points="1183.1,1369.9 1191.0,1350.8 1197.3,1349.3 1202.1,1369.9" fill="#A4D822"/>
<polygon points="1219.5,1369.9 1226.0,1346.1 1226.0,1412.7" fill="#A4D822"/>
<polygon points="1254.9,1369.4 1266.1,1363.0 1277.3,1345.3 1286.9,1318.1 1293.3,1278.0 1301.3,1334.1 1309.3,1294.0 1315.8,1274.3 1322.2,1263.1 1328.6,1266.3 1338.2,1282.3 1347.8,1274.3 1357.4,1275.9 1367.0,1247.1 1373.5,1274.3 1379.9,1327.7 1386.3,1366.2 1386.3,1430.3 1379.9,1467.1 1370.3,1414.3 1360.6,1411.0 1354.2,1390.2 1338.2,1391.8 1331.8,1404.6 1328.6,1451.1 1322.2,1470.4 1322.2,1462.3 1286.9,1462.3 1280.5,1439.9 1274.1,1460.7 1264.5,1438.3 1258.1,1398.2" fill="#A4D822"/>
<polygon points="1402.3,1254.0 1407.1,1234.3 1415.1,1242.3 1424.7,1255.1 1434.4,1261.5 1440.8,1266.3 1447.2,1258.3 1453.6,1248.7 1460.0,1231.1 1466.4,1234.3 1476.0,1251.9 1482.5,1263.1 1492.1,1256.7 1498.5,1258.3 1504.9,1250.3 1512.9,1271.1 1520.9,1269.5 1527.3,1263.1 1533.7,1250.3 1540.2,1218.2 1546.6,1224.6 1553.0,1215.0 1559.4,1226.2 1559.4,1430.3 1553.0,1395.0 1546.6,1396.6 1540.2,1369.4 1532.1,1361.4 1532.1,1420.7 1524.1,1419.1 1519.3,1407.8 1512.9,1427.1 1501.7,1404.6 1493.7,1388.6 1482.5,1406.2 1474.4,1423.9 1466.4,1459.1 1460.0,1462.3 1447.2,1470.4 1440.8,1462.3 1434.4,1430.3 1426.4,1385.4 1419.9,1379.0 1411.9,1350.1 1405.5,1326.1" fill="#A4D822"/>
<polygon points="1229.2,1221.9 1235.6,1221.9 1242.0,1366.2 1246.8,1414.3 1240.4,1460.7 1235.6,1504.0 1232.4,1460.7 1229.2,1414.3" fill="#A4D822"/>
<polygon points="1383.1,1326.1 1392.7,1298.9 1399.1,1369.4 1394.3,1396.6 1386.3,1374.2" fill="#A4D822"/>
<polygon points="401.2,1285.9 407.6,1325.5 415.5,1290.6 421.8,1282.7 428.2,1293.8 431.4,1325.5 425.0,1373.0 418.7,1396.8 413.9,1417.4 407.6,1381.0 402.8,1349.3" fill="#6BC132"/>
<polygon points="431.4,1270.0 437.7,1254.1 447.2,1270.0 448.8,1333.4 448.8,1381.0 445.6,1382.6 440.9,1373.0 434.5,1377.8 431.4,1357.2 432.9,1325.5 429.8,1277.9" fill="#6BC132"/>
<polygon points="299.8,1270.0 304.5,1274.8 309.3,1281.1 309.3,1325.5 304.5,1361.9 301.4,1333.4 299.8,1285.9" fill="#6BC132"/>
<polygon points="367.9,1366.7 374.3,1365.1 374.3,1376.2 366.4,1369.9" fill="#6BC132"/>
<polygon points="683.6,1317.6 689.9,1319.1 693.1,1369.9 690.7,1382.6 685.1,1349.3" fill="#6BC132"/>
<polygon points="609.0,1325.5 613.8,1317.6 617.8,1323.9 617.8,1333.4 611.4,1337.4" fill="#6BC132"/>
<polygon points="1280.5,1366.2 1288.5,1351.7 1294.9,1369.4 1294.9,1417.5 1304.5,1415.9 1301.3,1447.9 1293.3,1420.7 1288.5,1435.1 1282.1,1422.3 1280.5,1398.2" fill="#6BC132"/>
<polygon points="1310.9,1366.2 1315.8,1330.9 1322.2,1313.3 1327.0,1311.7 1331.8,1324.5 1325.4,1374.2 1322.2,1414.3 1320.6,1438.3 1315.8,1438.3 1309.3,1414.3" fill="#6BC132"/>
<polygon points="1363.8,1326.1 1367.0,1290.8 1371.9,1314.9 1376.7,1369.4 1373.5,1388.6 1367.0,1374.2" fill="#6BC132"/>
<polygon points="1410.3,1322.9 1419.9,1287.6 1426.4,1298.9 1431.2,1324.5 1426.4,1356.6 1413.5,1340.5" fill="#6BC132"/>
<polygon points="1440.8,1324.5 1447.2,1308.5 1452.0,1326.1 1453.6,1342.1 1460.0,1276.4 1466.4,1322.9 1466.4,1385.4 1458.4,1395.0 1453.6,1419.1 1447.2,1439.9 1442.4,1420.7 1440.8,1372.6" fill="#6BC132"/>
<polygon points="1543.4,1237.9 1559.4,1229.9 1559.4,1363.0 1551.4,1326.1 1545.0,1294.0" fill="#6BC132"/>
<polygon points="1551.4,1273.2 1559.4,1278.0 1559.4,1334.1 1554.6,1302.1" fill="#2FA944"/>
<polygon points="157.9,1491.9 163.4,1506.2 157.9,1506.2" fill="#FFD800"/>
<polygon points="172.9,1506.2 173.7,1409.5 184.0,1396.8 188.8,1428.5 192.0,1460.2 199.9,1480.8 210.2,1488.8 214.2,1460.2 217.3,1450.7 223.7,1461.8 231.6,1444.4 237.2,1433.3 243.5,1438.0 243.5,1506.2" fill="#FFD800"/>
<polygon points="257.8,1461.8 263.3,1449.1 266.5,1460.2 274.4,1450.7 282.3,1439.6 285.5,1450.7 288.7,1461.8 309.3,1461.8 315.6,1452.3 322.0,1447.6 328.3,1472.9 334.6,1457.1 342.6,1449.1 348.9,1453.9 355.3,1457.1 361.6,1469.7 367.9,1474.5 374.3,1490.4 382.2,1455.5 387.8,1461.8 387.8,1506.2 257.8,1506.2" fill="#FFD800"/>
<polygon points="420.3,1506.2 428.2,1463.4 434.5,1472.9 440.9,1441.2 445.6,1460.2 447.2,1506.2" fill="#FFD800"/>
<polygon points="478.9,1506.2 483.7,1444.4 486.8,1398.4 493.2,1406.3 499.5,1401.6 506.0,1409.5 506.0,1506.2" fill="#FFD800"/>
<polygon points="506.0,1409.5 515.5,1452.3 526.6,1461.8 545.6,1446.0 552.3,1452.3 552.3,1506.2 506.0,1506.2" fill="#FFD800"/>
<polygon points="565.4,1431.7 578.9,1422.2 588.4,1461.8 565.4,1461.8" fill="#FFD800"/>
<polygon points="758.1,1270.0 785.0,1270.0 775.5,1301.7 766.0,1330.2 759.6,1325.5" fill="#FFD800"/>
<polygon points="758.1,1461.8 762.8,1390.5 769.2,1388.9 778.7,1428.5 785.0,1476.1 791.4,1506.2 758.1,1506.2" fill="#FFD800"/>
<polygon points="693.1,1506.2 697.8,1460.2 704.2,1506.2" fill="#FFD800"/>
<polygon points="804.0,1506.2 808.8,1471.3 815.1,1484.0 823.1,1484.0 829.4,1468.2 834.9,1449.1 834.9,1506.2" fill="#FFD800"/>
<polygon points="848.1,1270.0 861.1,1270.0 861.1,1274.8 851.6,1279.5 848.1,1279.5" fill="#FFD800"/>
<polygon points="848.1,1469.7 857.9,1460.2 861.1,1396.8 861.1,1506.2 848.1,1506.2" fill="#FFD800"/>
<polygon points="875.8,1393.7 880.3,1466.6 887.9,1407.9 887.9,1506.2 875.8,1506.2" fill="#FFD800"/>
<polygon points="908.5,1355.6 915.1,1365.1 921.5,1404.7 928.3,1401.6 928.3,1506.2 908.5,1506.2" fill="#FFD800"/>
<polygon points="1016.6,1270.0 1030.9,1312.8 1045.1,1330.2 1059.4,1325.5 1065.7,1328.7 1072.1,1301.7 1078.4,1282.7 1084.8,1296.9 1091.1,1270.0" fill="#FFD800"/>
<polygon points="959.5,1381.0 965.9,1390.5 970.6,1428.5 973.8,1452.3 980.1,1460.2 986.5,1455.5 988.1,1506.2 959.5,1506.2" fill="#FFD800"/>
<polygon points="1024.5,1461.8 1032.5,1491.9 1045.1,1447.6 1053.1,1461.8 1053.1,1506.2 1024.5,1506.2" fill="#FFD800"/>
<polygon points="1076.8,1506.2 1084.8,1444.4 1091.1,1442.8 1097.5,1472.9 1103.8,1423.8 1111.7,1434.9 1116.5,1404.7 1124.4,1346.1 1143.4,1357.2 1157.7,1333.4 1164.0,1344.5 1170.4,1401.6 1176.7,1400.0 1183.9,1406.3 1183.9,1461.8 1157.7,1461.8 1157.7,1506.2" fill="#FFD800"/>
<polygon points="1176.7,1270.0 1226.0,1270.0 1221.1,1285.9 1214.8,1290.6 1198.9,1306.5 1189.4,1317.6 1183.1,1298.5 1176.7,1333.4" fill="#FFD800"/>
<polygon points="1335.0,1454.3 1344.6,1446.3 1354.2,1446.3 1367.0,1452.7 1373.5,1483.2 1379.9,1505.6 1330.2,1505.6" fill="#FFD800"/>
<polygon points="1386.3,1459.1 1395.9,1447.9 1402.3,1446.3 1407.1,1391.8 1411.9,1411.0 1421.5,1411.0 1428.0,1417.5 1434.4,1454.3 1434.4,1505.6 1386.3,1505.6" fill="#FFD800"/>
<polygon points="1434.4,1486.4 1442.4,1491.2 1453.6,1486.4 1453.6,1505.6 1434.4,1505.6" fill="#FFD800"/>
<polygon points="1493.7,1462.3 1501.7,1491.2 1511.3,1481.6 1520.9,1476.8 1530.5,1486.4 1532.1,1505.6 1493.7,1505.6" fill="#FFD800"/>
<polygon points="1553.0,1462.3 1559.4,1470.4 1559.4,1505.6 1553.0,1505.6" fill="#FFD800"/>
<polygon points="1251.6,1262.0 1278.9,1262.0 1274.1,1290.8 1266.1,1305.3 1256.5,1316.5 1251.6,1302.1" fill="#FFD800"/>
<polygon points="182.5,1506.2 184.0,1447.6 185.6,1506.2" fill="#FF8C00"/>
<polygon points="234.8,1506.2 236.4,1498.3 237.9,1506.2" fill="#FF8C00"/>
<polygon points="437.7,1506.2 440.9,1479.3 445.6,1506.2" fill="#FF8C00"/>
<polygon points="497.9,1506.2 502.7,1463.4 506.0,1450.7 506.0,1506.2" fill="#FF8C00"/>
<polygon points="506.0,1449.1 512.3,1485.6 520.3,1506.2 506.0,1506.2" fill="#FF8C00"/>
<polygon points="762.8,1461.8 769.2,1446.0 773.9,1461.8" fill="#FF8C00"/>
<polygon points="908.5,1453.9 915.1,1506.2 908.5,1506.2" fill="#FF8C00"/>
<polygon points="1187.8,1270.0 1198.9,1270.0 1197.3,1282.7 1189.4,1290.6" fill="#FF8C00"/>
<polygon points="1127.6,1461.8 1143.4,1415.8 1151.4,1444.4 1157.7,1398.4 1164.0,1461.8 1157.7,1461.8 1157.7,1506.2 1144.2,1506.2 1144.2,1461.8" fill="#FF8C00"/>
<polygon points="1402.3,1505.6 1413.5,1476.8 1413.5,1505.6" fill="#FF8C00"/>
<polygon points="157.9,1058.2 157.9,1103.9 165.0,1103.1 171.4,1099.1 177.7,1097.6 184.0,1099.1 192.0,1096.0 198.3,1107.1 204.7,1110.2 212.6,1113.4 216.5,1116.6 222.1,1111.0 230.0,1106.3 236.4,1110.2 243.5,1112.6 257.8,1102.3 266.5,1104.7 276.0,1101.5 283.9,1099.1 290.3,1095.2 294.2,1084.9 297.4,1070.6 299.8,1058.2 326.7,1058.2 328.3,1065.9 336.2,1070.6 345.7,1070.6 352.1,1067.4 358.4,1070.6 361.6,1091.2 367.9,1097.6 374.3,1094.4 380.6,1092.8 387.8,1099.1 401.2,1072.2 406.0,1081.7 410.7,1086.5 415.5,1092.8 420.3,1099.1 425.0,1108.7 431.4,1118.2 436.1,1113.4 439.3,1091.2 444.0,1086.5 450.4,1083.3 456.7,1081.7 463.1,1080.1 469.4,1073.8 478.9,1069.0 488.4,1070.6 494.8,1076.9 501.1,1088.0 506.0,1089.6 506.0,1097.6 512.3,1102.3 519.5,1103.9 526.6,1100.7 532.9,1099.1 539.3,1089.6 544.8,1078.5 552.3,1086.5 565.4,1089.6 572.6,1092.8 578.9,1096.0 585.3,1097.6 591.6,1099.1 597.9,1099.1 604.3,1097.6 610.6,1094.4 617.0,1086.5 623.3,1083.3 631.2,1086.5 644.2,1081.7 651.8,1083.3 658.2,1088.0 664.5,1089.6 670.9,1096.0 677.2,1102.3 683.6,1110.2 689.9,1113.4 696.2,1116.6 702.6,1121.3 708.9,1138.8 710.5,1170.5 713.7,1145.1 718.4,1140.4 723.2,1135.6 727.9,1132.4 732.7,1135.6 737.5,1145.1 740.6,1122.9 743.8,1118.2 750.1,1116.6 756.5,1119.8 762.8,1113.4 769.2,1107.1 775.5,1111.8 781.8,1102.3 786.6,1089.6 788.2,1070.6 789.8,1089.6 791.4,1116.6 796.1,1129.3 800.9,1134.0 804.0,1126.1 807.2,1113.4 810.4,1110.2 815.1,1105.5 821.5,1097.6 827.8,1091.2 834.9,1088.0 848.1,1089.6 854.8,1086.5 861.1,1084.9 875.8,1064.3 881.9,1067.4 887.9,1064.3 908.5,1081.7 915.1,1084.9 921.5,1075.4 928.3,1069.0 940.2,1070.6 946.8,1064.3 953.2,1069.0 961.1,1076.9 970.6,1078.5 980.1,1081.7 986.5,1079.3 996.0,1081.7 1002.3,1088.0 1007.1,1096.0 1011.8,1110.2 1018.2,1116.6 1024.5,1115.0 1030.9,1116.6 1037.2,1118.2 1043.6,1122.9 1049.9,1126.1 1057.8,1132.4 1064.2,1127.7 1072.1,1124.5 1078.4,1119.8 1084.8,1118.2 1091.1,1113.4 1097.5,1103.9 1103.8,1097.6 1110.1,1092.8 1116.5,1096.0 1122.8,1100.7 1129.2,1097.6 1135.5,1097.6 1141.8,1096.0 1148.2,1089.6 1154.5,1088.0 1159.3,1091.2 1164.0,1097.6 1167.2,1121.3 1170.4,1153.0 1175.1,1165.7 1179.9,1167.3 1183.1,1159.4 1186.2,1145.1 1191.0,1129.3 1195.7,1113.4 1200.5,1092.8 1203.7,1078.5 1205.3,1058.2 1220.3,1058.2 1221.9,1073.8 1226.0,1089.6 1226.0,1125.3 1230.0,1126.9 1232.4,1058.2 1282.1,1058.2 1283.7,1082.1 1286.9,1104.5 1293.3,1117.3 1301.3,1136.6 1309.3,1118.9 1315.8,1107.7 1322.2,1102.9 1331.8,1101.3 1338.2,1109.3 1344.6,1125.3 1347.8,1138.2 1352.6,1120.5 1357.4,1102.9 1363.8,1091.7 1373.5,1090.1 1386.3,1086.1 1395.9,1088.5 1405.5,1092.5 1415.1,1094.9 1424.7,1096.5 1434.4,1098.1 1444.0,1098.1 1453.6,1093.3 1463.2,1090.1 1472.8,1089.3 1482.5,1088.5 1492.1,1091.7 1501.7,1096.5 1511.3,1101.3 1520.9,1104.5 1530.5,1109.3 1540.2,1107.7 1549.8,1106.9 1559.4,1107.7 1559.4,1058.2" fill="#A4D822"/>
<polygon points="157.9,1058.2 157.9,1100.4 165.0,1099.6 171.4,1095.6 177.7,1094.1 184.0,1095.6 192.0,1092.5 198.3,1103.6 204.7,1106.7 212.6,1109.9 216.5,1113.1 222.1,1107.5 230.0,1102.8 236.4,1106.7 243.5,1109.1 257.8,1098.8 266.5,1101.2 276.0,1098.0 283.9,1095.6 290.3,1091.7 294.2,1081.4 297.4,1067.1 299.8,1058.2 326.7,1058.2 328.3,1062.4 336.2,1067.1 345.7,1067.1 352.1,1063.9 358.4,1067.1 361.6,1087.7 367.9,1094.1 374.3,1090.9 380.6,1089.3 387.8,1095.6 401.2,1068.7 406.0,1078.2 410.7,1083.0 415.5,1089.3 420.3,1095.6 425.0,1105.2 431.4,1114.7 436.1,1109.9 439.3,1087.7 444.0,1083.0 450.4,1079.8 456.7,1078.2 463.1,1076.6 469.4,1070.3 478.9,1065.5 488.4,1067.1 494.8,1073.4 501.1,1084.5 506.0,1086.1 506.0,1094.1 512.3,1098.8 519.5,1100.4 526.6,1097.2 532.9,1095.6 539.3,1086.1 544.8,1075.0 552.3,1083.0 565.4,1086.1 572.6,1089.3 578.9,1092.5 585.3,1094.1 591.6,1095.6 597.9,1095.6 604.3,1094.1 610.6,1090.9 617.0,1083.0 623.3,1079.8 631.2,1083.0 644.2,1078.2 651.8,1079.8 658.2,1084.5 664.5,1086.1 670.9,1092.5 677.2,1098.8 683.6,1106.7 689.9,1109.9 696.2,1113.1 702.6,1117.8 708.9,1135.3 710.5,1167.0 713.7,1141.6 718.4,1136.9 723.2,1132.1 727.9,1128.9 732.7,1132.1 737.5,1141.6 740.6,1119.4 743.8,1114.7 750.1,1113.1 756.5,1116.3 762.8,1109.9 769.2,1103.6 775.5,1108.3 781.8,1098.8 786.6,1086.1 788.2,1067.1 789.8,1086.1 791.4,1113.1 796.1,1125.8 800.9,1130.5 804.0,1122.6 807.2,1109.9 810.4,1106.7 815.1,1102.0 821.5,1094.1 827.8,1087.7 834.9,1084.5 848.1,1086.1 854.8,1083.0 861.1,1081.4 875.8,1060.8 881.9,1063.9 887.9,1060.8 908.5,1078.2 915.1,1081.4 921.5,1071.9 928.3,1065.5 940.2,1067.1 946.8,1060.8 953.2,1065.5 961.1,1073.4 970.6,1075.0 980.1,1078.2 986.5,1075.8 996.0,1078.2 1002.3,1084.5 1007.1,1092.5 1011.8,1106.7 1018.2,1113.1 1024.5,1111.5 1030.9,1113.1 1037.2,1114.7 1043.6,1119.4 1049.9,1122.6 1057.8,1128.9 1064.2,1124.2 1072.1,1121.0 1078.4,1116.3 1084.8,1114.7 1091.1,1109.9 1097.5,1100.4 1103.8,1094.1 1110.1,1089.3 1116.5,1092.5 1122.8,1097.2 1129.2,1094.1 1135.5,1094.1 1141.8,1092.5 1148.2,1086.1 1154.5,1084.5 1159.3,1087.7 1164.0,1094.1 1167.2,1117.8 1170.4,1149.5 1175.1,1162.2 1179.9,1163.8 1183.1,1155.9 1186.2,1141.6 1191.0,1125.8 1195.7,1109.9 1200.5,1089.3 1203.7,1075.0 1205.3,1058.2 1220.3,1058.2 1221.9,1070.3 1226.0,1086.1 1226.0,1121.8 1230.0,1123.4 1232.4,1058.2 1282.1,1058.2 1283.7,1078.6 1286.9,1101.0 1293.3,1113.8 1301.3,1133.1 1309.3,1115.4 1315.8,1104.2 1322.2,1099.4 1331.8,1097.8 1338.2,1105.8 1344.6,1121.8 1347.8,1134.7 1352.6,1117.0 1357.4,1099.4 1363.8,1088.2 1373.5,1086.6 1386.3,1082.6 1395.9,1085.0 1405.5,1089.0 1415.1,1091.4 1424.7,1093.0 1434.4,1094.6 1444.0,1094.6 1453.6,1089.8 1463.2,1086.6 1472.8,1085.8 1482.5,1085.0 1492.1,1088.2 1501.7,1093.0 1511.3,1097.8 1520.9,1101.0 1530.5,1105.8 1540.2,1104.2 1549.8,1103.4 1559.4,1104.2 1559.4,1058.2" fill="#6BC132"/>
<polygon points="157.9,1058.2 157.9,1097.6 165.0,1096.0 171.4,1091.2 177.7,1081.7 180.9,1073.8 185.6,1086.5 192.0,1089.6 198.3,1097.6 204.7,1102.3 212.6,1105.5 216.5,1110.2 222.1,1103.9 230.0,1099.1 236.4,1102.3 243.5,1105.5 257.8,1097.6 266.5,1097.6 276.0,1096.0 283.9,1092.8 288.7,1084.9 293.4,1073.8 296.6,1058.2 326.7,1058.2 329.9,1064.3 342.6,1067.4 350.5,1062.7 356.8,1064.3 361.6,1081.7 367.9,1089.6 374.3,1086.5 380.6,1086.5 387.8,1094.4 401.2,1067.4 407.6,1075.4 415.5,1083.3 421.8,1091.2 428.2,1099.1 432.9,1103.9 437.7,1091.2 440.9,1078.5 447.2,1072.2 455.1,1069.0 463.1,1067.4 469.4,1059.5 491.6,1059.5 499.5,1072.2 506.0,1075.4 506.0,1089.6 519.5,1092.8 529.8,1086.5 537.7,1078.5 544.0,1069.0 552.3,1073.8 565.4,1073.8 572.6,1081.7 578.9,1075.4 585.3,1072.2 591.6,1076.9 597.9,1078.5 604.3,1070.6 610.6,1072.2 617.0,1076.9 623.3,1076.9 631.2,1073.8 644.2,1073.8 651.8,1075.4 658.2,1078.5 664.5,1081.7 670.9,1084.9 677.2,1092.8 683.6,1099.1 689.9,1102.3 696.2,1107.1 702.6,1113.4 708.9,1124.5 712.1,1132.4 716.8,1126.1 723.2,1121.3 727.9,1122.9 732.7,1124.5 737.5,1132.4 740.6,1113.4 747.0,1110.2 753.3,1110.2 759.6,1103.9 766.0,1097.6 772.3,1099.1 778.7,1096.0 785.0,1086.5 791.4,1105.5 796.1,1116.6 800.9,1122.9 807.2,1102.3 813.5,1094.4 819.9,1091.2 827.8,1084.9 834.9,1078.5 848.1,1078.5 854.8,1075.4 861.1,1073.8 875.8,1059.5 887.9,1059.5 908.5,1076.9 915.1,1080.1 921.5,1072.2 928.3,1064.3 940.2,1058.2 948.4,1058.2 954.8,1059.5 961.1,1059.5 967.5,1062.7 973.8,1064.3 980.1,1061.1 986.5,1059.5 992.8,1065.9 999.2,1072.2 1005.5,1081.7 1010.3,1097.6 1016.6,1110.2 1024.5,1108.7 1030.9,1110.2 1037.2,1113.4 1043.6,1116.6 1049.9,1119.8 1057.8,1126.1 1064.2,1121.3 1072.1,1118.2 1078.4,1113.4 1084.8,1111.8 1091.1,1107.1 1097.5,1097.6 1103.8,1091.2 1110.1,1086.5 1116.5,1089.6 1122.8,1094.4 1129.2,1091.2 1135.5,1091.2 1141.8,1089.6 1148.2,1083.3 1154.5,1081.7 1159.3,1084.9 1164.0,1092.8 1167.2,1116.6 1170.4,1148.3 1175.1,1161.0 1179.9,1161.0 1183.1,1153.0 1186.2,1138.8 1191.0,1122.9 1195.7,1107.1 1200.5,1088.0 1202.9,1073.8 1203.7,1058.2 1221.9,1058.2 1223.5,1069.0 1226.0,1081.7 1226.0,1114.1 1230.0,1117.3 1232.4,1058.2 1286.9,1058.2 1287.7,1074.0 1293.3,1091.7 1301.3,1112.5 1309.3,1091.7 1315.8,1082.1 1322.2,1085.3 1331.8,1090.1 1338.2,1101.3 1344.6,1117.3 1347.8,1130.1 1352.6,1110.9 1357.4,1093.3 1363.8,1083.7 1373.5,1082.1 1386.3,1075.6 1395.9,1078.9 1405.5,1083.7 1415.1,1085.3 1424.7,1086.9 1434.4,1091.7 1444.0,1094.9 1453.6,1085.3 1463.2,1082.1 1472.8,1080.5 1482.5,1078.9 1492.1,1082.1 1501.7,1086.9 1511.3,1090.1 1520.9,1094.9 1530.5,1096.5 1540.2,1093.3 1549.8,1091.7 1559.4,1088.5 1559.4,1058.2" fill="#2FA944"/>
<polygon points="157.9,1058.2 157.9,1089.6 163.4,1086.5 169.8,1080.1 173.7,1067.4 177.7,1058.2 198.3,1058.2 199.9,1086.5 206.2,1091.2 215.8,1100.7 220.5,1094.4 225.3,1078.5 230.0,1070.6 234.8,1073.8 241.1,1088.0 243.5,1089.6 257.8,1094.4 263.3,1092.8 269.7,1081.7 277.6,1076.9 285.5,1070.6 290.3,1061.1 293.4,1058.2 328.3,1058.2 331.5,1061.1 344.2,1065.9 350.5,1059.5 352.1,1058.2 363.2,1058.2 367.9,1073.8 374.3,1076.9 380.6,1073.8 387.8,1088.0 401.2,1064.3 409.2,1070.6 415.5,1076.9 421.8,1084.9 428.2,1094.4 432.9,1097.6 436.1,1081.7 439.3,1069.0 444.0,1058.2 469.4,1058.2 472.6,1067.4 477.3,1070.6 483.7,1069.0 490.0,1059.5 494.8,1058.2 501.1,1062.7 506.0,1070.6 506.0,1088.0 515.5,1090.4 525.0,1089.6 529.8,1078.5 531.4,1058.2 552.3,1058.2 565.4,1058.2 572.6,1067.4 578.9,1064.3 585.3,1058.2 615.4,1058.2 617.0,1070.6 623.3,1069.0 631.2,1065.9 644.2,1064.3 651.8,1067.4 658.2,1065.9 664.5,1069.0 670.9,1073.8 677.2,1081.7 685.1,1086.5 691.5,1094.4 697.8,1100.7 702.6,1110.2 708.9,1119.8 715.3,1118.2 721.6,1113.4 727.9,1116.6 734.3,1119.8 739.0,1116.6 743.8,1105.5 750.1,1097.6 756.5,1086.5 762.8,1081.7 769.2,1086.5 775.5,1084.9 781.8,1081.7 785.0,1058.2 791.4,1058.2 794.5,1094.4 799.3,1113.4 802.4,1116.6 807.2,1097.6 813.5,1081.7 819.9,1073.8 827.8,1065.9 834.9,1058.2 848.1,1058.2 861.1,1058.2 875.8,1058.2 887.9,1058.2 908.5,1072.2 916.7,1073.8 921.5,1065.9 926.2,1058.2 928.3,1058.2 940.2,1058.2 1005.5,1058.2 1008.7,1073.8 1013.4,1089.6 1018.2,1102.3 1024.5,1102.3 1030.9,1105.5 1037.2,1108.7 1043.6,1111.8 1049.9,1113.4 1057.8,1119.8 1064.2,1115.0 1072.1,1111.8 1078.4,1107.1 1084.8,1103.9 1091.1,1099.1 1097.5,1089.6 1103.8,1083.3 1110.1,1078.5 1116.5,1081.7 1122.8,1086.5 1129.2,1083.3 1135.5,1081.7 1141.8,1080.1 1146.6,1073.8 1151.4,1075.4 1157.7,1078.5 1162.4,1086.5 1165.6,1113.4 1168.8,1141.9 1175.1,1154.6 1179.9,1154.6 1183.1,1148.3 1186.2,1134.0 1191.0,1116.6 1195.7,1100.7 1198.9,1081.7 1200.5,1058.2 1226.0,1058.2 1226.0,1091.7 1230.0,1094.9 1230.8,1058.2 1296.5,1058.2 1298.1,1102.9 1301.3,1114.1 1304.5,1102.9 1306.1,1058.2 1339.8,1058.2 1341.4,1074.0 1344.6,1098.1 1349.4,1102.9 1354.2,1090.1 1362.2,1074.0 1370.3,1062.8 1371.9,1058.2 1559.4,1058.2 1559.4,1058.2" fill="#098B5A"/>
<polygon points="285.5,1059.5 289.5,1059.5 289.5,1073.8 285.5,1072.2" fill="#216D98"/>
<polygon points="383.8,1064.3 387.8,1062.7 387.8,1075.4 384.6,1073.8" fill="#216D98"/>
<polygon points="617.0,1064.3 631.2,1061.1 631.2,1069.0 623.3,1075.4 617.0,1073.8" fill="#216D98"/>
<polygon points="644.2,1059.5 658.2,1059.5 664.5,1067.4 658.2,1070.6 648.7,1069.0 644.2,1067.4" fill="#216D98"/>
<polygon points="696.2,1057.9 702.6,1057.9 704.2,1089.6 712.1,1105.5 721.6,1110.2 712.1,1118.2 705.7,1113.4 701.0,1102.3 696.2,1089.6 694.6,1065.9" fill="#216D98"/>
<polygon points="734.3,1057.9 745.4,1057.9 743.8,1081.7 739.0,1096.0 734.3,1089.6 732.7,1065.9" fill="#216D98"/>
<polygon points="1045.1,1065.9 1056.2,1059.5 1070.5,1059.5 1081.6,1064.3 1094.3,1062.7 1107.0,1061.1 1119.6,1059.5 1132.3,1064.3 1135.5,1073.8 1126.0,1081.7 1116.5,1078.5 1103.8,1078.5 1094.3,1075.4 1084.8,1076.9 1072.1,1073.8 1064.2,1078.5 1067.3,1091.2 1064.2,1102.3 1056.2,1097.6 1049.9,1084.9 1045.1,1075.4" fill="#216D98"/>
<polygon points="1024.5,1094.4 1034.0,1088.0 1043.6,1091.2 1045.1,1102.3 1037.2,1105.5 1029.3,1102.3" fill="#216D98"/>
<polygon points="1164.0,1057.9 1181.5,1057.9 1184.6,1089.6 1184.6,1121.3 1181.5,1145.1 1175.1,1157.8 1170.4,1151.5 1167.2,1121.3 1164.8,1089.6" fill="#216D98"/>
<polygon points="1226.0,1058.0 1230.8,1058.0 1230.0,1090.1 1226.0,1091.7" fill="#216D98"/>
<polygon points="1344.6,1074.0 1354.2,1066.0 1357.4,1067.6 1354.2,1090.1 1349.4,1101.3 1344.6,1099.7 1343.0,1090.1" fill="#216D98"/>
<polygon points="1525.7,1066.0 1532.1,1061.2 1540.2,1067.6 1532.1,1075.6" fill="#216D98"/>
<polygon points="1549.8,1066.0 1553.0,1063.6 1556.2,1067.6 1553.0,1070.8" fill="#216D98"/>
<polygon points="1057.8,1064.3 1065.7,1061.1 1076.8,1065.9 1091.1,1069.0 1103.8,1069.0 1113.3,1065.9 1121.2,1064.3 1127.6,1070.6 1122.8,1078.5 1111.7,1076.9 1100.6,1073.8 1087.9,1073.8 1072.1,1069.0 1061.0,1069.0" fill="#3B4CD2"/>
<polygon points="1034.0,1094.4 1040.4,1092.8 1043.6,1099.1 1037.2,1102.3" fill="#3B4CD2"/>
<polygon points="1166.4,1057.9 1176.7,1057.9 1179.9,1081.7 1181.5,1113.4 1180.7,1132.4 1175.1,1138.8 1170.4,1126.1 1167.2,1097.6 1166.4,1073.8" fill="#3B4CD2"/>
<polygon points="1113.3,1065.9 1129.2,1062.7 1133.9,1073.8 1126.0,1080.1 1116.5,1078.5" fill="#3B4CD2"/>
<polygon points="1346.2,1082.1 1351.0,1078.9 1352.6,1090.1 1347.8,1098.1" fill="#3B4CD2"/>
<polygon points="1168.0,1057.9 1174.3,1057.9 1176.7,1081.7 1178.3,1105.5 1179.1,1126.1 1175.1,1132.4 1172.0,1121.3 1169.6,1097.6 1168.0,1073.8" fill="#CC00FF"/>
<polygon points="1118.1,1067.4 1122.8,1064.3 1126.0,1070.6 1124.4,1075.4 1119.6,1075.4" fill="#CC00FF"/>
<polygon points="157.9,1110.2 165.0,1108.7 177.7,1105.5 184.0,1106.3 192.0,1102.3 198.3,1116.6 204.7,1119.8 212.6,1116.6 218.9,1115.8 225.3,1111.8 230.0,1107.9 236.4,1112.6 243.5,1115.8 243.5,1242.6 236.4,1227.6 231.6,1208.5 228.4,1197.4 218.9,1202.2 211.0,1197.4 206.2,1186.3 196.7,1181.6 190.4,1195.8 188.8,1211.7 182.5,1213.3 177.7,1210.1 173.7,1189.5 169.8,1180.0 165.0,1189.5 161.9,1170.5 157.9,1162.6" fill="#FFD800"/>
<polygon points="257.8,1107.1 266.5,1105.5 276.0,1102.3 283.9,1100.7 290.3,1097.6 296.6,1084.9 302.9,1072.2 310.9,1064.3 317.2,1067.4 325.1,1075.4 334.6,1080.1 344.2,1078.5 352.1,1073.8 356.8,1086.5 361.6,1100.7 367.9,1099.1 374.3,1100.7 382.2,1111.8 387.8,1116.6 387.8,1186.3 382.2,1181.6 375.1,1202.2 367.9,1216.5 361.6,1227.6 355.3,1237.1 350.5,1245.0 344.2,1246.6 336.2,1243.4 328.3,1237.1 320.4,1232.3 315.6,1221.2 310.9,1195.8 306.1,1161.0 302.9,1141.9 300.6,1148.3 296.6,1170.5 293.4,1189.5 288.7,1205.4 283.9,1218.0 280.7,1233.9 276.0,1240.2 269.7,1242.6 263.3,1245.0 257.8,1246.6" fill="#FFD800"/>
<polygon points="401.2,1089.6 407.6,1084.9 415.5,1097.6 421.8,1110.2 425.0,1121.3 425.0,1145.1 418.7,1161.0 415.5,1176.8 409.2,1173.7 406.0,1161.0 401.2,1145.1" fill="#FFD800"/>
<polygon points="445.6,1086.5 452.0,1084.9 461.5,1088.0 469.4,1088.0 478.9,1089.6 488.4,1088.0 494.8,1091.2 501.1,1092.8 506.0,1092.8 506.0,1195.8 497.9,1192.7 488.4,1200.6 478.9,1216.5 472.6,1230.7 466.2,1232.3 461.5,1208.5 456.7,1187.9 452.0,1167.3 447.2,1145.1 444.0,1126.1 442.4,1105.5" fill="#FFD800"/>
<polygon points="506.0,1102.3 512.3,1107.1 519.5,1108.7 526.6,1107.1 532.9,1102.3 539.3,1094.4 544.8,1086.5 552.3,1091.2 552.3,1248.2 545.6,1248.2 540.9,1237.1 534.5,1227.6 528.2,1216.5 521.9,1229.1 515.5,1214.9 512.3,1203.8 506.0,1206.9" fill="#FFD800"/>
<polygon points="565.4,1094.4 572.6,1097.6 578.9,1100.7 585.3,1102.3 591.6,1103.9 597.9,1105.5 604.3,1102.3 610.6,1100.7 617.0,1091.2 623.3,1088.0 631.2,1091.2 631.2,1233.9 623.3,1232.3 617.0,1230.7 610.6,1218.0 604.3,1214.9 597.9,1222.8 591.6,1230.7 585.3,1240.2 578.9,1233.9 572.6,1232.3 565.4,1235.5" fill="#FFD800"/>
<polygon points="644.2,1084.9 651.8,1086.5 658.2,1091.2 664.5,1096.0 670.9,1102.3 677.2,1110.2 683.6,1116.6 689.9,1119.8 696.2,1124.5 702.6,1127.7 707.3,1145.1 710.5,1173.7 715.3,1151.5 720.0,1143.5 724.8,1138.8 731.1,1140.4 735.9,1148.3 740.6,1126.1 747.0,1121.3 753.3,1121.3 759.6,1118.2 766.0,1113.4 772.3,1116.6 778.7,1110.2 783.4,1097.6 788.2,1073.8 791.4,1097.6 794.5,1126.1 799.3,1132.4 804.0,1129.3 807.2,1115.0 813.5,1111.8 821.5,1103.9 827.8,1097.6 834.9,1094.4 834.9,1278.3 827.8,1279.9 821.5,1259.3 815.1,1232.3 810.4,1227.6 804.0,1252.9 797.7,1260.8 791.4,1256.1 785.0,1275.1 781.8,1290.0 759.6,1290.0 756.5,1271.9 751.7,1232.3 747.0,1208.5 740.6,1195.8 734.3,1192.7 727.9,1176.8 723.2,1173.7 718.4,1202.2 715.3,1208.5 712.1,1192.7 708.9,1175.2 705.7,1161.0 702.6,1170.5 696.2,1173.7 689.9,1184.7 683.6,1192.7 680.4,1216.5 677.2,1271.9 670.9,1275.1 664.5,1279.9 658.2,1268.8 651.8,1264.0 644.2,1265.6" fill="#FFD800"/>
<polygon points="848.1,1091.2 854.8,1089.6 861.1,1088.0 861.1,1287.8 848.1,1287.8" fill="#FFD800"/>
<polygon points="875.8,1076.9 881.9,1080.1 887.9,1076.9 887.9,1268.8 881.9,1268.8 875.8,1262.4" fill="#FFD800"/>
<polygon points="908.5,1086.5 915.1,1089.6 921.5,1080.1 928.3,1072.2 928.3,1252.9 921.5,1246.6 915.1,1241.8 908.5,1248.2" fill="#FFD800"/>
<polygon points="940.2,1073.8 946.8,1067.4 953.2,1072.2 961.1,1078.5 970.6,1080.9 980.1,1084.9 986.5,1081.7 996.0,1084.9 1002.3,1091.2 1007.1,1100.7 1011.8,1115.0 1018.2,1119.8 1024.5,1118.2 1030.9,1119.8 1037.2,1121.3 1043.6,1126.1 1049.9,1129.3 1057.8,1137.2 1064.2,1132.4 1072.1,1129.3 1078.4,1124.5 1084.8,1121.3 1091.1,1116.6 1097.5,1107.1 1103.8,1100.7 1110.1,1096.0 1116.5,1099.1 1122.8,1103.9 1129.2,1100.7 1135.5,1100.7 1141.8,1099.1 1148.2,1092.8 1152.9,1091.2 1157.7,1089.6 1162.4,1092.8 1165.6,1105.5 1167.2,1129.3 1170.4,1161.0 1175.1,1173.7 1179.9,1173.7 1183.1,1165.7 1187.8,1148.3 1192.6,1129.3 1197.3,1111.8 1202.1,1092.8 1205.3,1081.7 1208.4,1075.4 1214.8,1072.2 1221.1,1078.5 1226.0,1097.6 1226.0,1264.0 1219.5,1256.1 1210.0,1254.5 1203.7,1268.8 1198.9,1270.4 1189.4,1287.8 1183.1,1287.8 1176.7,1267.2 1172.0,1240.2 1167.2,1254.5 1164.0,1268.8 1157.7,1271.9 1151.4,1256.1 1145.0,1237.1 1138.7,1256.1 1135.5,1262.4 1129.2,1271.9 1122.8,1273.5 1119.6,1256.1 1116.5,1248.2 1110.1,1256.1 1103.8,1254.5 1097.5,1264.0 1091.1,1264.0 1084.8,1270.4 1078.4,1268.8 1072.1,1254.5 1065.7,1262.4 1059.4,1276.7 1053.1,1275.1 1045.1,1264.0 1040.4,1265.6 1032.5,1275.1 1024.5,1265.6 1018.2,1270.4 1013.4,1275.1 1005.5,1279.9 999.2,1276.7 992.8,1276.7 986.5,1268.8 980.1,1271.9 973.8,1265.6 967.5,1259.3 961.1,1262.4 954.8,1275.1 946.8,1281.5 942.1,1275.1 940.2,1265.6" fill="#FFD800"/>
<polygon points="1242.0,1050.0 1248.4,1058.0 1251.6,1062.8 1262.9,1059.6 1274.1,1061.2 1280.5,1066.0 1283.7,1082.1 1286.9,1104.5 1294.9,1122.1 1301.3,1139.8 1309.3,1122.1 1315.8,1110.9 1322.2,1106.1 1331.8,1104.5 1338.2,1112.5 1344.6,1128.5 1347.8,1141.4 1352.6,1123.7 1357.4,1106.1 1363.8,1094.9 1373.5,1093.3 1386.3,1089.3 1395.9,1091.7 1405.5,1095.7 1415.1,1098.1 1424.7,1099.7 1434.4,1101.3 1444.0,1101.3 1453.6,1096.5 1463.2,1093.3 1472.8,1092.5 1482.5,1091.7 1492.1,1094.9 1501.7,1099.7 1511.3,1104.5 1520.9,1107.7 1530.5,1112.5 1540.2,1110.9 1549.8,1110.1 1559.4,1110.9 1559.4,1203.9 1551.4,1186.2 1540.2,1184.6 1530.5,1183.0 1520.9,1211.9 1511.3,1194.3 1501.7,1197.5 1492.1,1208.7 1485.7,1199.1 1474.4,1213.5 1466.4,1197.5 1460.0,1187.8 1453.6,1189.4 1447.2,1194.3 1440.8,1215.1 1434.4,1186.2 1428.0,1207.1 1419.9,1221.5 1411.9,1231.1 1402.3,1234.3 1395.9,1227.9 1386.3,1242.3 1379.9,1277.6 1375.1,1234.3 1370.3,1211.9 1363.8,1234.3 1354.2,1250.4 1347.8,1253.6 1341.4,1253.6 1336.6,1268.0 1330.2,1248.7 1322.2,1245.5 1315.8,1242.3 1306.1,1248.7 1296.5,1252.0 1290.1,1256.8 1283.7,1258.4 1278.9,1264.8 1274.1,1256.8 1267.7,1247.1 1262.9,1266.4 1256.5,1272.8 1250.0,1258.4 1243.6,1226.3 1240.4,1162.2 1237.2,1130.1 1235.6,1098.1 1234.0,1082.1 1235.6,1050.0" fill="#FFD800"/>
<polygon points="157.9,1111.8 161.9,1110.2 169.8,1108.7 177.7,1107.1 184.0,1107.1 189.6,1108.7 193.6,1116.6 196.7,1119.8 203.1,1119.8 209.4,1118.2 215.8,1120.5 222.1,1113.4 228.4,1108.7 236.4,1115.0 243.5,1118.2 243.5,1176.8 236.4,1175.2 228.4,1178.4 222.1,1175.2 214.2,1176.8 209.4,1170.5 203.1,1161.0 196.7,1162.6 190.4,1161.0 184.0,1161.0 177.7,1162.6 169.8,1161.0 161.9,1156.2 157.9,1154.6" fill="#FF8C00"/>
<polygon points="257.8,1110.2 266.5,1107.1 272.8,1108.7 282.3,1111.8 290.3,1113.4 296.6,1108.7 302.9,1097.6 309.3,1089.6 312.5,1078.5 317.2,1076.9 323.6,1086.5 329.9,1089.6 336.2,1086.5 344.2,1081.7 348.9,1083.3 353.7,1097.6 360.0,1108.7 367.9,1110.2 374.3,1111.8 382.2,1115.0 387.8,1124.5 383.8,1148.3 377.5,1165.7 367.9,1161.0 360.0,1164.1 358.4,1176.8 355.3,1192.7 352.1,1208.5 348.9,1218.0 342.6,1222.8 336.2,1208.5 325.1,1192.7 317.2,1183.2 310.9,1168.9 304.5,1153.0 301.4,1145.1 298.2,1157.8 293.4,1170.5 285.5,1181.6 279.2,1189.5 276.0,1187.9 269.7,1183.2 263.3,1181.6 257.8,1180.0" fill="#FF8C00"/>
<polygon points="401.2,1113.4 409.2,1108.7 420.3,1109.4 421.8,1111.8 412.3,1116.6 409.2,1129.3 409.2,1145.1 407.6,1157.8 404.4,1161.0 401.2,1151.5" fill="#FF8C00"/>
<polygon points="463.1,1091.2 469.4,1089.6 478.9,1091.2 488.4,1089.6 497.9,1094.4 506.0,1097.6 506.0,1178.4 497.9,1176.8 491.6,1173.7 486.8,1173.7 478.9,1164.1 472.6,1164.1 466.2,1161.0 464.6,1129.3 461.5,1102.3" fill="#FF8C00"/>
<polygon points="466.2,1173.7 471.0,1176.8 474.2,1186.3 469.4,1195.8 466.2,1192.7" fill="#FF8C00"/>
<polygon points="450.4,1097.6 453.5,1094.4 456.7,1097.6 453.5,1102.3" fill="#FF8C00"/>
<polygon points="506.0,1107.1 512.3,1110.2 519.5,1113.4 526.6,1111.8 532.9,1108.7 539.3,1096.0 544.8,1089.6 552.3,1094.4 552.3,1195.8 545.6,1205.4 539.3,1197.4 531.4,1189.5 529.8,1176.8 525.0,1161.0 519.5,1148.3 515.5,1173.7 512.3,1176.8 506.0,1170.5" fill="#FF8C00"/>
<polygon points="565.4,1096.0 572.6,1099.1 578.9,1103.9 585.3,1105.5 591.6,1107.1 597.9,1108.7 604.3,1110.2 609.0,1116.6 612.2,1121.3 615.4,1097.6 623.3,1091.2 631.2,1094.4 631.2,1189.5 623.3,1170.5 617.0,1170.5 612.2,1186.3 607.5,1176.8 601.1,1173.7 596.4,1170.5 591.6,1180.0 585.3,1172.1 578.9,1176.8 572.6,1192.7 565.4,1206.9" fill="#FF8C00"/>
<polygon points="644.2,1084.1 651.8,1086.5 658.2,1092.8 664.5,1097.6 670.9,1103.9 677.2,1113.4 682.0,1129.3 685.9,1145.1 680.4,1157.8 674.0,1165.7 671.7,1176.8 672.5,1192.7 670.9,1211.7 664.5,1224.4 658.2,1218.0 651.8,1227.6 644.2,1235.5" fill="#FF8C00"/>
<polygon points="740.6,1126.1 747.0,1119.8 753.3,1118.2 759.6,1121.3 767.6,1126.1 775.5,1129.3 781.8,1132.4 788.2,1137.2 791.4,1153.0 796.1,1173.7 800.9,1157.8 804.0,1138.8 807.2,1121.3 813.5,1113.4 821.5,1110.2 827.8,1107.1 834.9,1107.1 834.9,1184.7 827.8,1199.0 821.5,1208.5 815.1,1199.0 810.4,1206.9 804.0,1219.6 797.7,1210.1 791.4,1216.5 785.0,1224.4 775.5,1233.9 767.6,1232.3 759.6,1232.3 753.3,1216.5 750.1,1192.7 743.8,1164.1 740.6,1145.1" fill="#FF8C00"/>
<polygon points="718.4,1143.5 723.2,1135.6 729.5,1138.8 731.1,1148.3 724.8,1164.1 720.0,1161.0" fill="#FF8C00"/>
<polygon points="848.1,1097.6 861.1,1094.4 861.1,1208.5 854.8,1205.4 848.1,1218.0" fill="#FF8C00"/>
<polygon points="875.8,1081.7 881.9,1084.9 887.9,1081.7 887.9,1214.9 881.9,1214.9 875.8,1192.7" fill="#FF8C00"/>
<polygon points="908.5,1091.2 915.1,1092.8 921.5,1081.7 928.3,1073.8 928.3,1189.5 921.5,1192.7 915.1,1205.4 908.5,1203.8" fill="#FF8C00"/>
<polygon points="940.2,1075.4 946.8,1070.6 953.2,1075.4 961.1,1080.1 970.6,1082.5 980.1,1086.5 986.5,1083.3 996.0,1086.5 1002.3,1092.8 1008.7,1107.1 1015.0,1116.6 1021.4,1121.3 1027.7,1121.3 1034.0,1122.9 1040.4,1126.1 1046.7,1130.8 1053.1,1135.6 1057.8,1140.4 1064.2,1134.0 1070.5,1130.8 1076.8,1127.7 1084.8,1124.5 1091.1,1119.8 1097.5,1110.2 1103.8,1103.9 1110.1,1099.1 1116.5,1102.3 1122.8,1105.5 1129.2,1102.3 1135.5,1102.3 1141.8,1100.7 1148.2,1094.4 1152.9,1092.8 1157.7,1092.8 1162.4,1097.6 1164.0,1110.2 1160.9,1138.8 1157.7,1161.0 1151.4,1164.1 1145.0,1170.5 1135.5,1170.5 1129.2,1154.6 1122.8,1176.8 1116.5,1186.3 1110.1,1200.6 1103.8,1218.0 1099.0,1232.3 1091.1,1243.4 1084.8,1237.1 1078.4,1245.0 1072.1,1251.3 1067.3,1232.3 1062.6,1227.6 1059.4,1256.1 1053.1,1256.1 1045.1,1240.2 1037.2,1237.1 1030.9,1232.3 1024.5,1240.2 1018.2,1248.2 1013.4,1240.2 1005.5,1226.0 999.2,1233.9 992.8,1235.5 986.5,1235.5 980.1,1221.2 973.8,1205.4 967.5,1202.2 962.7,1187.9 954.8,1184.7 945.3,1183.2 940.2,1189.5" fill="#FF8C00"/>
<polygon points="1181.5,1161.0 1184.6,1148.3 1189.4,1138.8 1194.2,1122.9 1198.9,1103.9 1202.1,1089.6 1205.3,1080.1 1210.0,1076.9 1216.3,1078.5 1221.1,1081.7 1226.0,1097.6 1226.0,1248.2 1219.5,1243.4 1214.8,1227.6 1210.0,1252.9 1203.7,1256.1 1197.3,1249.7 1192.6,1271.9 1189.4,1287.8 1184.6,1287.8 1181.5,1256.1 1180.7,1208.5" fill="#FF8C00"/>
<polygon points="1154.5,1218.0 1156.9,1227.6 1159.3,1245.0 1156.1,1246.6 1153.7,1232.3" fill="#FF8C00"/>
<polygon points="1243.6,1058.0 1248.4,1058.0 1253.2,1059.6 1262.9,1059.6 1275.7,1061.2 1280.5,1066.0 1285.3,1085.3 1290.1,1102.9 1296.5,1117.3 1302.9,1136.6 1309.3,1117.3 1315.8,1109.3 1323.8,1104.5 1331.8,1103.7 1338.2,1110.9 1344.6,1126.9 1347.8,1138.2 1352.6,1118.9 1357.4,1102.9 1363.8,1093.3 1373.5,1091.7 1386.3,1088.5 1395.9,1090.9 1405.5,1094.9 1415.1,1096.5 1424.7,1098.1 1434.4,1099.7 1444.0,1099.7 1453.6,1095.7 1463.2,1092.5 1472.8,1091.7 1482.5,1090.9 1492.1,1093.3 1501.7,1098.1 1511.3,1102.9 1520.9,1106.1 1530.5,1109.3 1540.2,1107.7 1549.8,1107.7 1559.4,1109.3 1559.4,1175.0 1551.4,1163.8 1540.2,1162.2 1530.5,1160.6 1520.9,1181.4 1511.3,1171.8 1501.7,1165.4 1492.1,1162.2 1482.5,1162.2 1474.4,1184.6 1466.4,1165.4 1460.0,1171.8 1453.6,1165.4 1447.2,1175.0 1440.8,1186.2 1434.4,1160.6 1428.0,1171.8 1419.9,1191.0 1411.9,1186.2 1402.3,1210.3 1394.3,1208.7 1386.3,1197.5 1379.9,1210.3 1373.5,1183.0 1367.0,1179.8 1360.6,1194.3 1354.2,1211.9 1347.8,1184.6 1341.4,1178.2 1335.0,1211.9 1328.6,1211.9 1322.2,1200.7 1315.8,1189.4 1309.3,1191.0 1302.9,1203.9 1296.5,1207.1 1290.1,1207.1 1283.7,1218.3 1277.3,1226.3 1274.1,1258.4 1267.7,1234.3 1262.9,1271.2 1256.5,1271.2 1250.0,1242.3 1245.2,1194.3 1243.6,1146.2" fill="#FF8C00"/>
<polygon points="1056.2,1164.1 1064.2,1151.5 1072.1,1157.8 1075.3,1170.5 1072.1,1200.6 1068.9,1180.0 1059.4,1180.0 1054.6,1170.5" fill="#FFD800"/>
<polygon points="157.9,1118.2 165.0,1112.6 172.9,1110.2 182.5,1107.1 188.8,1110.2 193.6,1121.3 196.7,1134.0 200.7,1143.5 193.6,1151.5 184.0,1153.0 177.7,1151.5 169.8,1148.3 161.9,1148.3 157.9,1146.7" fill="#FF3C00"/>
<polygon points="204.7,1138.8 207.8,1124.5 215.8,1122.9 223.7,1113.4 230.0,1110.2 236.4,1113.4 243.5,1118.2 243.5,1164.1 236.4,1164.1 228.4,1161.0 220.5,1164.1 214.2,1161.0 209.4,1151.5 206.2,1145.1" fill="#FF3C00"/>
<polygon points="257.8,1113.4 266.5,1108.7 276.0,1110.2 285.5,1115.0 291.8,1119.8 295.0,1132.4 293.4,1148.3 288.7,1161.0 283.9,1175.2 277.6,1181.6 271.2,1173.7 263.3,1168.9 257.8,1165.7" fill="#FF3C00"/>
<polygon points="299.8,1110.2 306.1,1105.5 312.5,1084.9 317.2,1080.1 323.6,1089.6 331.5,1089.6 341.0,1084.9 347.3,1088.0 352.1,1102.3 358.4,1115.0 361.6,1132.4 360.0,1157.8 356.8,1170.5 352.1,1186.3 348.9,1205.4 344.2,1206.9 339.4,1189.5 333.1,1176.8 325.1,1170.5 317.2,1167.3 310.9,1157.8 304.5,1138.8 301.4,1124.5" fill="#FF3C00"/>
<polygon points="361.6,1124.5 367.9,1119.8 374.3,1116.6 380.6,1129.3 383.8,1143.5 380.6,1153.0 374.3,1161.0 367.9,1154.6 361.6,1151.5 360.8,1138.8" fill="#FF3C00"/>
<polygon points="464.6,1097.6 471.0,1092.8 478.9,1092.8 486.8,1092.8 494.8,1096.0 506.0,1102.3 506.0,1167.3 497.9,1164.1 491.6,1161.0 486.8,1159.4 478.9,1159.4 469.4,1151.5 466.2,1138.8 464.6,1116.6" fill="#FF3C00"/>
<polygon points="506.0,1107.1 512.3,1110.2 519.5,1115.0 526.6,1113.4 532.9,1110.2 539.3,1097.6 544.8,1088.0 552.3,1092.8 552.3,1164.1 545.6,1172.1 540.9,1161.0 532.9,1153.0 525.0,1145.1 519.5,1135.6 513.9,1151.5 509.2,1161.0 506.0,1164.1" fill="#FF3C00"/>
<polygon points="565.4,1096.0 572.6,1099.1 578.9,1102.3 585.3,1103.9 591.6,1105.5 597.9,1107.1 604.3,1108.7 609.0,1118.2 610.6,1129.3 615.4,1097.6 623.3,1091.2 631.2,1092.8 631.2,1170.5 623.3,1164.1 617.0,1170.5 613.8,1176.8 607.5,1161.0 601.1,1159.4 594.8,1161.0 588.4,1159.4 582.1,1164.1 575.8,1167.3 569.4,1173.7 565.4,1183.2" fill="#FF3C00"/>
<polygon points="644.2,1084.1 651.8,1086.5 658.2,1091.2 664.5,1096.0 670.9,1102.3 676.4,1113.4 677.2,1122.9 674.0,1145.1 667.7,1153.0 664.5,1170.5 664.5,1192.7 659.8,1184.7 656.6,1170.5 648.7,1189.5 644.2,1199.0" fill="#FF3C00"/>
<polygon points="742.2,1129.3 748.5,1122.9 754.9,1124.5 759.6,1134.0 762.8,1121.3 769.2,1119.8 775.5,1124.5 781.8,1138.8 781.8,1173.7 778.7,1192.7 772.3,1202.2 766.0,1202.2 759.6,1195.8 754.9,1173.7 748.5,1164.1 743.8,1151.5" fill="#FF3C00"/>
<polygon points="807.2,1113.4 813.5,1113.4 823.1,1116.6 831.0,1116.6 834.9,1116.6 834.9,1151.5 827.8,1161.0 821.5,1170.5 815.1,1170.5 810.4,1167.3 807.2,1145.1" fill="#FF3C00"/>
<polygon points="848.1,1096.0 854.8,1094.4 861.1,1097.6 861.1,1165.7 854.8,1159.4 848.1,1159.4" fill="#FF3C00"/>
<polygon points="720.0,1145.1 724.8,1137.2 729.5,1143.5 726.4,1153.0 723.2,1161.0" fill="#FF3C00"/>
<polygon points="875.8,1086.5 881.9,1088.0 887.9,1086.5 887.9,1161.0 881.9,1173.7 875.8,1164.1" fill="#FF3C00"/>
<polygon points="908.5,1096.0 915.1,1094.4 921.5,1083.3 928.3,1075.4 928.3,1167.3 921.5,1157.8 915.1,1172.1 908.5,1145.1" fill="#FF3C00"/>
<polygon points="940.2,1078.5 946.8,1073.8 953.2,1076.9 961.1,1081.7 970.6,1083.3 980.1,1088.0 986.5,1084.9 996.0,1088.0 1002.3,1096.0 1008.7,1110.2 1015.0,1119.8 1021.4,1122.9 1027.7,1124.5 1034.0,1124.5 1040.4,1127.7 1046.7,1132.4 1053.1,1135.6 1056.2,1141.9 1054.6,1151.5 1052.3,1173.7 1051.5,1181.6 1045.1,1165.7 1037.2,1164.1 1030.9,1180.0 1029.3,1200.6 1032.5,1224.4 1035.6,1240.2 1030.9,1235.5 1024.5,1211.7 1018.2,1195.8 1016.6,1187.9 1013.4,1180.0 1008.7,1176.8 1005.5,1170.5 999.2,1164.1 992.8,1186.3 986.5,1176.8 983.3,1157.8 980.1,1176.8 973.8,1170.5 967.5,1167.3 961.1,1164.1 954.8,1159.4 948.4,1159.4 943.7,1167.3 940.2,1168.9" fill="#FF3C00"/>
<polygon points="1091.1,1113.4 1097.5,1108.7 1103.8,1102.3 1110.1,1097.6 1116.5,1100.7 1122.8,1103.9 1129.2,1102.3 1135.5,1113.4 1138.7,1121.3 1135.5,1132.4 1132.3,1148.3 1126.0,1148.3 1119.6,1138.8 1113.3,1145.1 1103.8,1148.3 1097.5,1138.8 1092.7,1126.1" fill="#FF3C00"/>
<polygon points="1076.8,1143.5 1081.6,1148.3 1087.9,1168.9 1084.8,1180.0 1080.0,1161.0" fill="#FF3C00"/>
<polygon points="1146.6,1113.4 1151.4,1100.7 1157.7,1094.4 1162.4,1105.5 1164.0,1129.3 1162.4,1153.0 1157.7,1164.1 1151.4,1161.0 1148.2,1145.1" fill="#FF3C00"/>
<polygon points="1183.1,1161.0 1189.4,1145.1 1194.2,1126.1 1198.9,1107.1 1202.1,1096.0 1208.4,1088.0 1214.8,1084.9 1221.1,1088.0 1226.0,1097.6 1226.0,1240.2 1219.5,1227.6 1214.8,1200.6 1210.0,1192.7 1205.3,1180.0 1198.9,1175.2 1191.0,1170.5 1184.6,1167.3" fill="#FF3C00"/>
<polygon points="1189.4,1233.9 1195.7,1226.0 1197.3,1237.1 1194.2,1243.4" fill="#FF3C00"/>
<polygon points="1246.8,1059.6 1251.6,1066.0 1262.9,1062.8 1274.1,1066.0 1280.5,1074.0 1285.3,1091.7 1291.7,1110.9 1298.1,1125.3 1302.9,1139.8 1309.3,1120.5 1315.8,1112.5 1323.8,1107.7 1331.8,1106.9 1338.2,1114.1 1343.0,1125.3 1347.8,1139.8 1352.6,1122.1 1357.4,1104.5 1363.8,1096.5 1373.5,1094.9 1386.3,1091.7 1395.9,1094.1 1405.5,1098.1 1415.1,1101.3 1424.7,1102.9 1434.4,1102.9 1444.0,1101.3 1453.6,1097.3 1463.2,1094.9 1472.8,1094.1 1482.5,1093.3 1492.1,1096.5 1501.7,1101.3 1511.3,1106.1 1520.9,1110.9 1530.5,1114.1 1540.2,1114.1 1549.8,1114.1 1559.4,1115.7 1559.4,1162.2 1553.0,1146.2 1545.0,1143.0 1538.6,1146.2 1530.5,1149.4 1520.9,1165.4 1511.3,1159.0 1501.7,1155.8 1492.1,1155.8 1482.5,1155.8 1474.4,1159.0 1466.4,1160.6 1460.0,1160.6 1453.6,1152.6 1447.2,1159.0 1440.8,1162.2 1434.4,1155.8 1428.0,1152.6 1419.9,1167.0 1411.9,1168.6 1402.3,1173.4 1394.3,1183.0 1386.3,1163.8 1379.9,1176.6 1373.5,1162.2 1367.0,1171.8 1360.6,1160.6 1354.2,1146.2 1347.8,1146.2 1341.4,1165.4 1335.0,1171.8 1328.6,1187.8 1322.2,1178.2 1315.8,1175.0 1309.3,1176.6 1302.9,1178.2 1296.5,1184.6 1290.1,1186.2 1283.7,1191.0 1277.3,1203.9 1274.1,1223.1 1267.7,1210.3 1262.9,1226.3 1256.5,1242.3 1250.0,1226.3 1246.8,1178.2" fill="#FF3C00"/>
<polygon points="875.8,1088.0 887.9,1088.0 887.9,1138.8 881.9,1132.4 875.8,1138.8" fill="#E10000"/>
<polygon points="908.5,1100.7 921.5,1084.9 928.3,1076.2 928.3,1138.8 921.5,1132.4 915.1,1145.1 908.5,1126.1" fill="#E10000"/>
<polygon points="940.2,1080.1 948.4,1078.5 954.8,1080.1 964.3,1081.7 973.8,1087.3 980.1,1089.6 986.5,1082.5 996.0,1085.7 1002.3,1094.4 1008.7,1110.2 1015.0,1119.8 1021.4,1124.5 1018.2,1132.4 1008.7,1137.2 1002.3,1138.8 999.2,1145.1 992.8,1137.2 986.5,1129.3 980.1,1126.1 973.8,1126.1 967.5,1135.6 961.1,1138.8 954.8,1135.6 946.8,1135.6 940.2,1137.2" fill="#E10000"/>
<polygon points="1019.8,1138.8 1027.7,1127.7 1034.0,1129.3 1045.1,1141.9 1042.0,1149.9 1032.5,1159.4 1026.1,1162.6 1021.4,1151.5" fill="#E10000"/>
<polygon points="1102.2,1111.8 1111.7,1102.3 1119.6,1102.3 1127.6,1110.2 1133.9,1119.8 1132.3,1132.4 1126.0,1135.6 1119.6,1132.4 1111.7,1127.7 1103.8,1124.5" fill="#E10000"/>
<polygon points="1148.2,1116.6 1152.9,1100.7 1157.7,1092.8 1162.4,1105.5 1164.0,1132.4 1160.9,1151.5 1156.1,1154.6 1151.4,1141.9" fill="#E10000"/>
<polygon points="1192.6,1129.3 1197.3,1110.2 1202.1,1097.6 1208.4,1091.2 1214.8,1084.9 1221.1,1091.2 1224.3,1113.4 1221.1,1161.0 1217.9,1192.7 1211.6,1180.0 1203.7,1170.5 1195.7,1161.0 1192.6,1145.1" fill="#E10000"/>
<polygon points="1248.4,1062.8 1262.9,1061.2 1274.1,1064.4 1280.5,1074.0 1285.3,1090.1 1291.7,1109.3 1298.1,1123.7 1302.9,1139.8 1309.3,1118.9 1315.8,1110.9 1323.8,1106.1 1331.8,1106.1 1338.2,1114.1 1341.4,1123.7 1338.2,1139.8 1331.8,1165.4 1325.4,1170.2 1315.8,1167.0 1306.1,1168.6 1299.7,1162.2 1293.3,1168.6 1283.7,1175.0 1277.3,1181.4 1274.1,1194.3 1267.7,1187.8 1262.9,1210.3 1256.5,1207.1 1251.6,1194.3 1248.4,1146.2" fill="#E10000"/>
<polygon points="1354.2,1098.1 1363.8,1094.9 1373.5,1093.3 1386.3,1090.1 1395.9,1093.3 1405.5,1098.1 1415.1,1102.9 1418.3,1118.9 1415.1,1139.8 1407.1,1143.0 1399.1,1162.2 1394.3,1165.4 1386.3,1146.2 1379.9,1162.2 1373.5,1152.6 1367.0,1149.4 1360.6,1159.0 1354.2,1146.2 1351.0,1122.1" fill="#E10000"/>
<polygon points="1424.7,1117.3 1431.2,1106.1 1440.8,1104.5 1450.4,1099.7 1463.2,1096.5 1476.0,1093.3 1485.7,1094.9 1495.3,1101.3 1508.1,1106.1 1516.1,1114.1 1519.3,1139.8 1514.5,1152.6 1508.1,1154.2 1498.5,1151.0 1488.9,1152.6 1482.5,1146.2 1476.0,1154.2 1466.4,1152.6 1460.0,1149.4 1453.6,1144.6 1447.2,1151.0 1440.8,1149.4 1434.4,1143.0 1428.0,1133.3" fill="#E10000"/>
<polygon points="1540.2,1120.5 1546.6,1117.3 1549.8,1130.1 1546.6,1149.4 1541.8,1146.2 1538.6,1138.2" fill="#E10000"/>
<polygon points="169.8,1121.3 176.1,1116.6 184.0,1112.6 190.4,1117.4 192.8,1129.3 189.6,1138.8 184.0,1141.9 177.7,1143.5 171.4,1138.8 169.0,1129.3" fill="#960000" stroke="#E10000" stroke-width="4.5" stroke-linejoin="round"/>
<polygon points="225.3,1121.3 231.6,1117.4 239.5,1119.8 243.5,1121.3 243.5,1154.6 236.4,1157.8 228.4,1153.8 220.5,1153.8 212.6,1152.3 208.6,1145.1 210.2,1136.4 217.3,1132.4 222.1,1126.1" fill="#960000" stroke="#E10000" stroke-width="4.5" stroke-linejoin="round"/>
<polygon points="257.8,1116.6 263.3,1113.4 272.8,1111.8 282.3,1115.0 288.7,1122.9 290.3,1138.8 288.7,1151.5 282.3,1159.4 276.0,1164.1 269.7,1159.4 261.7,1154.6 257.8,1151.5" fill="#960000" stroke="#E10000" stroke-width="4.5" stroke-linejoin="round"/>
<polygon points="301.4,1115.0 307.7,1110.2 312.5,1097.6 315.6,1092.8 322.0,1099.1 328.3,1103.9 336.2,1100.7 344.2,1097.6 350.5,1102.3 355.3,1113.4 360.0,1129.3 360.0,1145.1 356.8,1161.0 352.1,1173.7 347.3,1181.6 341.0,1176.8 333.1,1170.5 323.6,1164.1 315.6,1161.0 310.9,1153.0 307.7,1141.9 304.5,1132.4 302.2,1122.9" fill="#960000" stroke="#E10000" stroke-width="4.5" stroke-linejoin="round"/>
<polygon points="371.9,1129.3 377.5,1143.5 374.3,1151.5 367.9,1145.1" fill="#960000" stroke="#E10000" stroke-width="4.5" stroke-linejoin="round"/>
<polygon points="467.8,1097.6 475.7,1099.1 480.5,1102.3 486.8,1097.6 494.8,1102.3 502.7,1111.8 506.0,1107.1 506.0,1122.9 501.1,1126.1 496.3,1137.2 493.2,1145.1 486.8,1143.5 480.5,1143.5 475.7,1130.8 472.6,1118.2 469.4,1105.5" fill="#960000" stroke="#E10000" stroke-width="4.5" stroke-linejoin="round"/>
<polygon points="506.0,1110.2 509.2,1113.4 510.8,1129.3 507.6,1145.1 506.0,1145.1" fill="#960000" stroke="#E10000" stroke-width="4.5" stroke-linejoin="round"/>
<polygon points="540.1,1105.5 545.6,1096.0 552.3,1094.4 552.3,1138.8 547.2,1135.6 542.5,1129.3 540.1,1118.2" fill="#960000" stroke="#E10000" stroke-width="4.5" stroke-linejoin="round"/>
<polygon points="565.4,1102.3 575.8,1105.5 583.7,1108.7 588.4,1110.2 594.8,1113.4 601.1,1119.8 602.7,1129.3 599.5,1138.8 591.6,1145.1 586.8,1138.8 580.5,1141.9 574.2,1145.1 569.4,1140.4 565.4,1138.8" fill="#960000" stroke="#E10000" stroke-width="4.5" stroke-linejoin="round"/>
<polygon points="621.7,1110.2 626.5,1097.6 631.2,1097.6 631.2,1116.6 626.5,1115.0" fill="#960000" stroke="#E10000" stroke-width="4.5" stroke-linejoin="round"/>
<polygon points="644.2,1088.0 651.8,1091.2 658.2,1097.6 664.5,1103.9 667.7,1113.4 666.1,1126.1 662.9,1132.4 656.6,1137.2 648.7,1140.4 644.2,1140.4" fill="#960000" stroke="#E10000" stroke-width="4.5" stroke-linejoin="round"/>
<polygon points="762.8,1132.4 767.6,1127.7 773.9,1132.4 778.7,1141.9 778.7,1157.8 773.9,1170.5 769.2,1173.7 764.4,1164.1 762.0,1148.3" fill="#960000" stroke="#E10000" stroke-width="4.5" stroke-linejoin="round"/>
<polygon points="848.1,1102.3 854.8,1100.7 861.1,1102.3 861.1,1126.1 854.8,1129.3 848.1,1132.4" fill="#960000" stroke="#E10000" stroke-width="4.5" stroke-linejoin="round"/>
<polygon points="875.8,1090.4 881.9,1092.0 887.9,1091.5 887.9,1130.1 881.9,1129.3 875.8,1131.6" fill="#960000" stroke="#E10000" stroke-width="4.5" stroke-linejoin="round"/>
<polygon points="908.5,1107.1 915.1,1102.3 921.5,1089.6 928.3,1077.7 928.3,1128.5 924.7,1119.8 921.5,1110.2 915.1,1116.6 908.5,1119.8" fill="#960000" stroke="#E10000" stroke-width="4.5" stroke-linejoin="round"/>
<polygon points="940.2,1082.5 948.4,1080.9 954.8,1082.5 964.3,1084.1 973.8,1090.4 980.1,1093.6 986.5,1084.1 996.0,1087.3 1002.3,1096.8 1005.5,1110.2 1005.5,1119.8 1002.3,1132.4 999.2,1138.0 992.8,1124.5 986.5,1116.6 980.1,1110.2 973.8,1118.2 967.5,1122.9 961.1,1124.5 954.8,1124.5 946.8,1118.2 940.2,1119.8" fill="#960000" stroke="#E10000" stroke-width="4.5" stroke-linejoin="round"/>
<polygon points="1029.3,1143.5 1032.5,1140.4 1037.2,1143.5 1032.5,1148.3" fill="#960000" stroke="#E10000" stroke-width="4.5" stroke-linejoin="round"/>
<polygon points="1111.7,1110.2 1116.5,1107.1 1126.0,1121.3 1119.6,1127.7 1113.3,1119.8" fill="#960000" stroke="#E10000" stroke-width="4.5" stroke-linejoin="round"/>
<polygon points="1152.1,1107.1 1156.1,1095.2 1160.1,1105.5 1160.1,1132.4 1157.7,1144.3 1154.5,1138.8 1152.1,1121.3" fill="#960000" stroke="#E10000" stroke-width="4.5" stroke-linejoin="round"/>
<polygon points="1195.7,1113.4 1202.1,1100.7 1210.0,1103.9 1214.8,1092.0 1219.5,1097.6 1222.7,1116.6 1221.1,1145.1 1217.9,1161.0 1216.3,1175.2 1210.0,1170.5 1203.7,1157.8 1198.9,1148.3 1195.7,1129.3" fill="#960000" stroke="#E10000" stroke-width="4.5" stroke-linejoin="round"/>
<polygon points="1250.0,1070.8 1262.9,1066.0 1272.5,1072.4 1278.9,1086.9 1283.7,1102.9 1290.1,1112.5 1296.5,1123.7 1301.3,1139.8 1298.1,1149.4 1293.3,1165.4 1283.7,1168.6 1275.7,1178.2 1264.5,1176.6 1256.5,1183.0 1250.0,1171.8 1248.4,1130.1 1248.4,1090.1" fill="#960000" stroke="#E10000" stroke-width="4.5" stroke-linejoin="round"/>
<polygon points="1302.9,1139.8 1309.3,1118.9 1315.8,1112.5 1323.8,1108.5 1331.8,1109.3 1338.2,1117.3 1336.6,1131.7 1331.8,1146.2 1325.4,1159.0 1322.2,1162.2 1314.2,1159.0 1307.7,1157.4 1304.5,1152.6" fill="#960000" stroke="#E10000" stroke-width="4.5" stroke-linejoin="round"/>
<polygon points="1357.4,1104.5 1363.8,1098.1 1373.5,1098.1 1386.3,1097.3 1395.9,1099.7 1400.7,1106.1 1407.1,1109.3 1411.9,1120.5 1408.7,1130.1 1405.5,1133.3 1399.1,1130.1 1394.3,1147.8 1389.5,1136.6 1381.5,1128.5 1376.7,1136.6 1370.3,1143.0 1362.2,1146.2 1357.4,1138.2 1355.8,1122.1" fill="#960000" stroke="#E10000" stroke-width="4.5" stroke-linejoin="round"/>
<polygon points="1444.0,1110.9 1453.6,1104.5 1466.4,1102.9 1479.2,1098.1 1485.7,1099.7 1492.1,1114.1 1501.7,1115.7 1508.1,1118.9 1512.9,1130.1 1511.3,1146.2 1504.9,1139.8 1498.5,1143.0 1492.1,1133.3 1485.7,1138.2 1476.0,1133.3 1466.4,1136.6 1460.0,1139.8 1453.6,1136.6 1447.2,1136.6 1444.0,1125.3" fill="#960000" stroke="#E10000" stroke-width="4.5" stroke-linejoin="round"/>
<path d="M157.7,1088.0 H1559.6 M157.7,1121.9 H1559.6 M157.7,1189.8 H1559.6 M157.7,1235.1 H1559.6 M157.7,1280.4 H1559.6 M157.7,1325.7 H1559.6 M157.7,1371.0 H1559.6 M157.7,1416.2 H1559.6 M157.7,1461.5 H1559.6" stroke="#fff" stroke-opacity="0.16" stroke-width="1.2" fill="none"/>
</g>
<rect x="243.5" y="1057.2" width="14.300000000000011" height="448.5999999999999" fill="#fff"/>
<rect x="387.8" y="1057.2" width="13.399999999999977" height="448.5999999999999" fill="#fff"/>
<rect x="257.8" y="1461.5" width="18.19999999999999" height="44.299999999999955" fill="#fff"/>
<rect x="289.5" y="1461.5" width="19.5" height="44.299999999999955" fill="#fff"/>
<rect x="447.2" y="1461.5" width="26.19999999999999" height="44.299999999999955" fill="#fff"/>
<rect x="525.8" y="1461.5" width="19.5" height="44.299999999999955" fill="#fff"/>
<rect x="552.3" y="1057.2" width="13.100000000000023" height="448.5999999999999" fill="#fff"/>
<rect x="565.4" y="1461.5" width="6.899999999999977" height="44.299999999999955" fill="#fff"/>
<rect x="578.6" y="1461.5" width="39.60000000000002" height="44.299999999999955" fill="#fff"/>
<rect x="624.6" y="1461.5" width="6.600000000000023" height="44.299999999999955" fill="#fff"/>
<rect x="631.2" y="1057.2" width="13.0" height="448.5999999999999" fill="#fff"/>
<rect x="716.8" y="1461.5" width="19.40000000000009" height="44.299999999999955" fill="#fff"/>
<rect x="749.8" y="1461.5" width="26.0" height="44.299999999999955" fill="#fff"/>
<rect x="835" y="1057.2" width="13.100000000000023" height="448.5999999999999" fill="#fff"/>
<rect x="861.1" y="1057.2" width="14.699999999999932" height="448.5999999999999" fill="#fff"/>
<rect x="887.9" y="1057.2" width="20.5" height="448.5999999999999" fill="#fff"/>
<rect x="928.3" y="1057.2" width="11.900000000000091" height="448.5999999999999" fill="#fff"/>
<rect x="953.8" y="1057.2" width="19.40000000000009" height="5.599999999999909" fill="#fff"/>
<rect x="1361.1" y="1057.2" width="19.800000000000182" height="5.5" fill="#fff"/>
<rect x="940.2" y="1371.3" width="19.59999999999991" height="134.5" fill="#fff"/>
<rect x="959.8" y="1461.7" width="6.900000000000091" height="44.09999999999991" fill="#fff"/>
<rect x="986.5" y="1461.7" width="38.799999999999955" height="44.09999999999991" fill="#fff"/>
<rect x="1052.3" y="1461.7" width="19.799999999999955" height="44.09999999999991" fill="#fff"/>
<rect x="1111" y="1461.7" width="33.200000000000045" height="44.09999999999991" fill="#fff"/>
<rect x="1156.9" y="1461.7" width="26.899999999999864" height="44.09999999999991" fill="#fff"/>
<rect x="1183.8" y="1371.3" width="18.799999999999955" height="134.5" fill="#fff"/>
<rect x="1202.6" y="1461.7" width="26.90000000000009" height="44.09999999999991" fill="#fff"/>
<rect x="1235.9" y="1461.8" width="85.89999999999986" height="44.0" fill="#fff"/>
<rect x="1413.5" y="1461.8" width="20.09999999999991" height="44.0" fill="#fff"/>
<rect x="1452.8" y="1461.8" width="40.90000000000009" height="44.0" fill="#fff"/>
<rect x="1532.1" y="1461.8" width="20.90000000000009" height="44.0" fill="#fff"/>
<path d="M186.8,14.0 v8 M186.8,463.5 v-8 M226.2,14.0 v8 M226.2,463.5 v-8 M267.0,14.0 v8 M267.0,463.5 v-8 M307.8,14.0 v8 M307.8,463.5 v-8 M347.2,14.0 v8 M347.2,463.5 v-8 M388.0,14.0 v8 M388.0,463.5 v-8 M427.4,14.0 v8 M427.4,463.5 v-8 M468.2,14.0 v8 M468.2,463.5 v-8 M509.0,14.0 v8 M509.0,463.5 v-8 M545.8,14.0 v8 M545.8,463.5 v-8 M586.5,14.0 v8 M586.5,463.5 v-8 M626.0,14.0 v8 M626.0,463.5 v-8 M666.8,14.0 v8 M666.8,463.5 v-8 M706.2,14.0 v8 M706.2,463.5 v-8 M747.0,14.0 v8 M747.0,463.5 v-8 M787.8,14.0 v8 M787.8,463.5 v-8 M827.2,14.0 v8 M827.2,463.5 v-8 M868.0,14.0 v8 M868.0,463.5 v-8 M907.4,14.0 v8 M907.4,463.5 v-8 M948.2,14.0 v8 M948.2,463.5 v-8 M989.0,14.0 v8 M989.0,463.5 v-8 M1025.8,14.0 v8 M1025.8,463.5 v-8 M1066.5,14.0 v8 M1066.5,463.5 v-8 M1106.0,14.0 v8 M1106.0,463.5 v-8 M1146.8,14.0 v8 M1146.8,463.5 v-8 M1186.2,14.0 v8 M1186.2,463.5 v-8 M1227.0,14.0 v8 M1227.0,463.5 v-8 M1267.8,14.0 v8 M1267.8,463.5 v-8 M1307.2,14.0 v8 M1307.2,463.5 v-8 M1348.0,14.0 v8 M1348.0,463.5 v-8 M1387.4,14.0 v8 M1387.4,463.5 v-8 M1428.2,14.0 v8 M1428.2,463.5 v-8 M1469.0,14.0 v8 M1469.0,463.5 v-8 M1505.8,14.0 v8 M1505.8,463.5 v-8 M1546.5,14.0 v8 M1546.5,463.5 v-8" stroke="#000" stroke-width="3" fill="none"/>
<path d="M148.0,57.4 h6 M1584.0,57.4 h-6 M148.0,102.7 h6 M1584.0,102.7 h-6 M148.0,148.1 h6 M1584.0,148.1 h-6 M148.0,193.4 h6 M1584.0,193.4 h-6 M148.0,238.8 h6 M1584.0,238.8 h-6 M148.0,284.1 h6 M1584.0,284.1 h-6 M148.0,329.4 h6 M1584.0,329.4 h-6 M148.0,374.8 h6 M1584.0,374.8 h-6 M148.0,420.1 h6 M1584.0,420.1 h-6" stroke="#000" stroke-width="3" fill="none"/>
<rect x="146.0" y="12.0" width="1440.0" height="453.5" fill="none" stroke="#000" stroke-width="4"/>
<path d="M186.8,534.3 v8 M186.8,983.8 v-8 M226.2,534.3 v8 M226.2,983.8 v-8 M267.0,534.3 v8 M267.0,983.8 v-8 M307.8,534.3 v8 M307.8,983.8 v-8 M347.2,534.3 v8 M347.2,983.8 v-8 M388.0,534.3 v8 M388.0,983.8 v-8 M427.4,534.3 v8 M427.4,983.8 v-8 M468.2,534.3 v8 M468.2,983.8 v-8 M509.0,534.3 v8 M509.0,983.8 v-8 M545.8,534.3 v8 M545.8,983.8 v-8 M586.5,534.3 v8 M586.5,983.8 v-8 M626.0,534.3 v8 M626.0,983.8 v-8 M666.8,534.3 v8 M666.8,983.8 v-8 M706.2,534.3 v8 M706.2,983.8 v-8 M747.0,534.3 v8 M747.0,983.8 v-8 M787.8,534.3 v8 M787.8,983.8 v-8 M827.2,534.3 v8 M827.2,983.8 v-8 M868.0,534.3 v8 M868.0,983.8 v-8 M907.4,534.3 v8 M907.4,983.8 v-8 M948.2,534.3 v8 M948.2,983.8 v-8 M989.0,534.3 v8 M989.0,983.8 v-8 M1025.8,534.3 v8 M1025.8,983.8 v-8 M1066.5,534.3 v8 M1066.5,983.8 v-8 M1106.0,534.3 v8 M1106.0,983.8 v-8 M1146.8,534.3 v8 M1146.8,983.8 v-8 M1186.2,534.3 v8 M1186.2,983.8 v-8 M1227.0,534.3 v8 M1227.0,983.8 v-8 M1267.8,534.3 v8 M1267.8,983.8 v-8 M1307.2,534.3 v8 M1307.2,983.8 v-8 M1348.0,534.3 v8 M1348.0,983.8 v-8 M1387.4,534.3 v8 M1387.4,983.8 v-8 M1428.2,534.3 v8 M1428.2,983.8 v-8 M1469.0,534.3 v8 M1469.0,983.8 v-8 M1505.8,534.3 v8 M1505.8,983.8 v-8 M1546.5,534.3 v8 M1546.5,983.8 v-8" stroke="#000" stroke-width="3" fill="none"/>
<path d="M148.0,577.6 h6 M1584.0,577.6 h-6 M148.0,623.0 h6 M1584.0,623.0 h-6 M148.0,668.3 h6 M1584.0,668.3 h-6 M148.0,713.7 h6 M1584.0,713.7 h-6 M148.0,759.0 h6 M1584.0,759.0 h-6 M148.0,804.4 h6 M1584.0,804.4 h-6 M148.0,849.8 h6 M1584.0,849.8 h-6 M148.0,895.1 h6 M1584.0,895.1 h-6 M148.0,940.4 h6 M1584.0,940.4 h-6" stroke="#000" stroke-width="3" fill="none"/>
<rect x="146.0" y="532.3" width="1440.0" height="453.5" fill="none" stroke="#000" stroke-width="4"/>
<path d="M186.8,1056.0 v8 M186.8,1504.8 v-8 M226.2,1056.0 v8 M226.2,1504.8 v-8 M267.0,1056.0 v8 M267.0,1504.8 v-8 M307.8,1056.0 v8 M307.8,1504.8 v-8 M347.2,1056.0 v8 M347.2,1504.8 v-8 M388.0,1056.0 v8 M388.0,1504.8 v-8 M427.4,1056.0 v8 M427.4,1504.8 v-8 M468.2,1056.0 v8 M468.2,1504.8 v-8 M509.0,1056.0 v8 M509.0,1504.8 v-8 M545.8,1056.0 v8 M545.8,1504.8 v-8 M586.5,1056.0 v8 M586.5,1504.8 v-8 M626.0,1056.0 v8 M626.0,1504.8 v-8 M666.8,1056.0 v8 M666.8,1504.8 v-8 M706.2,1056.0 v8 M706.2,1504.8 v-8 M747.0,1056.0 v8 M747.0,1504.8 v-8 M787.8,1056.0 v8 M787.8,1504.8 v-8 M827.2,1056.0 v8 M827.2,1504.8 v-8 M868.0,1056.0 v8 M868.0,1504.8 v-8 M907.4,1056.0 v8 M907.4,1504.8 v-8 M948.2,1056.0 v8 M948.2,1504.8 v-8 M989.0,1056.0 v8 M989.0,1504.8 v-8 M1025.8,1056.0 v8 M1025.8,1504.8 v-8 M1066.5,1056.0 v8 M1066.5,1504.8 v-8 M1106.0,1056.0 v8 M1106.0,1504.8 v-8 M1146.8,1056.0 v8 M1146.8,1504.8 v-8 M1186.2,1056.0 v8 M1186.2,1504.8 v-8 M1227.0,1056.0 v8 M1227.0,1504.8 v-8 M1267.8,1056.0 v8 M1267.8,1504.8 v-8 M1307.2,1056.0 v8 M1307.2,1504.8 v-8 M1348.0,1056.0 v8 M1348.0,1504.8 v-8 M1387.4,1056.0 v8 M1387.4,1504.8 v-8 M1428.2,1056.0 v8 M1428.2,1504.8 v-8 M1469.0,1056.0 v8 M1469.0,1504.8 v-8 M1505.8,1056.0 v8 M1505.8,1504.8 v-8 M1546.5,1056.0 v8 M1546.5,1504.8 v-8" stroke="#000" stroke-width="3" fill="none"/>
<path d="M148.0,1099.3 h6 M1584.0,1099.3 h-6 M148.0,1144.6 h6 M1584.0,1144.6 h-6 M148.0,1189.8 h6 M1584.0,1189.8 h-6 M148.0,1235.1 h6 M1584.0,1235.1 h-6 M148.0,1280.4 h6 M1584.0,1280.4 h-6 M148.0,1325.7 h6 M1584.0,1325.7 h-6 M148.0,1371.0 h6 M1584.0,1371.0 h-6 M148.0,1416.2 h6 M1584.0,1416.2 h-6 M148.0,1461.5 h6 M1584.0,1461.5 h-6" stroke="#000" stroke-width="3" fill="none"/>
<rect x="146.0" y="1054.0" width="1440.0" height="452.79999999999995" fill="none" stroke="#000" stroke-width="4"/>
<text x="129.3" y="23.6" font-size="34.5" font-weight="bold" text-anchor="end" textLength="18.8" lengthAdjust="spacingAndGlyphs">0</text>
<text x="129.3" y="114.3" font-size="34.5" font-weight="bold" text-anchor="end" textLength="56.3" lengthAdjust="spacingAndGlyphs">200</text>
<text x="129.3" y="205.0" font-size="34.5" font-weight="bold" text-anchor="end" textLength="56.3" lengthAdjust="spacingAndGlyphs">400</text>
<text x="129.3" y="295.7" font-size="34.5" font-weight="bold" text-anchor="end" textLength="56.3" lengthAdjust="spacingAndGlyphs">600</text>
<text x="129.3" y="386.4" font-size="34.5" font-weight="bold" text-anchor="end" textLength="56.3" lengthAdjust="spacingAndGlyphs">800</text>
<text x="129.3" y="477.1" font-size="34.5" font-weight="bold" text-anchor="end" textLength="75.1" lengthAdjust="spacingAndGlyphs">1000</text>
<text x="128.5" y="544.2" font-size="35.5" font-weight="bold" text-anchor="end" textLength="20.3" lengthAdjust="spacingAndGlyphs">0</text>
<text x="128.5" y="634.9" font-size="35.5" font-weight="bold" text-anchor="end" textLength="61.0" lengthAdjust="spacingAndGlyphs">200</text>
<text x="128.5" y="725.6" font-size="35.5" font-weight="bold" text-anchor="end" textLength="61.0" lengthAdjust="spacingAndGlyphs">400</text>
<text x="128.5" y="816.3" font-size="35.5" font-weight="bold" text-anchor="end" textLength="61.0" lengthAdjust="spacingAndGlyphs">600</text>
<text x="128.5" y="907.0" font-size="35.5" font-weight="bold" text-anchor="end" textLength="61.0" lengthAdjust="spacingAndGlyphs">800</text>
<text x="128.5" y="997.7" font-size="35.5" font-weight="bold" text-anchor="end" textLength="81.3" lengthAdjust="spacingAndGlyphs">1000</text>
<text x="128.5" y="1065.9" font-size="35.5" font-weight="bold" text-anchor="end" textLength="20.3" lengthAdjust="spacingAndGlyphs">0</text>
<text x="128.5" y="1156.5" font-size="35.5" font-weight="bold" text-anchor="end" textLength="61.0" lengthAdjust="spacingAndGlyphs">200</text>
<text x="128.5" y="1247.0" font-size="35.5" font-weight="bold" text-anchor="end" textLength="61.0" lengthAdjust="spacingAndGlyphs">400</text>
<text x="128.5" y="1337.6" font-size="35.5" font-weight="bold" text-anchor="end" textLength="61.0" lengthAdjust="spacingAndGlyphs">600</text>
<text x="128.5" y="1428.1" font-size="35.5" font-weight="bold" text-anchor="end" textLength="61.0" lengthAdjust="spacingAndGlyphs">800</text>
<text x="128.5" y="1518.7" font-size="35.5" font-weight="bold" text-anchor="end" textLength="81.3" lengthAdjust="spacingAndGlyphs">1000</text>
<text transform="translate(35.7,238.9) rotate(-90)" x="0" y="0" font-size="32.5" text-anchor="middle" textLength="162.0" lengthAdjust="spacingAndGlyphs" stroke="#000" stroke-width="0.7">DEPTH (m)</text>
<text transform="translate(26.7,759.6) rotate(-90)" x="0" y="0" font-size="35.5" text-anchor="middle" textLength="176.0" lengthAdjust="spacingAndGlyphs" stroke="#000" stroke-width="0.7">DEPTH (m)</text>
<text transform="translate(29.1,1280.1) rotate(-90)" x="0" y="0" font-size="34.5" text-anchor="middle" textLength="172.0" lengthAdjust="spacingAndGlyphs" stroke="#000" stroke-width="0.7">DEPTH (m)</text>
<text x="51.8" y="55.9" font-size="52.7" font-weight="normal" text-anchor="start" textLength="63.1" lengthAdjust="spacingAndGlyphs">(a)</text>
<text x="42.7" y="578.9" font-size="58.2" font-weight="normal" text-anchor="start" textLength="70.1" lengthAdjust="spacingAndGlyphs">(b)</text>
<text x="47.8" y="1091.8" font-size="58.3" font-weight="normal" text-anchor="start" textLength="64.0" lengthAdjust="spacingAndGlyphs">(c)</text>
<text x="633.8" y="507.3" font-size="51.6" font-weight="normal" text-anchor="start" textLength="280.0" lengthAdjust="spacingAndGlyphs">ARGO TEMP</text>
<text x="652.0" y="1028.5" font-size="51.6" font-weight="normal" text-anchor="start" textLength="340.0" lengthAdjust="spacingAndGlyphs">HYCOM TEMP</text>
<text x="543.6" y="1657.4" font-size="51.8" font-weight="normal" text-anchor="start" textLength="557.0" lengthAdjust="spacingAndGlyphs">HYCOM−ARGO (TEMP)</text>
<text x="166.9" y="1543.0" font-size="41.0" font-weight="bold" text-anchor="middle" textLength="25.5" lengthAdjust="spacingAndGlyphs">M</text>
<text x="207.0" y="1543.0" font-size="41.0" font-weight="bold" text-anchor="middle" textLength="16.0" lengthAdjust="spacingAndGlyphs">J</text>
<text x="247.1" y="1543.0" font-size="41.0" font-weight="bold" text-anchor="middle" textLength="16.0" lengthAdjust="spacingAndGlyphs">J</text>
<text x="287.9" y="1543.0" font-size="41.0" font-weight="bold" text-anchor="middle" textLength="21.0" lengthAdjust="spacingAndGlyphs">A</text>
<text x="328.0" y="1543.0" font-size="41.0" font-weight="bold" text-anchor="middle" textLength="18.0" lengthAdjust="spacingAndGlyphs">S</text>
<text x="368.1" y="1543.0" font-size="41.0" font-weight="bold" text-anchor="middle" textLength="21.0" lengthAdjust="spacingAndGlyphs">O</text>
<text x="408.2" y="1543.0" font-size="41.0" font-weight="bold" text-anchor="middle" textLength="22.0" lengthAdjust="spacingAndGlyphs">N</text>
<text x="448.3" y="1543.0" font-size="41.0" font-weight="bold" text-anchor="middle" textLength="21.0" lengthAdjust="spacingAndGlyphs">D</text>
<text x="489.1" y="1543.0" font-size="41.0" font-weight="bold" text-anchor="middle" textLength="16.0" lengthAdjust="spacingAndGlyphs">J</text>
<text x="527.9" y="1543.0" font-size="41.0" font-weight="bold" text-anchor="middle" textLength="19.0" lengthAdjust="spacingAndGlyphs">F</text>
<text x="566.7" y="1543.0" font-size="41.0" font-weight="bold" text-anchor="middle" textLength="25.5" lengthAdjust="spacingAndGlyphs">M</text>
<text x="606.8" y="1543.0" font-size="41.0" font-weight="bold" text-anchor="middle" textLength="21.0" lengthAdjust="spacingAndGlyphs">A</text>
<text x="646.9" y="1543.0" font-size="41.0" font-weight="bold" text-anchor="middle" textLength="25.5" lengthAdjust="spacingAndGlyphs">M</text>
<text x="687.0" y="1543.0" font-size="41.0" font-weight="bold" text-anchor="middle" textLength="16.0" lengthAdjust="spacingAndGlyphs">J</text>
<text x="727.1" y="1543.0" font-size="41.0" font-weight="bold" text-anchor="middle" textLength="16.0" lengthAdjust="spacingAndGlyphs">J</text>
<text x="767.9" y="1543.0" font-size="41.0" font-weight="bold" text-anchor="middle" textLength="21.0" lengthAdjust="spacingAndGlyphs">A</text>
<text x="808.0" y="1543.0" font-size="41.0" font-weight="bold" text-anchor="middle" textLength="18.0" lengthAdjust="spacingAndGlyphs">S</text>
<text x="848.1" y="1543.0" font-size="41.0" font-weight="bold" text-anchor="middle" textLength="21.0" lengthAdjust="spacingAndGlyphs">O</text>
<text x="888.2" y="1543.0" font-size="41.0" font-weight="bold" text-anchor="middle" textLength="22.0" lengthAdjust="spacingAndGlyphs">N</text>
<text x="928.3" y="1543.0" font-size="41.0" font-weight="bold" text-anchor="middle" textLength="21.0" lengthAdjust="spacingAndGlyphs">D</text>
<text x="969.1" y="1543.0" font-size="41.0" font-weight="bold" text-anchor="middle" textLength="16.0" lengthAdjust="spacingAndGlyphs">J</text>
<text x="1007.9" y="1543.0" font-size="41.0" font-weight="bold" text-anchor="middle" textLength="19.0" lengthAdjust="spacingAndGlyphs">F</text>
<text x="1046.7" y="1543.0" font-size="41.0" font-weight="bold" text-anchor="middle" textLength="25.5" lengthAdjust="spacingAndGlyphs">M</text>
<text x="1086.8" y="1543.0" font-size="41.0" font-weight="bold" text-anchor="middle" textLength="21.0" lengthAdjust="spacingAndGlyphs">A</text>
<text x="1126.9" y="1543.0" font-size="41.0" font-weight="bold" text-anchor="middle" textLength="25.5" lengthAdjust="spacingAndGlyphs">M</text>
<text x="1167.0" y="1543.0" font-size="41.0" font-weight="bold" text-anchor="middle" textLength="16.0" lengthAdjust="spacingAndGlyphs">J</text>
<text x="1207.1" y="1543.0" font-size="41.0" font-weight="bold" text-anchor="middle" textLength="16.0" lengthAdjust="spacingAndGlyphs">J</text>
<text x="1247.9" y="1543.0" font-size="41.0" font-weight="bold" text-anchor="middle" textLength="21.0" lengthAdjust="spacingAndGlyphs">A</text>
<text x="1288.0" y="1543.0" font-size="41.0" font-weight="bold" text-anchor="middle" textLength="18.0" lengthAdjust="spacingAndGlyphs">S</text>
<text x="1328.1" y="1543.0" font-size="41.0" font-weight="bold" text-anchor="middle" textLength="21.0" lengthAdjust="spacingAndGlyphs">O</text>
<text x="1368.2" y="1543.0" font-size="41.0" font-weight="bold" text-anchor="middle" textLength="22.0" lengthAdjust="spacingAndGlyphs">N</text>
<text x="1408.3" y="1543.0" font-size="41.0" font-weight="bold" text-anchor="middle" textLength="21.0" lengthAdjust="spacingAndGlyphs">D</text>
<text x="1449.1" y="1543.0" font-size="41.0" font-weight="bold" text-anchor="middle" textLength="16.0" lengthAdjust="spacingAndGlyphs">J</text>
<text x="1487.9" y="1543.0" font-size="41.0" font-weight="bold" text-anchor="middle" textLength="19.0" lengthAdjust="spacingAndGlyphs">F</text>
<text x="1526.7" y="1543.0" font-size="41.0" font-weight="bold" text-anchor="middle" textLength="25.5" lengthAdjust="spacingAndGlyphs">M</text>
<text x="1566.8" y="1543.0" font-size="41.0" font-weight="bold" text-anchor="middle" textLength="21.0" lengthAdjust="spacingAndGlyphs">A</text>
<text x="248.0" y="1602.3" font-size="52.5" font-weight="normal" text-anchor="start" textLength="118.0" lengthAdjust="spacingAndGlyphs" stroke="#000" stroke-width="1.1">2004</text>
<text x="647.7" y="1602.3" font-size="52.5" font-weight="normal" text-anchor="start" textLength="119.7" lengthAdjust="spacingAndGlyphs" stroke="#000" stroke-width="1.1">2005</text>
<text x="1128.2" y="1602.3" font-size="52.5" font-weight="normal" text-anchor="start" textLength="119.2" lengthAdjust="spacingAndGlyphs" stroke="#000" stroke-width="1.1">2006</text>
<text x="1447.0" y="1602.3" font-size="52.5" font-weight="normal" text-anchor="start" textLength="118.6" lengthAdjust="spacingAndGlyphs" stroke="#000" stroke-width="1.1">2007</text>
<polygon points="1620.75,9.2 1637.5,69.2 1604,69.2" fill="#960000" stroke="#000" stroke-width="3" stroke-linejoin="miter"/>
<polygon points="1604,927.8 1637.5,927.8 1620.75,985" fill="#D000FF" stroke="#000" stroke-width="3" stroke-linejoin="miter"/>
<rect x="1604" y="69.20" width="33.5" height="57.24" fill="#D60000" stroke="#000" stroke-width="3"/>
<rect x="1604" y="126.44" width="33.5" height="57.24" fill="#FF1A00" stroke="#000" stroke-width="3"/>
<rect x="1604" y="183.68" width="33.5" height="57.24" fill="#FF5F00" stroke="#000" stroke-width="3"/>
<rect x="1604" y="240.92" width="33.5" height="57.24" fill="#FFA000" stroke="#000" stroke-width="3"/>
<rect x="1604" y="298.16" width="33.5" height="57.24" fill="#FFE000" stroke="#000" stroke-width="3"/>
<rect x="1604" y="355.40" width="33.5" height="57.24" fill="#E3F50A" stroke="#000" stroke-width="3"/>
<rect x="1604" y="412.64" width="33.5" height="57.24" fill="#B7E31B" stroke="#000" stroke-width="3"/>
<rect x="1604" y="469.88" width="33.5" height="57.24" fill="#80CE25" stroke="#000" stroke-width="3"/>
<rect x="1604" y="527.12" width="33.5" height="57.24" fill="#55B935" stroke="#000" stroke-width="3"/>
<rect x="1604" y="584.36" width="33.5" height="57.24" fill="#27A843" stroke="#000" stroke-width="3"/>
<rect x="1604" y="641.60" width="33.5" height="57.24" fill="#069058" stroke="#000" stroke-width="3"/>
<rect x="1604" y="698.84" width="33.5" height="57.24" fill="#1C7589" stroke="#000" stroke-width="3"/>
<rect x="1604" y="756.08" width="33.5" height="57.24" fill="#3058B8" stroke="#000" stroke-width="3"/>
<rect x="1604" y="813.32" width="33.5" height="57.24" fill="#4141E8" stroke="#000" stroke-width="3"/>
<rect x="1604" y="870.56" width="33.5" height="57.24" fill="#8020FF" stroke="#000" stroke-width="3"/>
<text x="1712.0" y="136.5" font-size="30.0" font-weight="bold" text-anchor="end" textLength="66.0" lengthAdjust="spacingAndGlyphs">30.0</text>
<text x="1712.0" y="251.0" font-size="30.0" font-weight="bold" text-anchor="end" textLength="66.0" lengthAdjust="spacingAndGlyphs">26.0</text>
<text x="1712.0" y="365.4" font-size="30.0" font-weight="bold" text-anchor="end" textLength="66.0" lengthAdjust="spacingAndGlyphs">22.0</text>
<text x="1712.0" y="479.9" font-size="30.0" font-weight="bold" text-anchor="end" textLength="66.0" lengthAdjust="spacingAndGlyphs">18.0</text>
<text x="1712.0" y="594.4" font-size="30.0" font-weight="bold" text-anchor="end" textLength="66.0" lengthAdjust="spacingAndGlyphs">14.0</text>
<text x="1712.0" y="708.9" font-size="30.0" font-weight="bold" text-anchor="end" textLength="66.0" lengthAdjust="spacingAndGlyphs">10.0</text>
<text x="1712.0" y="823.4" font-size="30.0" font-weight="bold" text-anchor="end" textLength="48.0" lengthAdjust="spacingAndGlyphs">6.0</text>
<text x="1712.0" y="937.8" font-size="30.0" font-weight="bold" text-anchor="end" textLength="48.0" lengthAdjust="spacingAndGlyphs">2.0</text>
<polygon points="1620.5,1051.7 1637,1085.2 1604,1085.2" fill="#960000" stroke="#000" stroke-width="3" stroke-linejoin="miter"/>
<polygon points="1604,1475.7 1637,1475.7 1620.5,1507.7" fill="#CC00FF" stroke="#000" stroke-width="3" stroke-linejoin="miter"/>
<rect x="1604" y="1085.20" width="33" height="32.54" fill="#E10000" stroke="#000" stroke-width="3"/>
<rect x="1604" y="1117.74" width="33" height="32.54" fill="#FF3C00" stroke="#000" stroke-width="3"/>
<rect x="1604" y="1150.28" width="33" height="32.54" fill="#FF8C00" stroke="#000" stroke-width="3"/>
<rect x="1604" y="1182.83" width="33" height="32.54" fill="#FFD800" stroke="#000" stroke-width="3"/>
<rect x="1604" y="1215.37" width="33" height="32.54" fill="#DCF011" stroke="#000" stroke-width="3"/>
<rect x="1604" y="1247.91" width="33" height="32.54" fill="#A4D822" stroke="#000" stroke-width="3"/>
<rect x="1604" y="1280.45" width="33" height="32.54" fill="#6BC132" stroke="#000" stroke-width="3"/>
<rect x="1604" y="1312.99" width="33" height="32.54" fill="#2FA944" stroke="#000" stroke-width="3"/>
<rect x="1604" y="1345.53" width="33" height="32.54" fill="#098B5A" stroke="#000" stroke-width="3"/>
<rect x="1604" y="1378.08" width="33" height="32.54" fill="#216D98" stroke="#000" stroke-width="3"/>
<rect x="1604" y="1410.62" width="33" height="32.54" fill="#3B4CD2" stroke="#000" stroke-width="3"/>
<rect x="1604" y="1443.16" width="33" height="32.54" fill="#6A28FF" stroke="#000" stroke-width="3"/>
<text x="1645.0" y="1095.2" font-size="30.0" font-weight="bold" text-anchor="start" textLength="46.0" lengthAdjust="spacingAndGlyphs">3.0</text>
<text x="1645.0" y="1192.9" font-size="30.0" font-weight="bold" text-anchor="start" textLength="46.0" lengthAdjust="spacingAndGlyphs">1.5</text>
<text x="1645.0" y="1290.5" font-size="30.0" font-weight="bold" text-anchor="start" textLength="46.0" lengthAdjust="spacingAndGlyphs">0.0</text>
<text x="1645.0" y="1388.1" font-size="30.0" font-weight="bold" text-anchor="start" textLength="70.0" lengthAdjust="spacingAndGlyphs">−1.5</text>
<text x="1645.0" y="1485.8" font-size="30.0" font-weight="bold" text-anchor="start" textLength="70.0" lengthAdjust="spacingAndGlyphs">−3.0</text>
<path d="M1857.0,13.9 V463.5 M1887.9,13.9 V463.5 M1918.8,13.9 V463.5 M1949.8,13.9 V463.5 M1980.8,13.9 V463.5 M2011.7,13.9 V463.5 M2042.7,13.9 V463.5 M2073.6,13.9 V463.5 M2104.6,13.9 V463.5 M2135.5,13.9 V463.5 M2166.4,13.9 V463.5 M2197.4,13.9 V463.5 M2228.3,13.9 V463.5 M2259.3,13.9 V463.5 M2290.2,13.9 V463.5 M1828.0,57.3 H2303.8 M1828.0,102.6 H2303.8 M1828.0,148.0 H2303.8 M1828.0,193.3 H2303.8 M1828.0,238.7 H2303.8 M1828.0,284.1 H2303.8 M1828.0,329.4 H2303.8 M1828.0,374.8 H2303.8 M1828.0,420.1 H2303.8" stroke="#000" stroke-width="3.3" stroke-dasharray="3.7 6.1" fill="none"/>
<path d="M1857.0,13.9 v4 M1857.0,463.5 v-4 M1887.9,13.9 v4 M1887.9,463.5 v-4 M1918.8,13.9 v4 M1918.8,463.5 v-4 M1949.8,13.9 v4 M1949.8,463.5 v-4 M1980.8,13.9 v4 M1980.8,463.5 v-4 M2011.7,13.9 v4 M2011.7,463.5 v-4 M2042.7,13.9 v4 M2042.7,463.5 v-4 M2073.6,13.9 v4 M2073.6,463.5 v-4 M2104.6,13.9 v4 M2104.6,463.5 v-4 M2135.5,13.9 v4 M2135.5,463.5 v-4 M2166.4,13.9 v4 M2166.4,463.5 v-4 M2197.4,13.9 v4 M2197.4,463.5 v-4 M2228.3,13.9 v4 M2228.3,463.5 v-4 M2259.3,13.9 v4 M2259.3,463.5 v-4 M2290.2,13.9 v4 M2290.2,463.5 v-4 M1828.0,57.3 h4.5 M2303.8,57.3 h-4.5 M1828.0,102.6 h4.5 M2303.8,102.6 h-4.5 M1828.0,148.0 h4.5 M2303.8,148.0 h-4.5 M1828.0,193.3 h4.5 M2303.8,193.3 h-4.5 M1828.0,238.7 h4.5 M2303.8,238.7 h-4.5 M1828.0,284.1 h4.5 M2303.8,284.1 h-4.5 M1828.0,329.4 h4.5 M2303.8,329.4 h-4.5 M1828.0,374.8 h4.5 M2303.8,374.8 h-4.5 M1828.0,420.1 h4.5 M2303.8,420.1 h-4.5" stroke="#000" stroke-width="3.3" fill="none"/>
<path d="M2211.0,16.0 L2194.0,38.5 L2178.8,57.0 L2155.7,69.3 L2134.0,78.5 L2074.0,101.6 L2037.0,124.7 L2014.0,147.8 L1992.5,192.5 L1977.0,238.6 L1964.8,280.2 L1955.6,329.5 L1946.3,378.8 L1938.6,465.0" stroke="#000" stroke-width="6.4" fill="none" stroke-linejoin="miter" stroke-miterlimit="3"/>
<path d="M2225.0,17.9 L2209.6,35.4 L2189.6,46.2 L2165.0,55.4 L2134.0,66.2 L2088.0,79.4 L2035.6,100.0 L2008.0,124.7 L1992.5,147.8 L1975.6,192.5 L1967.9,238.6 L1952.5,320.2 L1937.0,377.2 L1918.6,465.0" stroke="#FF0000" stroke-width="6.4" fill="none" stroke-linejoin="miter" stroke-miterlimit="3"/>
<rect x="1826.0" y="11.9" width="479.8000000000002" height="453.6" fill="none" stroke="#000" stroke-width="3.4"/>
<text x="2232.0" y="423.5" font-size="25.0" font-weight="bold" text-anchor="end" textLength="171.0" lengthAdjust="spacingAndGlyphs">ARGO_mean_T</text>
<text x="2232.0" y="448.5" font-size="25.0" font-weight="bold" text-anchor="end" textLength="190.0" lengthAdjust="spacingAndGlyphs">HYCOM_mean_T</text>
<path d="M2244.5,416.3 L2294.0,416.3" stroke="#FF0000" stroke-width="6.4" fill="none" stroke-linejoin="miter" stroke-miterlimit="3"/>
<path d="M2244.5,441.0 L2294.0,441.0" stroke="#000" stroke-width="6.8" fill="none" stroke-linejoin="miter" stroke-miterlimit="3"/>
<path d="M1860.3,534.2 V983.8 M1894.5,534.2 V983.8 M1928.8,534.2 V983.8 M1963.1,534.2 V983.8 M1997.4,534.2 V983.8 M2031.6,534.2 V983.8 M2065.9,534.2 V983.8 M2100.2,534.2 V983.8 M2134.4,534.2 V983.8 M2168.7,534.2 V983.8 M2203.0,534.2 V983.8 M2237.3,534.2 V983.8 M2271.5,534.2 V983.8 M1828.0,577.6 H2303.8 M1828.0,622.9 H2303.8 M1828.0,668.3 H2303.8 M1828.0,713.6 H2303.8 M1828.0,759.0 H2303.8 M1828.0,804.4 H2303.8 M1828.0,849.7 H2303.8 M1828.0,895.1 H2303.8 M1828.0,940.4 H2303.8" stroke="#000" stroke-width="3.3" stroke-dasharray="3.7 6.1" fill="none"/>
<path d="M1860.3,534.2 v4 M1860.3,983.8 v-4 M1894.5,534.2 v4 M1894.5,983.8 v-4 M1928.8,534.2 v4 M1928.8,983.8 v-4 M1963.1,534.2 v4 M1963.1,983.8 v-4 M1997.4,534.2 v4 M1997.4,983.8 v-4 M2031.6,534.2 v4 M2031.6,983.8 v-4 M2065.9,534.2 v4 M2065.9,983.8 v-4 M2100.2,534.2 v4 M2100.2,983.8 v-4 M2134.4,534.2 v4 M2134.4,983.8 v-4 M2168.7,534.2 v4 M2168.7,983.8 v-4 M2203.0,534.2 v4 M2203.0,983.8 v-4 M2237.3,534.2 v4 M2237.3,983.8 v-4 M2271.5,534.2 v4 M2271.5,983.8 v-4 M1828.0,577.6 h4.5 M2303.8,577.6 h-4.5 M1828.0,622.9 h4.5 M2303.8,622.9 h-4.5 M1828.0,668.3 h4.5 M2303.8,668.3 h-4.5 M1828.0,713.6 h4.5 M2303.8,713.6 h-4.5 M1828.0,759.0 h4.5 M2303.8,759.0 h-4.5 M1828.0,804.4 h4.5 M2303.8,804.4 h-4.5 M1828.0,849.7 h4.5 M2303.8,849.7 h-4.5 M1828.0,895.1 h4.5 M2303.8,895.1 h-4.5 M1828.0,940.4 h4.5 M2303.8,940.4 h-4.5" stroke="#000" stroke-width="3.3" fill="none"/>
<path d="M1963.0857142857144,532.2 V985.8" stroke="#000" stroke-width="2" fill="none"/>
<path d="M2033.7,537.5 L2007.6,549.0 L2006.0,565.3 L2027.2,576.7 L2082.7,591.4 L2108.8,599.5 L2098.4,604.4 L2079.4,622.4 L2024.0,648.5 L1997.8,676.2 L1981.5,713.8 L1976.6,761.1 L1976.6,849.2 L1981.5,891.6 L1983.1,986.3" stroke="#000" stroke-width="6.4" fill="none" stroke-linejoin="miter" stroke-miterlimit="3"/>
<path d="M2048.4,537.5 L2045.2,549.0 L2099.0,570.2 L2131.6,576.7 L2156.0,588.1 L2148.0,601.2 L2099.0,612.6 L2066.4,622.4 L2027.2,643.6 L2010.9,669.7 L1999.5,712.1 L1994.6,761.1 L1991.3,826.4 L1993.0,891.6 L1991.3,986.3" stroke="#FF0000" stroke-width="6.4" fill="none" stroke-linejoin="miter" stroke-miterlimit="3"/>
<path d="M2007.6,537.5 L2035.4,553.9 L2066.4,566.9 L2099.0,576.7 L2097.4,588.1 L2086.0,601.2 L2046.8,620.8 L2010.9,645.2 L1997.8,668.1 L1993.0,712.1 L1988.0,761.1 L1984.8,826.4 L1983.1,891.6 L1981.5,984.7" stroke="#00FF00" stroke-width="6.4" fill="none" stroke-linejoin="miter" stroke-miterlimit="3"/>
<rect x="1826.0" y="532.2" width="479.8000000000002" height="453.5999999999999" fill="none" stroke="#000" stroke-width="3.4"/>
<text x="2228.0" y="915.6" font-size="26.0" font-weight="bold" text-anchor="end" textLength="119.5" lengthAdjust="spacingAndGlyphs">RMS_DIFF</text>
<text x="2227.5" y="941.7" font-size="26.0" font-weight="bold" text-anchor="end" textLength="140.0" lengthAdjust="spacingAndGlyphs">ARGO_STDV</text>
<text x="2227.5" y="967.3" font-size="26.0" font-weight="bold" text-anchor="end" textLength="159.5" lengthAdjust="spacingAndGlyphs">HYCOM_STDV</text>
<path d="M2241.0,907.9 L2293.3,907.9" stroke="#00FF00" stroke-width="7" fill="none" stroke-linejoin="miter" stroke-miterlimit="3"/>
<path d="M2241.0,934.0 L2293.3,934.0" stroke="#FF0000" stroke-width="7" fill="none" stroke-linejoin="miter" stroke-miterlimit="3"/>
<path d="M2241.0,959.8 L2293.3,959.8" stroke="#000" stroke-width="7" fill="none" stroke-linejoin="miter" stroke-miterlimit="3"/>
<path d="M1874.0,1055.8 V1505.0 M1922.0,1055.8 V1505.0 M1969.9,1055.8 V1505.0 M2017.9,1055.8 V1505.0 M2065.9,1055.8 V1505.0 M2113.9,1055.8 V1505.0 M2161.9,1055.8 V1505.0 M2209.8,1055.8 V1505.0 M2257.8,1055.8 V1505.0 M1828.0,1099.1 H2303.8 M1828.0,1144.4 H2303.8 M1828.0,1189.8 H2303.8 M1828.0,1235.1 H2303.8 M1828.0,1280.4 H2303.8 M1828.0,1325.7 H2303.8 M1828.0,1371.0 H2303.8 M1828.0,1416.4 H2303.8 M1828.0,1461.7 H2303.8" stroke="#000" stroke-width="3.3" stroke-dasharray="3.7 6.1" fill="none"/>
<path d="M1874.0,1055.8 v4 M1874.0,1505.0 v-4 M1922.0,1055.8 v4 M1922.0,1505.0 v-4 M1969.9,1055.8 v4 M1969.9,1505.0 v-4 M2017.9,1055.8 v4 M2017.9,1505.0 v-4 M2065.9,1055.8 v4 M2065.9,1505.0 v-4 M2113.9,1055.8 v4 M2113.9,1505.0 v-4 M2161.9,1055.8 v4 M2161.9,1505.0 v-4 M2209.8,1055.8 v4 M2209.8,1505.0 v-4 M2257.8,1055.8 v4 M2257.8,1505.0 v-4 M1828.0,1099.1 h4.5 M2303.8,1099.1 h-4.5 M1828.0,1144.4 h4.5 M2303.8,1144.4 h-4.5 M1828.0,1189.8 h4.5 M2303.8,1189.8 h-4.5 M1828.0,1235.1 h4.5 M2303.8,1235.1 h-4.5 M1828.0,1280.4 h4.5 M2303.8,1280.4 h-4.5 M1828.0,1325.7 h4.5 M2303.8,1325.7 h-4.5 M1828.0,1371.0 h4.5 M2303.8,1371.0 h-4.5 M1828.0,1416.4 h4.5 M2303.8,1416.4 h-4.5 M1828.0,1461.7 h4.5 M2303.8,1461.7 h-4.5" stroke="#000" stroke-width="3.3" fill="none"/>
<path d="M2233.5,1057.7 L2219.8,1061.7 L2048.4,1075.0 L2061.5,1087.1 L2134.9,1096.9 L2182.2,1108.3 L2184.5,1123.0 L2182.2,1142.6 L2161.0,1165.4 L2159.4,1189.3 L2115.3,1212.8 L2069.6,1234.0 L2028.8,1279.7 L2072.9,1323.7 L2102.3,1371.0 L2107.2,1415.1 L2144.7,1457.5 L2196.9,1507.2" stroke="#000" stroke-width="6.4" fill="none" stroke-linejoin="miter" stroke-miterlimit="3"/>
<rect x="1826.0" y="1053.8" width="479.8000000000002" height="453.20000000000005" fill="none" stroke="#000" stroke-width="3.4"/>
<text x="2226.3" y="1489.0" font-size="26.0" font-weight="bold" text-anchor="end" textLength="162.0" lengthAdjust="spacingAndGlyphs">CORRELATION</text>
<path d="M2241.0,1480.4 L2293.3,1480.4" stroke="#000" stroke-width="7" fill="none" stroke-linejoin="miter" stroke-miterlimit="3"/>
<text x="1763.0" y="77.3" font-size="48.0" font-weight="normal" text-anchor="start" textLength="52.0" lengthAdjust="spacingAndGlyphs">(d)</text>
<text x="1761.0" y="571.3" font-size="48.0" font-weight="normal" text-anchor="start" textLength="52.0" lengthAdjust="spacingAndGlyphs">(e)</text>
<text x="1764.0" y="1091.3" font-size="48.0" font-weight="normal" text-anchor="start" textLength="46.0" lengthAdjust="spacingAndGlyphs">(f)</text>
<text x="1826.0" y="496.7" font-size="28.0" font-weight="bold" text-anchor="middle" textLength="38.0" lengthAdjust="spacingAndGlyphs">2.0</text>
<text x="1888.0" y="496.7" font-size="28.0" font-weight="bold" text-anchor="middle" textLength="38.0" lengthAdjust="spacingAndGlyphs">6.0</text>
<text x="1950.0" y="496.7" font-size="28.0" font-weight="bold" text-anchor="middle" textLength="50.0" lengthAdjust="spacingAndGlyphs">10.0</text>
<text x="2012.0" y="496.7" font-size="28.0" font-weight="bold" text-anchor="middle" textLength="50.0" lengthAdjust="spacingAndGlyphs">14.0</text>
<text x="2074.0" y="496.7" font-size="28.0" font-weight="bold" text-anchor="middle" textLength="50.0" lengthAdjust="spacingAndGlyphs">18.0</text>
<text x="2136.0" y="496.7" font-size="28.0" font-weight="bold" text-anchor="middle" textLength="50.0" lengthAdjust="spacingAndGlyphs">22.0</text>
<text x="2198.0" y="496.7" font-size="28.0" font-weight="bold" text-anchor="middle" textLength="50.0" lengthAdjust="spacingAndGlyphs">26.0</text>
<text x="2260.0" y="496.7" font-size="28.0" font-weight="bold" text-anchor="middle" textLength="50.0" lengthAdjust="spacingAndGlyphs">30.0</text>
<text x="1826.0" y="1018.5" font-size="28.0" font-weight="bold" text-anchor="middle" textLength="57.0" lengthAdjust="spacingAndGlyphs">−2.0</text>
<text x="1894.5" y="1018.5" font-size="28.0" font-weight="bold" text-anchor="middle" textLength="57.0" lengthAdjust="spacingAndGlyphs">−1.0</text>
<text x="1963.1" y="1018.5" font-size="28.0" font-weight="bold" text-anchor="middle" textLength="38.0" lengthAdjust="spacingAndGlyphs">0.0</text>
<text x="2031.6" y="1018.5" font-size="28.0" font-weight="bold" text-anchor="middle" textLength="38.0" lengthAdjust="spacingAndGlyphs">1.0</text>
<text x="2100.2" y="1018.5" font-size="28.0" font-weight="bold" text-anchor="middle" textLength="38.0" lengthAdjust="spacingAndGlyphs">2.0</text>
<text x="2168.7" y="1018.5" font-size="28.0" font-weight="bold" text-anchor="middle" textLength="38.0" lengthAdjust="spacingAndGlyphs">3.0</text>
<text x="2237.3" y="1018.5" font-size="28.0" font-weight="bold" text-anchor="middle" textLength="38.0" lengthAdjust="spacingAndGlyphs">4.0</text>
<text x="2305.8" y="1018.5" font-size="28.0" font-weight="bold" text-anchor="middle" textLength="38.0" lengthAdjust="spacingAndGlyphs">5.0</text>
<text x="1826.0" y="1540.5" font-size="28.0" font-weight="bold" text-anchor="middle" textLength="52.0" lengthAdjust="spacingAndGlyphs">0.00</text>
<text x="1922.0" y="1540.5" font-size="28.0" font-weight="bold" text-anchor="middle" textLength="52.0" lengthAdjust="spacingAndGlyphs">0.20</text>
<text x="2017.9" y="1540.5" font-size="28.0" font-weight="bold" text-anchor="middle" textLength="52.0" lengthAdjust="spacingAndGlyphs">0.40</text>
<text x="2113.9" y="1540.5" font-size="28.0" font-weight="bold" text-anchor="middle" textLength="52.0" lengthAdjust="spacingAndGlyphs">0.60</text>
<text x="2209.8" y="1540.5" font-size="28.0" font-weight="bold" text-anchor="middle" textLength="52.0" lengthAdjust="spacingAndGlyphs">0.80</text>
<text x="2305.8" y="1540.5" font-size="28.0" font-weight="bold" text-anchor="middle" textLength="52.0" lengthAdjust="spacingAndGlyphs">1.00</text>
</svg>
</body></html>
